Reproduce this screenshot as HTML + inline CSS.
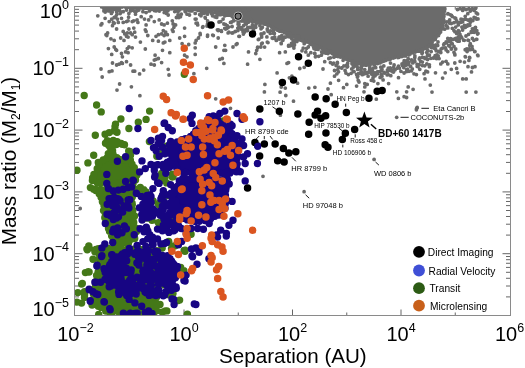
<!DOCTYPE html>
<html><head><meta charset="utf-8"><style>
html,body{margin:0;padding:0;background:#fff;width:525px;height:368px;overflow:hidden}
svg{display:block;will-change:transform}
</style></head><body>
<svg width="525" height="368" viewBox="0 0 525 368">
<defs><clipPath id="cp"><rect x="74.5" y="6.5" width="436.0" height="309.0"/></clipPath></defs>
<path d="M74.5 6.50h8M510.5 6.50h-8M74.5 49.70h4.5M510.5 49.70h-4.5M74.5 38.81h4.5M510.5 38.81h-4.5M74.5 31.09h4.5M510.5 31.09h-4.5M74.5 25.10h4.5M510.5 25.10h-4.5M74.5 20.21h4.5M510.5 20.21h-4.5M74.5 16.07h4.5M510.5 16.07h-4.5M74.5 12.49h4.5M510.5 12.49h-4.5M74.5 9.33h4.5M510.5 9.33h-4.5M74.5 68.30h8M510.5 68.30h-8M74.5 111.50h4.5M510.5 111.50h-4.5M74.5 100.61h4.5M510.5 100.61h-4.5M74.5 92.89h4.5M510.5 92.89h-4.5M74.5 86.90h4.5M510.5 86.90h-4.5M74.5 82.01h4.5M510.5 82.01h-4.5M74.5 77.87h4.5M510.5 77.87h-4.5M74.5 74.29h4.5M510.5 74.29h-4.5M74.5 71.13h4.5M510.5 71.13h-4.5M74.5 130.10h8M510.5 130.10h-8M74.5 173.30h4.5M510.5 173.30h-4.5M74.5 162.41h4.5M510.5 162.41h-4.5M74.5 154.69h4.5M510.5 154.69h-4.5M74.5 148.70h4.5M510.5 148.70h-4.5M74.5 143.81h4.5M510.5 143.81h-4.5M74.5 139.67h4.5M510.5 139.67h-4.5M74.5 136.09h4.5M510.5 136.09h-4.5M74.5 132.93h4.5M510.5 132.93h-4.5M74.5 191.90h8M510.5 191.90h-8M74.5 235.10h4.5M510.5 235.10h-4.5M74.5 224.21h4.5M510.5 224.21h-4.5M74.5 216.49h4.5M510.5 216.49h-4.5M74.5 210.50h4.5M510.5 210.50h-4.5M74.5 205.61h4.5M510.5 205.61h-4.5M74.5 201.47h4.5M510.5 201.47h-4.5M74.5 197.89h4.5M510.5 197.89h-4.5M74.5 194.73h4.5M510.5 194.73h-4.5M74.5 253.70h8M510.5 253.70h-8M74.5 296.90h4.5M510.5 296.90h-4.5M74.5 286.01h4.5M510.5 286.01h-4.5M74.5 278.29h4.5M510.5 278.29h-4.5M74.5 272.30h4.5M510.5 272.30h-4.5M74.5 267.41h4.5M510.5 267.41h-4.5M74.5 263.27h4.5M510.5 263.27h-4.5M74.5 259.69h4.5M510.5 259.69h-4.5M74.5 256.53h4.5M510.5 256.53h-4.5M74.5 315.50h8M510.5 315.50h-8M129.75 315.5v-3M129.75 6.5v3M184.00 315.5v-6M184.00 6.5v6M238.25 315.5v-3M238.25 6.5v3M292.50 315.5v-6M292.50 6.5v6M346.75 315.5v-3M346.75 6.5v3M401.00 315.5v-6M401.00 6.5v6M455.25 315.5v-3M455.25 6.5v3" stroke="#555" stroke-width="0.9" fill="none"/>
<g clip-path="url(#cp)">
<path fill="#6b6b6b" fill-rule="evenodd" d="M101.6 6.9L130.0 7.4L130.1 7.4L160.0 8.4L200.0 9.0L200.0 9.0L215.0 9.4L215.2 9.4L215.4 9.4L215.5 9.5L215.6 9.5L215.8 9.6L215.9 9.7L216.0 9.8L216.2 9.9L216.3 10.0L216.3 10.1L216.4 10.2L216.5 10.4L216.5 10.5L216.6 10.7L217.3 14.5L230.1 15.4L230.3 15.4L230.4 15.4L230.6 15.5L230.8 15.6L230.9 15.7L231.0 15.8L236.6 20.4L253.1 21.4L253.2 21.4L253.4 21.4L262.4 23.4L262.6 23.5L270.6 26.5L270.7 26.6L280.6 31.5L290.5 34.5L290.6 34.5L290.8 34.6L299.7 39.5L309.6 43.5L318.5 46.5L318.7 46.6L328.7 51.6L328.8 51.6L337.6 56.5L347.5 59.5L347.7 59.5L356.5 63.5L366.1 65.4L374.7 64.4L392.5 58.5L392.7 58.4L406.5 55.4L419.4 50.5L419.5 50.5L426.1 48.1L431.8 42.9L438.6 35.1L441.5 29.4L443.4 22.7L445.2 5.6L101.6 5.6L101.6 6.9Z"/>
<path fill="#6b6b6b" d="M95.9 15.8a1.9 1.9 0 1 0 3.8 0a1.9 1.9 0 1 0 -3.8 0M103.2 18.3a1.9 1.9 0 1 0 3.8 0a1.9 1.9 0 1 0 -3.8 0M99.1 24.9a1.9 1.9 0 1 0 3.8 0a1.9 1.9 0 1 0 -3.8 0M100.0 23.7a1.9 1.9 0 1 0 3.8 0a1.9 1.9 0 1 0 -3.8 0M107.3 21.6a1.9 1.9 0 1 0 3.8 0a1.9 1.9 0 1 0 -3.8 0M109.8 19.1a1.9 1.9 0 1 0 3.8 0a1.9 1.9 0 1 0 -3.8 0M112.3 17.5a1.9 1.9 0 1 0 3.8 0a1.9 1.9 0 1 0 -3.8 0M113.9 16.7a1.9 1.9 0 1 0 3.8 0a1.9 1.9 0 1 0 -3.8 0M115.5 19.1a1.9 1.9 0 1 0 3.8 0a1.9 1.9 0 1 0 -3.8 0M111.4 22.4a1.9 1.9 0 1 0 3.8 0a1.9 1.9 0 1 0 -3.8 0M110.6 25.7a1.9 1.9 0 1 0 3.8 0a1.9 1.9 0 1 0 -3.8 0M114.7 29.0a1.9 1.9 0 1 0 3.8 0a1.9 1.9 0 1 0 -3.8 0M112.3 23.2a1.9 1.9 0 1 0 3.8 0a1.9 1.9 0 1 0 -3.8 0M116.4 22.4a1.9 1.9 0 1 0 3.8 0a1.9 1.9 0 1 0 -3.8 0M119.6 18.3a1.9 1.9 0 1 0 3.8 0a1.9 1.9 0 1 0 -3.8 0M121.3 22.4a1.9 1.9 0 1 0 3.8 0a1.9 1.9 0 1 0 -3.8 0M124.6 21.6a1.9 1.9 0 1 0 3.8 0a1.9 1.9 0 1 0 -3.8 0M126.2 20.8a1.9 1.9 0 1 0 3.8 0a1.9 1.9 0 1 0 -3.8 0M130.3 21.6a1.9 1.9 0 1 0 3.8 0a1.9 1.9 0 1 0 -3.8 0M131.9 20.8a1.9 1.9 0 1 0 3.8 0a1.9 1.9 0 1 0 -3.8 0M135.2 19.9a1.9 1.9 0 1 0 3.8 0a1.9 1.9 0 1 0 -3.8 0M136.0 22.4a1.9 1.9 0 1 0 3.8 0a1.9 1.9 0 1 0 -3.8 0M139.3 16.7a1.9 1.9 0 1 0 3.8 0a1.9 1.9 0 1 0 -3.8 0M142.6 19.1a1.9 1.9 0 1 0 3.8 0a1.9 1.9 0 1 0 -3.8 0M146.7 19.9a1.9 1.9 0 1 0 3.8 0a1.9 1.9 0 1 0 -3.8 0M149.1 16.7a1.9 1.9 0 1 0 3.8 0a1.9 1.9 0 1 0 -3.8 0M152.4 21.6a1.9 1.9 0 1 0 3.8 0a1.9 1.9 0 1 0 -3.8 0M157.3 19.9a1.9 1.9 0 1 0 3.8 0a1.9 1.9 0 1 0 -3.8 0M144.2 24.9a1.9 1.9 0 1 0 3.8 0a1.9 1.9 0 1 0 -3.8 0M143.4 29.8a1.9 1.9 0 1 0 3.8 0a1.9 1.9 0 1 0 -3.8 0M144.2 31.4a1.9 1.9 0 1 0 3.8 0a1.9 1.9 0 1 0 -3.8 0M145.9 35.5a1.9 1.9 0 1 0 3.8 0a1.9 1.9 0 1 0 -3.8 0M121.3 31.4a1.9 1.9 0 1 0 3.8 0a1.9 1.9 0 1 0 -3.8 0M122.9 33.9a1.9 1.9 0 1 0 3.8 0a1.9 1.9 0 1 0 -3.8 0M124.6 36.3a1.9 1.9 0 1 0 3.8 0a1.9 1.9 0 1 0 -3.8 0M127.0 29.0a1.9 1.9 0 1 0 3.8 0a1.9 1.9 0 1 0 -3.8 0M128.7 33.0a1.9 1.9 0 1 0 3.8 0a1.9 1.9 0 1 0 -3.8 0M131.9 28.1a1.9 1.9 0 1 0 3.8 0a1.9 1.9 0 1 0 -3.8 0M132.8 32.2a1.9 1.9 0 1 0 3.8 0a1.9 1.9 0 1 0 -3.8 0M133.6 37.1a1.9 1.9 0 1 0 3.8 0a1.9 1.9 0 1 0 -3.8 0M130.3 34.7a1.9 1.9 0 1 0 3.8 0a1.9 1.9 0 1 0 -3.8 0M125.4 33.0a1.9 1.9 0 1 0 3.8 0a1.9 1.9 0 1 0 -3.8 0M104.1 34.7a1.9 1.9 0 1 0 3.8 0a1.9 1.9 0 1 0 -3.8 0M105.7 33.0a1.9 1.9 0 1 0 3.8 0a1.9 1.9 0 1 0 -3.8 0M104.9 35.5a1.9 1.9 0 1 0 3.8 0a1.9 1.9 0 1 0 -3.8 0M109.0 38.8a1.9 1.9 0 1 0 3.8 0a1.9 1.9 0 1 0 -3.8 0M112.3 40.4a1.9 1.9 0 1 0 3.8 0a1.9 1.9 0 1 0 -3.8 0M118.8 38.0a1.9 1.9 0 1 0 3.8 0a1.9 1.9 0 1 0 -3.8 0M122.1 40.4a1.9 1.9 0 1 0 3.8 0a1.9 1.9 0 1 0 -3.8 0M126.2 37.1a1.9 1.9 0 1 0 3.8 0a1.9 1.9 0 1 0 -3.8 0M138.5 42.1a1.9 1.9 0 1 0 3.8 0a1.9 1.9 0 1 0 -3.8 0M150.8 40.4a1.9 1.9 0 1 0 3.8 0a1.9 1.9 0 1 0 -3.8 0M154.1 36.3a1.9 1.9 0 1 0 3.8 0a1.9 1.9 0 1 0 -3.8 0M156.5 34.7a1.9 1.9 0 1 0 3.8 0a1.9 1.9 0 1 0 -3.8 0M156.5 41.2a1.9 1.9 0 1 0 3.8 0a1.9 1.9 0 1 0 -3.8 0M106.5 48.6a1.9 1.9 0 1 0 3.8 0a1.9 1.9 0 1 0 -3.8 0M112.3 47.0a1.9 1.9 0 1 0 3.8 0a1.9 1.9 0 1 0 -3.8 0M113.9 49.4a1.9 1.9 0 1 0 3.8 0a1.9 1.9 0 1 0 -3.8 0M114.7 50.3a1.9 1.9 0 1 0 3.8 0a1.9 1.9 0 1 0 -3.8 0M109.8 54.4a1.9 1.9 0 1 0 3.8 0a1.9 1.9 0 1 0 -3.8 0M119.6 53.5a1.9 1.9 0 1 0 3.8 0a1.9 1.9 0 1 0 -3.8 0M120.5 56.8a1.9 1.9 0 1 0 3.8 0a1.9 1.9 0 1 0 -3.8 0M123.7 51.9a1.9 1.9 0 1 0 3.8 0a1.9 1.9 0 1 0 -3.8 0M125.4 48.6a1.9 1.9 0 1 0 3.8 0a1.9 1.9 0 1 0 -3.8 0M127.0 47.0a1.9 1.9 0 1 0 3.8 0a1.9 1.9 0 1 0 -3.8 0M130.3 47.8a1.9 1.9 0 1 0 3.8 0a1.9 1.9 0 1 0 -3.8 0M126.2 52.7a1.9 1.9 0 1 0 3.8 0a1.9 1.9 0 1 0 -3.8 0M143.4 49.0a1.9 1.9 0 1 0 3.8 0a1.9 1.9 0 1 0 -3.8 0M153.2 55.2a1.9 1.9 0 1 0 3.8 0a1.9 1.9 0 1 0 -3.8 0M154.1 59.3a1.9 1.9 0 1 0 3.8 0a1.9 1.9 0 1 0 -3.8 0M152.4 60.1a1.9 1.9 0 1 0 3.8 0a1.9 1.9 0 1 0 -3.8 0M156.5 58.5a1.9 1.9 0 1 0 3.8 0a1.9 1.9 0 1 0 -3.8 0M110.6 63.0a1.9 1.9 0 1 0 3.8 0a1.9 1.9 0 1 0 -3.8 0M114.7 65.0a1.9 1.9 0 1 0 3.8 0a1.9 1.9 0 1 0 -3.8 0M117.2 64.2a1.9 1.9 0 1 0 3.8 0a1.9 1.9 0 1 0 -3.8 0M119.6 62.6a1.9 1.9 0 1 0 3.8 0a1.9 1.9 0 1 0 -3.8 0M120.5 63.4a1.9 1.9 0 1 0 3.8 0a1.9 1.9 0 1 0 -3.8 0M124.6 61.7a1.9 1.9 0 1 0 3.8 0a1.9 1.9 0 1 0 -3.8 0M128.7 65.0a1.9 1.9 0 1 0 3.8 0a1.9 1.9 0 1 0 -3.8 0M149.1 64.2a1.9 1.9 0 1 0 3.8 0a1.9 1.9 0 1 0 -3.8 0M152.4 65.0a1.9 1.9 0 1 0 3.8 0a1.9 1.9 0 1 0 -3.8 0M102.4 6.0a1.9 1.9 0 1 0 3.8 0a1.9 1.9 0 1 0 -3.8 0M103.2 10.9a1.9 1.9 0 1 0 3.8 0a1.9 1.9 0 1 0 -3.8 0M106.5 10.9a1.9 1.9 0 1 0 3.8 0a1.9 1.9 0 1 0 -3.8 0M109.0 10.1a1.9 1.9 0 1 0 3.8 0a1.9 1.9 0 1 0 -3.8 0M113.1 9.3a1.9 1.9 0 1 0 3.8 0a1.9 1.9 0 1 0 -3.8 0M114.7 11.7a1.9 1.9 0 1 0 3.8 0a1.9 1.9 0 1 0 -3.8 0M118.0 10.9a1.9 1.9 0 1 0 3.8 0a1.9 1.9 0 1 0 -3.8 0M121.3 11.7a1.9 1.9 0 1 0 3.8 0a1.9 1.9 0 1 0 -3.8 0M124.6 10.1a1.9 1.9 0 1 0 3.8 0a1.9 1.9 0 1 0 -3.8 0M127.0 13.4a1.9 1.9 0 1 0 3.8 0a1.9 1.9 0 1 0 -3.8 0M128.7 10.9a1.9 1.9 0 1 0 3.8 0a1.9 1.9 0 1 0 -3.8 0M133.6 14.2a1.9 1.9 0 1 0 3.8 0a1.9 1.9 0 1 0 -3.8 0M136.9 10.1a1.9 1.9 0 1 0 3.8 0a1.9 1.9 0 1 0 -3.8 0M141.0 11.7a1.9 1.9 0 1 0 3.8 0a1.9 1.9 0 1 0 -3.8 0M144.2 12.6a1.9 1.9 0 1 0 3.8 0a1.9 1.9 0 1 0 -3.8 0M147.5 10.9a1.9 1.9 0 1 0 3.8 0a1.9 1.9 0 1 0 -3.8 0M150.0 9.3a1.9 1.9 0 1 0 3.8 0a1.9 1.9 0 1 0 -3.8 0M154.1 10.9a1.9 1.9 0 1 0 3.8 0a1.9 1.9 0 1 0 -3.8 0M155.7 8.5a1.9 1.9 0 1 0 3.8 0a1.9 1.9 0 1 0 -3.8 0M159.7 9.3a1.9 1.9 0 1 0 3.8 0a1.9 1.9 0 1 0 -3.8 0M164.7 13.4a1.9 1.9 0 1 0 3.8 0a1.9 1.9 0 1 0 -3.8 0M166.3 15.0a1.9 1.9 0 1 0 3.8 0a1.9 1.9 0 1 0 -3.8 0M163.0 10.9a1.9 1.9 0 1 0 3.8 0a1.9 1.9 0 1 0 -3.8 0M173.7 10.1a1.9 1.9 0 1 0 3.8 0a1.9 1.9 0 1 0 -3.8 0M176.1 15.0a1.9 1.9 0 1 0 3.8 0a1.9 1.9 0 1 0 -3.8 0M178.6 16.7a1.9 1.9 0 1 0 3.8 0a1.9 1.9 0 1 0 -3.8 0M177.0 17.5a1.9 1.9 0 1 0 3.8 0a1.9 1.9 0 1 0 -3.8 0M174.5 17.5a1.9 1.9 0 1 0 3.8 0a1.9 1.9 0 1 0 -3.8 0M179.4 14.2a1.9 1.9 0 1 0 3.8 0a1.9 1.9 0 1 0 -3.8 0M183.5 11.7a1.9 1.9 0 1 0 3.8 0a1.9 1.9 0 1 0 -3.8 0M185.1 14.2a1.9 1.9 0 1 0 3.8 0a1.9 1.9 0 1 0 -3.8 0M187.6 15.0a1.9 1.9 0 1 0 3.8 0a1.9 1.9 0 1 0 -3.8 0M190.1 10.9a1.9 1.9 0 1 0 3.8 0a1.9 1.9 0 1 0 -3.8 0M191.7 9.3a1.9 1.9 0 1 0 3.8 0a1.9 1.9 0 1 0 -3.8 0M193.3 13.4a1.9 1.9 0 1 0 3.8 0a1.9 1.9 0 1 0 -3.8 0M197.4 10.1a1.9 1.9 0 1 0 3.8 0a1.9 1.9 0 1 0 -3.8 0M199.1 15.8a1.9 1.9 0 1 0 3.8 0a1.9 1.9 0 1 0 -3.8 0M201.5 13.4a1.9 1.9 0 1 0 3.8 0a1.9 1.9 0 1 0 -3.8 0M202.4 10.9a1.9 1.9 0 1 0 3.8 0a1.9 1.9 0 1 0 -3.8 0M203.2 17.5a1.9 1.9 0 1 0 3.8 0a1.9 1.9 0 1 0 -3.8 0M205.6 14.2a1.9 1.9 0 1 0 3.8 0a1.9 1.9 0 1 0 -3.8 0M207.3 11.7a1.9 1.9 0 1 0 3.8 0a1.9 1.9 0 1 0 -3.8 0M209.7 13.4a1.9 1.9 0 1 0 3.8 0a1.9 1.9 0 1 0 -3.8 0M210.6 15.8a1.9 1.9 0 1 0 3.8 0a1.9 1.9 0 1 0 -3.8 0M213.0 12.6a1.9 1.9 0 1 0 3.8 0a1.9 1.9 0 1 0 -3.8 0M214.7 16.7a1.9 1.9 0 1 0 3.8 0a1.9 1.9 0 1 0 -3.8 0M216.3 13.4a1.9 1.9 0 1 0 3.8 0a1.9 1.9 0 1 0 -3.8 0M219.6 10.9a1.9 1.9 0 1 0 3.8 0a1.9 1.9 0 1 0 -3.8 0M221.2 13.4a1.9 1.9 0 1 0 3.8 0a1.9 1.9 0 1 0 -3.8 0M222.9 15.8a1.9 1.9 0 1 0 3.8 0a1.9 1.9 0 1 0 -3.8 0M225.3 12.6a1.9 1.9 0 1 0 3.8 0a1.9 1.9 0 1 0 -3.8 0M227.8 15.0a1.9 1.9 0 1 0 3.8 0a1.9 1.9 0 1 0 -3.8 0M230.2 11.7a1.9 1.9 0 1 0 3.8 0a1.9 1.9 0 1 0 -3.8 0M232.7 13.4a1.9 1.9 0 1 0 3.8 0a1.9 1.9 0 1 0 -3.8 0M233.5 17.5a1.9 1.9 0 1 0 3.8 0a1.9 1.9 0 1 0 -3.8 0M237.6 12.6a1.9 1.9 0 1 0 3.8 0a1.9 1.9 0 1 0 -3.8 0M239.2 15.8a1.9 1.9 0 1 0 3.8 0a1.9 1.9 0 1 0 -3.8 0M241.7 13.4a1.9 1.9 0 1 0 3.8 0a1.9 1.9 0 1 0 -3.8 0M243.3 10.9a1.9 1.9 0 1 0 3.8 0a1.9 1.9 0 1 0 -3.8 0M240.9 8.5a1.9 1.9 0 1 0 3.8 0a1.9 1.9 0 1 0 -3.8 0M236.8 9.3a1.9 1.9 0 1 0 3.8 0a1.9 1.9 0 1 0 -3.8 0M228.6 8.5a1.9 1.9 0 1 0 3.8 0a1.9 1.9 0 1 0 -3.8 0M220.4 8.5a1.9 1.9 0 1 0 3.8 0a1.9 1.9 0 1 0 -3.8 0M213.0 8.5a1.9 1.9 0 1 0 3.8 0a1.9 1.9 0 1 0 -3.8 0M205.6 8.5a1.9 1.9 0 1 0 3.8 0a1.9 1.9 0 1 0 -3.8 0M199.1 7.6a1.9 1.9 0 1 0 3.8 0a1.9 1.9 0 1 0 -3.8 0M194.2 7.6a1.9 1.9 0 1 0 3.8 0a1.9 1.9 0 1 0 -3.8 0M159.7 24.0a1.9 1.9 0 1 0 3.8 0a1.9 1.9 0 1 0 -3.8 0M162.2 24.9a1.9 1.9 0 1 0 3.8 0a1.9 1.9 0 1 0 -3.8 0M165.5 23.2a1.9 1.9 0 1 0 3.8 0a1.9 1.9 0 1 0 -3.8 0M161.4 30.6a1.9 1.9 0 1 0 3.8 0a1.9 1.9 0 1 0 -3.8 0M163.8 32.2a1.9 1.9 0 1 0 3.8 0a1.9 1.9 0 1 0 -3.8 0M159.7 33.9a1.9 1.9 0 1 0 3.8 0a1.9 1.9 0 1 0 -3.8 0M162.2 35.5a1.9 1.9 0 1 0 3.8 0a1.9 1.9 0 1 0 -3.8 0M165.5 34.7a1.9 1.9 0 1 0 3.8 0a1.9 1.9 0 1 0 -3.8 0M161.4 42.9a1.9 1.9 0 1 0 3.8 0a1.9 1.9 0 1 0 -3.8 0M163.0 42.1a1.9 1.9 0 1 0 3.8 0a1.9 1.9 0 1 0 -3.8 0M167.9 40.4a1.9 1.9 0 1 0 3.8 0a1.9 1.9 0 1 0 -3.8 0M170.4 20.8a1.9 1.9 0 1 0 3.8 0a1.9 1.9 0 1 0 -3.8 0M171.2 24.0a1.9 1.9 0 1 0 3.8 0a1.9 1.9 0 1 0 -3.8 0M172.0 27.3a1.9 1.9 0 1 0 3.8 0a1.9 1.9 0 1 0 -3.8 0M170.4 29.8a1.9 1.9 0 1 0 3.8 0a1.9 1.9 0 1 0 -3.8 0M171.2 31.4a1.9 1.9 0 1 0 3.8 0a1.9 1.9 0 1 0 -3.8 0M173.7 24.9a1.9 1.9 0 1 0 3.8 0a1.9 1.9 0 1 0 -3.8 0M182.7 28.1a1.9 1.9 0 1 0 3.8 0a1.9 1.9 0 1 0 -3.8 0M177.8 38.0a1.9 1.9 0 1 0 3.8 0a1.9 1.9 0 1 0 -3.8 0M182.7 36.3a1.9 1.9 0 1 0 3.8 0a1.9 1.9 0 1 0 -3.8 0M180.2 43.7a1.9 1.9 0 1 0 3.8 0a1.9 1.9 0 1 0 -3.8 0M186.8 44.5a1.9 1.9 0 1 0 3.8 0a1.9 1.9 0 1 0 -3.8 0M193.3 19.1a1.9 1.9 0 1 0 3.8 0a1.9 1.9 0 1 0 -3.8 0M194.2 23.2a1.9 1.9 0 1 0 3.8 0a1.9 1.9 0 1 0 -3.8 0M195.8 24.9a1.9 1.9 0 1 0 3.8 0a1.9 1.9 0 1 0 -3.8 0M193.3 42.9a1.9 1.9 0 1 0 3.8 0a1.9 1.9 0 1 0 -3.8 0M193.3 47.8a1.9 1.9 0 1 0 3.8 0a1.9 1.9 0 1 0 -3.8 0M193.3 54.4a1.9 1.9 0 1 0 3.8 0a1.9 1.9 0 1 0 -3.8 0M198.3 34.7a1.9 1.9 0 1 0 3.8 0a1.9 1.9 0 1 0 -3.8 0M196.6 38.0a1.9 1.9 0 1 0 3.8 0a1.9 1.9 0 1 0 -3.8 0M194.2 40.4a1.9 1.9 0 1 0 3.8 0a1.9 1.9 0 1 0 -3.8 0M200.7 27.3a1.9 1.9 0 1 0 3.8 0a1.9 1.9 0 1 0 -3.8 0M205.6 24.0a1.9 1.9 0 1 0 3.8 0a1.9 1.9 0 1 0 -3.8 0M207.3 26.5a1.9 1.9 0 1 0 3.8 0a1.9 1.9 0 1 0 -3.8 0M205.6 36.3a1.9 1.9 0 1 0 3.8 0a1.9 1.9 0 1 0 -3.8 0M211.4 35.5a1.9 1.9 0 1 0 3.8 0a1.9 1.9 0 1 0 -3.8 0M216.3 38.0a1.9 1.9 0 1 0 3.8 0a1.9 1.9 0 1 0 -3.8 0M213.8 47.0a1.9 1.9 0 1 0 3.8 0a1.9 1.9 0 1 0 -3.8 0M215.5 29.8a1.9 1.9 0 1 0 3.8 0a1.9 1.9 0 1 0 -3.8 0M216.3 30.6a1.9 1.9 0 1 0 3.8 0a1.9 1.9 0 1 0 -3.8 0M219.6 31.4a1.9 1.9 0 1 0 3.8 0a1.9 1.9 0 1 0 -3.8 0M223.7 29.0a1.9 1.9 0 1 0 3.8 0a1.9 1.9 0 1 0 -3.8 0M225.3 25.7a1.9 1.9 0 1 0 3.8 0a1.9 1.9 0 1 0 -3.8 0M224.5 28.1a1.9 1.9 0 1 0 3.8 0a1.9 1.9 0 1 0 -3.8 0M227.0 32.2a1.9 1.9 0 1 0 3.8 0a1.9 1.9 0 1 0 -3.8 0M230.2 33.0a1.9 1.9 0 1 0 3.8 0a1.9 1.9 0 1 0 -3.8 0M233.5 31.4a1.9 1.9 0 1 0 3.8 0a1.9 1.9 0 1 0 -3.8 0M236.0 30.6a1.9 1.9 0 1 0 3.8 0a1.9 1.9 0 1 0 -3.8 0M237.6 36.3a1.9 1.9 0 1 0 3.8 0a1.9 1.9 0 1 0 -3.8 0M240.1 29.0a1.9 1.9 0 1 0 3.8 0a1.9 1.9 0 1 0 -3.8 0M242.5 32.2a1.9 1.9 0 1 0 3.8 0a1.9 1.9 0 1 0 -3.8 0M241.7 25.7a1.9 1.9 0 1 0 3.8 0a1.9 1.9 0 1 0 -3.8 0M243.3 22.4a1.9 1.9 0 1 0 3.8 0a1.9 1.9 0 1 0 -3.8 0M236.8 27.3a1.9 1.9 0 1 0 3.8 0a1.9 1.9 0 1 0 -3.8 0M230.2 26.5a1.9 1.9 0 1 0 3.8 0a1.9 1.9 0 1 0 -3.8 0M228.6 22.4a1.9 1.9 0 1 0 3.8 0a1.9 1.9 0 1 0 -3.8 0M231.9 20.8a1.9 1.9 0 1 0 3.8 0a1.9 1.9 0 1 0 -3.8 0M222.0 24.0a1.9 1.9 0 1 0 3.8 0a1.9 1.9 0 1 0 -3.8 0M218.8 21.6a1.9 1.9 0 1 0 3.8 0a1.9 1.9 0 1 0 -3.8 0M221.2 19.1a1.9 1.9 0 1 0 3.8 0a1.9 1.9 0 1 0 -3.8 0M222.9 45.3a1.9 1.9 0 1 0 3.8 0a1.9 1.9 0 1 0 -3.8 0M222.0 50.3a1.9 1.9 0 1 0 3.8 0a1.9 1.9 0 1 0 -3.8 0M223.7 50.3a1.9 1.9 0 1 0 3.8 0a1.9 1.9 0 1 0 -3.8 0M231.1 47.0a1.9 1.9 0 1 0 3.8 0a1.9 1.9 0 1 0 -3.8 0M234.3 44.5a1.9 1.9 0 1 0 3.8 0a1.9 1.9 0 1 0 -3.8 0M217.9 59.3a1.9 1.9 0 1 0 3.8 0a1.9 1.9 0 1 0 -3.8 0M220.4 58.5a1.9 1.9 0 1 0 3.8 0a1.9 1.9 0 1 0 -3.8 0M222.0 63.4a1.9 1.9 0 1 0 3.8 0a1.9 1.9 0 1 0 -3.8 0M160.6 50.3a1.9 1.9 0 1 0 3.8 0a1.9 1.9 0 1 0 -3.8 0M167.9 52.7a1.9 1.9 0 1 0 3.8 0a1.9 1.9 0 1 0 -3.8 0M182.7 55.2a1.9 1.9 0 1 0 3.8 0a1.9 1.9 0 1 0 -3.8 0M185.1 56.8a1.9 1.9 0 1 0 3.8 0a1.9 1.9 0 1 0 -3.8 0M159.7 62.6a1.9 1.9 0 1 0 3.8 0a1.9 1.9 0 1 0 -3.8 0M245.7 30.6a1.9 1.9 0 1 0 3.8 0a1.9 1.9 0 1 0 -3.8 0M247.4 27.3a1.9 1.9 0 1 0 3.8 0a1.9 1.9 0 1 0 -3.8 0M253.9 27.3a1.9 1.9 0 1 0 3.8 0a1.9 1.9 0 1 0 -3.8 0M258.0 25.7a1.9 1.9 0 1 0 3.8 0a1.9 1.9 0 1 0 -3.8 0M260.5 27.3a1.9 1.9 0 1 0 3.8 0a1.9 1.9 0 1 0 -3.8 0M265.4 29.0a1.9 1.9 0 1 0 3.8 0a1.9 1.9 0 1 0 -3.8 0M266.2 31.4a1.9 1.9 0 1 0 3.8 0a1.9 1.9 0 1 0 -3.8 0M262.1 33.0a1.9 1.9 0 1 0 3.8 0a1.9 1.9 0 1 0 -3.8 0M259.7 35.5a1.9 1.9 0 1 0 3.8 0a1.9 1.9 0 1 0 -3.8 0M256.4 39.6a1.9 1.9 0 1 0 3.8 0a1.9 1.9 0 1 0 -3.8 0M259.7 43.7a1.9 1.9 0 1 0 3.8 0a1.9 1.9 0 1 0 -3.8 0M258.9 47.0a1.9 1.9 0 1 0 3.8 0a1.9 1.9 0 1 0 -3.8 0M255.6 47.8a1.9 1.9 0 1 0 3.8 0a1.9 1.9 0 1 0 -3.8 0M254.8 50.3a1.9 1.9 0 1 0 3.8 0a1.9 1.9 0 1 0 -3.8 0M253.9 53.5a1.9 1.9 0 1 0 3.8 0a1.9 1.9 0 1 0 -3.8 0M246.6 51.9a1.9 1.9 0 1 0 3.8 0a1.9 1.9 0 1 0 -3.8 0M258.0 59.3a1.9 1.9 0 1 0 3.8 0a1.9 1.9 0 1 0 -3.8 0M265.4 42.1a1.9 1.9 0 1 0 3.8 0a1.9 1.9 0 1 0 -3.8 0M270.3 38.0a1.9 1.9 0 1 0 3.8 0a1.9 1.9 0 1 0 -3.8 0M272.8 37.1a1.9 1.9 0 1 0 3.8 0a1.9 1.9 0 1 0 -3.8 0M274.4 40.4a1.9 1.9 0 1 0 3.8 0a1.9 1.9 0 1 0 -3.8 0M276.9 38.8a1.9 1.9 0 1 0 3.8 0a1.9 1.9 0 1 0 -3.8 0M279.3 43.7a1.9 1.9 0 1 0 3.8 0a1.9 1.9 0 1 0 -3.8 0M281.8 38.0a1.9 1.9 0 1 0 3.8 0a1.9 1.9 0 1 0 -3.8 0M285.1 36.3a1.9 1.9 0 1 0 3.8 0a1.9 1.9 0 1 0 -3.8 0M287.5 33.0a1.9 1.9 0 1 0 3.8 0a1.9 1.9 0 1 0 -3.8 0M288.4 37.1a1.9 1.9 0 1 0 3.8 0a1.9 1.9 0 1 0 -3.8 0M291.6 40.4a1.9 1.9 0 1 0 3.8 0a1.9 1.9 0 1 0 -3.8 0M292.5 42.1a1.9 1.9 0 1 0 3.8 0a1.9 1.9 0 1 0 -3.8 0M290.0 45.3a1.9 1.9 0 1 0 3.8 0a1.9 1.9 0 1 0 -3.8 0M286.7 46.2a1.9 1.9 0 1 0 3.8 0a1.9 1.9 0 1 0 -3.8 0M283.4 51.9a1.9 1.9 0 1 0 3.8 0a1.9 1.9 0 1 0 -3.8 0M277.7 52.7a1.9 1.9 0 1 0 3.8 0a1.9 1.9 0 1 0 -3.8 0M294.1 38.8a1.9 1.9 0 1 0 3.8 0a1.9 1.9 0 1 0 -3.8 0M296.6 36.3a1.9 1.9 0 1 0 3.8 0a1.9 1.9 0 1 0 -3.8 0M300.7 39.6a1.9 1.9 0 1 0 3.8 0a1.9 1.9 0 1 0 -3.8 0M302.3 43.7a1.9 1.9 0 1 0 3.8 0a1.9 1.9 0 1 0 -3.8 0M305.6 41.2a1.9 1.9 0 1 0 3.8 0a1.9 1.9 0 1 0 -3.8 0M308.9 42.9a1.9 1.9 0 1 0 3.8 0a1.9 1.9 0 1 0 -3.8 0M311.3 45.3a1.9 1.9 0 1 0 3.8 0a1.9 1.9 0 1 0 -3.8 0M312.1 48.6a1.9 1.9 0 1 0 3.8 0a1.9 1.9 0 1 0 -3.8 0M316.2 49.4a1.9 1.9 0 1 0 3.8 0a1.9 1.9 0 1 0 -3.8 0M319.5 47.8a1.9 1.9 0 1 0 3.8 0a1.9 1.9 0 1 0 -3.8 0M321.1 52.7a1.9 1.9 0 1 0 3.8 0a1.9 1.9 0 1 0 -3.8 0M326.1 53.5a1.9 1.9 0 1 0 3.8 0a1.9 1.9 0 1 0 -3.8 0M329.3 51.1a1.9 1.9 0 1 0 3.8 0a1.9 1.9 0 1 0 -3.8 0M306.4 47.0a1.9 1.9 0 1 0 3.8 0a1.9 1.9 0 1 0 -3.8 0M303.9 51.9a1.9 1.9 0 1 0 3.8 0a1.9 1.9 0 1 0 -3.8 0M306.4 55.2a1.9 1.9 0 1 0 3.8 0a1.9 1.9 0 1 0 -3.8 0M308.9 52.7a1.9 1.9 0 1 0 3.8 0a1.9 1.9 0 1 0 -3.8 0M313.0 53.5a1.9 1.9 0 1 0 3.8 0a1.9 1.9 0 1 0 -3.8 0M319.5 55.2a1.9 1.9 0 1 0 3.8 0a1.9 1.9 0 1 0 -3.8 0M326.9 58.5a1.9 1.9 0 1 0 3.8 0a1.9 1.9 0 1 0 -3.8 0M328.5 62.6a1.9 1.9 0 1 0 3.8 0a1.9 1.9 0 1 0 -3.8 0M285.1 63.4a1.9 1.9 0 1 0 3.8 0a1.9 1.9 0 1 0 -3.8 0M286.7 62.6a1.9 1.9 0 1 0 3.8 0a1.9 1.9 0 1 0 -3.8 0M245.7 64.2a1.9 1.9 0 1 0 3.8 0a1.9 1.9 0 1 0 -3.8 0M322.8 61.7a1.9 1.9 0 1 0 3.8 0a1.9 1.9 0 1 0 -3.8 0M445.9 13.9a1.9 1.9 0 1 0 3.8 0a1.9 1.9 0 1 0 -3.8 0M448.6 14.8a1.9 1.9 0 1 0 3.8 0a1.9 1.9 0 1 0 -3.8 0M450.3 16.5a1.9 1.9 0 1 0 3.8 0a1.9 1.9 0 1 0 -3.8 0M453.8 18.3a1.9 1.9 0 1 0 3.8 0a1.9 1.9 0 1 0 -3.8 0M455.6 9.5a1.9 1.9 0 1 0 3.8 0a1.9 1.9 0 1 0 -3.8 0M458.2 8.6a1.9 1.9 0 1 0 3.8 0a1.9 1.9 0 1 0 -3.8 0M460.8 10.4a1.9 1.9 0 1 0 3.8 0a1.9 1.9 0 1 0 -3.8 0M461.7 7.8a1.9 1.9 0 1 0 3.8 0a1.9 1.9 0 1 0 -3.8 0M464.3 9.5a1.9 1.9 0 1 0 3.8 0a1.9 1.9 0 1 0 -3.8 0M467.0 8.6a1.9 1.9 0 1 0 3.8 0a1.9 1.9 0 1 0 -3.8 0M470.5 8.6a1.9 1.9 0 1 0 3.8 0a1.9 1.9 0 1 0 -3.8 0M472.2 10.4a1.9 1.9 0 1 0 3.8 0a1.9 1.9 0 1 0 -3.8 0M474.0 7.8a1.9 1.9 0 1 0 3.8 0a1.9 1.9 0 1 0 -3.8 0M475.7 13.9a1.9 1.9 0 1 0 3.8 0a1.9 1.9 0 1 0 -3.8 0M474.9 19.2a1.9 1.9 0 1 0 3.8 0a1.9 1.9 0 1 0 -3.8 0M472.2 17.4a1.9 1.9 0 1 0 3.8 0a1.9 1.9 0 1 0 -3.8 0M468.7 19.2a1.9 1.9 0 1 0 3.8 0a1.9 1.9 0 1 0 -3.8 0M466.1 20.0a1.9 1.9 0 1 0 3.8 0a1.9 1.9 0 1 0 -3.8 0M463.5 19.2a1.9 1.9 0 1 0 3.8 0a1.9 1.9 0 1 0 -3.8 0M460.8 21.8a1.9 1.9 0 1 0 3.8 0a1.9 1.9 0 1 0 -3.8 0M459.1 19.2a1.9 1.9 0 1 0 3.8 0a1.9 1.9 0 1 0 -3.8 0M457.3 22.7a1.9 1.9 0 1 0 3.8 0a1.9 1.9 0 1 0 -3.8 0M454.7 21.8a1.9 1.9 0 1 0 3.8 0a1.9 1.9 0 1 0 -3.8 0M452.1 22.7a1.9 1.9 0 1 0 3.8 0a1.9 1.9 0 1 0 -3.8 0M449.4 23.5a1.9 1.9 0 1 0 3.8 0a1.9 1.9 0 1 0 -3.8 0M447.7 20.0a1.9 1.9 0 1 0 3.8 0a1.9 1.9 0 1 0 -3.8 0M445.0 21.8a1.9 1.9 0 1 0 3.8 0a1.9 1.9 0 1 0 -3.8 0M444.2 25.3a1.9 1.9 0 1 0 3.8 0a1.9 1.9 0 1 0 -3.8 0M442.4 28.8a1.9 1.9 0 1 0 3.8 0a1.9 1.9 0 1 0 -3.8 0M445.9 27.9a1.9 1.9 0 1 0 3.8 0a1.9 1.9 0 1 0 -3.8 0M453.8 27.1a1.9 1.9 0 1 0 3.8 0a1.9 1.9 0 1 0 -3.8 0M452.1 30.6a1.9 1.9 0 1 0 3.8 0a1.9 1.9 0 1 0 -3.8 0M454.7 32.3a1.9 1.9 0 1 0 3.8 0a1.9 1.9 0 1 0 -3.8 0M456.5 30.6a1.9 1.9 0 1 0 3.8 0a1.9 1.9 0 1 0 -3.8 0M460.0 27.1a1.9 1.9 0 1 0 3.8 0a1.9 1.9 0 1 0 -3.8 0M462.6 25.3a1.9 1.9 0 1 0 3.8 0a1.9 1.9 0 1 0 -3.8 0M465.2 26.2a1.9 1.9 0 1 0 3.8 0a1.9 1.9 0 1 0 -3.8 0M467.9 25.3a1.9 1.9 0 1 0 3.8 0a1.9 1.9 0 1 0 -3.8 0M470.5 28.8a1.9 1.9 0 1 0 3.8 0a1.9 1.9 0 1 0 -3.8 0M473.1 27.9a1.9 1.9 0 1 0 3.8 0a1.9 1.9 0 1 0 -3.8 0M474.9 30.6a1.9 1.9 0 1 0 3.8 0a1.9 1.9 0 1 0 -3.8 0M475.7 34.1a1.9 1.9 0 1 0 3.8 0a1.9 1.9 0 1 0 -3.8 0M472.2 32.3a1.9 1.9 0 1 0 3.8 0a1.9 1.9 0 1 0 -3.8 0M469.6 32.3a1.9 1.9 0 1 0 3.8 0a1.9 1.9 0 1 0 -3.8 0M459.1 36.7a1.9 1.9 0 1 0 3.8 0a1.9 1.9 0 1 0 -3.8 0M457.3 39.3a1.9 1.9 0 1 0 3.8 0a1.9 1.9 0 1 0 -3.8 0M455.6 41.1a1.9 1.9 0 1 0 3.8 0a1.9 1.9 0 1 0 -3.8 0M453.8 38.5a1.9 1.9 0 1 0 3.8 0a1.9 1.9 0 1 0 -3.8 0M451.2 39.3a1.9 1.9 0 1 0 3.8 0a1.9 1.9 0 1 0 -3.8 0M448.6 41.1a1.9 1.9 0 1 0 3.8 0a1.9 1.9 0 1 0 -3.8 0M445.9 38.5a1.9 1.9 0 1 0 3.8 0a1.9 1.9 0 1 0 -3.8 0M444.2 42.0a1.9 1.9 0 1 0 3.8 0a1.9 1.9 0 1 0 -3.8 0M442.4 43.7a1.9 1.9 0 1 0 3.8 0a1.9 1.9 0 1 0 -3.8 0M446.8 45.5a1.9 1.9 0 1 0 3.8 0a1.9 1.9 0 1 0 -3.8 0M450.3 43.7a1.9 1.9 0 1 0 3.8 0a1.9 1.9 0 1 0 -3.8 0M452.1 46.4a1.9 1.9 0 1 0 3.8 0a1.9 1.9 0 1 0 -3.8 0M453.8 49.0a1.9 1.9 0 1 0 3.8 0a1.9 1.9 0 1 0 -3.8 0M449.4 49.0a1.9 1.9 0 1 0 3.8 0a1.9 1.9 0 1 0 -3.8 0M445.9 51.6a1.9 1.9 0 1 0 3.8 0a1.9 1.9 0 1 0 -3.8 0M444.2 49.9a1.9 1.9 0 1 0 3.8 0a1.9 1.9 0 1 0 -3.8 0M440.7 48.1a1.9 1.9 0 1 0 3.8 0a1.9 1.9 0 1 0 -3.8 0M438.9 52.5a1.9 1.9 0 1 0 3.8 0a1.9 1.9 0 1 0 -3.8 0M436.3 56.0a1.9 1.9 0 1 0 3.8 0a1.9 1.9 0 1 0 -3.8 0M434.5 58.6a1.9 1.9 0 1 0 3.8 0a1.9 1.9 0 1 0 -3.8 0M437.2 58.6a1.9 1.9 0 1 0 3.8 0a1.9 1.9 0 1 0 -3.8 0M440.7 62.1a1.9 1.9 0 1 0 3.8 0a1.9 1.9 0 1 0 -3.8 0M444.2 61.3a1.9 1.9 0 1 0 3.8 0a1.9 1.9 0 1 0 -3.8 0M445.9 63.9a1.9 1.9 0 1 0 3.8 0a1.9 1.9 0 1 0 -3.8 0M438.9 63.9a1.9 1.9 0 1 0 3.8 0a1.9 1.9 0 1 0 -3.8 0M452.9 54.2a1.9 1.9 0 1 0 3.8 0a1.9 1.9 0 1 0 -3.8 0M452.9 63.0a1.9 1.9 0 1 0 3.8 0a1.9 1.9 0 1 0 -3.8 0M461.7 40.2a1.9 1.9 0 1 0 3.8 0a1.9 1.9 0 1 0 -3.8 0M466.1 40.2a1.9 1.9 0 1 0 3.8 0a1.9 1.9 0 1 0 -3.8 0M470.5 38.5a1.9 1.9 0 1 0 3.8 0a1.9 1.9 0 1 0 -3.8 0M474.9 39.3a1.9 1.9 0 1 0 3.8 0a1.9 1.9 0 1 0 -3.8 0M467.9 45.5a1.9 1.9 0 1 0 3.8 0a1.9 1.9 0 1 0 -3.8 0M470.5 49.0a1.9 1.9 0 1 0 3.8 0a1.9 1.9 0 1 0 -3.8 0M467.0 49.0a1.9 1.9 0 1 0 3.8 0a1.9 1.9 0 1 0 -3.8 0M463.5 49.9a1.9 1.9 0 1 0 3.8 0a1.9 1.9 0 1 0 -3.8 0M465.2 51.6a1.9 1.9 0 1 0 3.8 0a1.9 1.9 0 1 0 -3.8 0M473.1 51.6a1.9 1.9 0 1 0 3.8 0a1.9 1.9 0 1 0 -3.8 0M475.7 55.1a1.9 1.9 0 1 0 3.8 0a1.9 1.9 0 1 0 -3.8 0M463.5 56.9a1.9 1.9 0 1 0 3.8 0a1.9 1.9 0 1 0 -3.8 0M467.9 57.8a1.9 1.9 0 1 0 3.8 0a1.9 1.9 0 1 0 -3.8 0M467.0 60.4a1.9 1.9 0 1 0 3.8 0a1.9 1.9 0 1 0 -3.8 0M462.6 62.1a1.9 1.9 0 1 0 3.8 0a1.9 1.9 0 1 0 -3.8 0M458.2 61.3a1.9 1.9 0 1 0 3.8 0a1.9 1.9 0 1 0 -3.8 0M429.3 51.6a1.9 1.9 0 1 0 3.8 0a1.9 1.9 0 1 0 -3.8 0M427.5 55.1a1.9 1.9 0 1 0 3.8 0a1.9 1.9 0 1 0 -3.8 0M423.1 58.6a1.9 1.9 0 1 0 3.8 0a1.9 1.9 0 1 0 -3.8 0M420.5 62.1a1.9 1.9 0 1 0 3.8 0a1.9 1.9 0 1 0 -3.8 0M417.9 57.8a1.9 1.9 0 1 0 3.8 0a1.9 1.9 0 1 0 -3.8 0M418.7 61.3a1.9 1.9 0 1 0 3.8 0a1.9 1.9 0 1 0 -3.8 0M425.7 59.5a1.9 1.9 0 1 0 3.8 0a1.9 1.9 0 1 0 -3.8 0M424.9 63.9a1.9 1.9 0 1 0 3.8 0a1.9 1.9 0 1 0 -3.8 0M420.5 65.6a1.9 1.9 0 1 0 3.8 0a1.9 1.9 0 1 0 -3.8 0M427.5 64.8a1.9 1.9 0 1 0 3.8 0a1.9 1.9 0 1 0 -3.8 0M433.6 49.0a1.9 1.9 0 1 0 3.8 0a1.9 1.9 0 1 0 -3.8 0M435.4 45.5a1.9 1.9 0 1 0 3.8 0a1.9 1.9 0 1 0 -3.8 0M430.1 44.6a1.9 1.9 0 1 0 3.8 0a1.9 1.9 0 1 0 -3.8 0M431.9 48.1a1.9 1.9 0 1 0 3.8 0a1.9 1.9 0 1 0 -3.8 0M428.4 42.0a1.9 1.9 0 1 0 3.8 0a1.9 1.9 0 1 0 -3.8 0M331.7 63.1a1.9 1.9 0 1 0 3.8 0a1.9 1.9 0 1 0 -3.8 0M334.2 65.6a1.9 1.9 0 1 0 3.8 0a1.9 1.9 0 1 0 -3.8 0M336.7 67.2a1.9 1.9 0 1 0 3.8 0a1.9 1.9 0 1 0 -3.8 0M332.6 70.5a1.9 1.9 0 1 0 3.8 0a1.9 1.9 0 1 0 -3.8 0M335.8 69.7a1.9 1.9 0 1 0 3.8 0a1.9 1.9 0 1 0 -3.8 0M335.0 73.8a1.9 1.9 0 1 0 3.8 0a1.9 1.9 0 1 0 -3.8 0M332.6 76.2a1.9 1.9 0 1 0 3.8 0a1.9 1.9 0 1 0 -3.8 0M336.7 80.3a1.9 1.9 0 1 0 3.8 0a1.9 1.9 0 1 0 -3.8 0M339.9 68.0a1.9 1.9 0 1 0 3.8 0a1.9 1.9 0 1 0 -3.8 0M343.2 70.5a1.9 1.9 0 1 0 3.8 0a1.9 1.9 0 1 0 -3.8 0M344.0 73.0a1.9 1.9 0 1 0 3.8 0a1.9 1.9 0 1 0 -3.8 0M346.5 74.6a1.9 1.9 0 1 0 3.8 0a1.9 1.9 0 1 0 -3.8 0M345.7 66.4a1.9 1.9 0 1 0 3.8 0a1.9 1.9 0 1 0 -3.8 0M349.8 68.9a1.9 1.9 0 1 0 3.8 0a1.9 1.9 0 1 0 -3.8 0M351.4 71.3a1.9 1.9 0 1 0 3.8 0a1.9 1.9 0 1 0 -3.8 0M354.7 74.6a1.9 1.9 0 1 0 3.8 0a1.9 1.9 0 1 0 -3.8 0M355.5 77.0a1.9 1.9 0 1 0 3.8 0a1.9 1.9 0 1 0 -3.8 0M356.3 80.3a1.9 1.9 0 1 0 3.8 0a1.9 1.9 0 1 0 -3.8 0M357.1 82.0a1.9 1.9 0 1 0 3.8 0a1.9 1.9 0 1 0 -3.8 0M354.7 86.1a1.9 1.9 0 1 0 3.8 0a1.9 1.9 0 1 0 -3.8 0M351.4 67.2a1.9 1.9 0 1 0 3.8 0a1.9 1.9 0 1 0 -3.8 0M359.6 68.0a1.9 1.9 0 1 0 3.8 0a1.9 1.9 0 1 0 -3.8 0M362.9 69.7a1.9 1.9 0 1 0 3.8 0a1.9 1.9 0 1 0 -3.8 0M364.5 73.0a1.9 1.9 0 1 0 3.8 0a1.9 1.9 0 1 0 -3.8 0M366.2 76.2a1.9 1.9 0 1 0 3.8 0a1.9 1.9 0 1 0 -3.8 0M367.8 68.0a1.9 1.9 0 1 0 3.8 0a1.9 1.9 0 1 0 -3.8 0M370.3 69.7a1.9 1.9 0 1 0 3.8 0a1.9 1.9 0 1 0 -3.8 0M371.1 73.8a1.9 1.9 0 1 0 3.8 0a1.9 1.9 0 1 0 -3.8 0M371.1 77.9a1.9 1.9 0 1 0 3.8 0a1.9 1.9 0 1 0 -3.8 0M369.4 80.3a1.9 1.9 0 1 0 3.8 0a1.9 1.9 0 1 0 -3.8 0M371.9 81.1a1.9 1.9 0 1 0 3.8 0a1.9 1.9 0 1 0 -3.8 0M373.5 73.0a1.9 1.9 0 1 0 3.8 0a1.9 1.9 0 1 0 -3.8 0M376.0 72.1a1.9 1.9 0 1 0 3.8 0a1.9 1.9 0 1 0 -3.8 0M378.5 71.3a1.9 1.9 0 1 0 3.8 0a1.9 1.9 0 1 0 -3.8 0M379.3 74.6a1.9 1.9 0 1 0 3.8 0a1.9 1.9 0 1 0 -3.8 0M380.1 76.2a1.9 1.9 0 1 0 3.8 0a1.9 1.9 0 1 0 -3.8 0M382.6 73.0a1.9 1.9 0 1 0 3.8 0a1.9 1.9 0 1 0 -3.8 0M385.8 71.3a1.9 1.9 0 1 0 3.8 0a1.9 1.9 0 1 0 -3.8 0M388.3 68.0a1.9 1.9 0 1 0 3.8 0a1.9 1.9 0 1 0 -3.8 0M389.9 70.5a1.9 1.9 0 1 0 3.8 0a1.9 1.9 0 1 0 -3.8 0M391.6 72.1a1.9 1.9 0 1 0 3.8 0a1.9 1.9 0 1 0 -3.8 0M393.2 69.7a1.9 1.9 0 1 0 3.8 0a1.9 1.9 0 1 0 -3.8 0M395.7 68.0a1.9 1.9 0 1 0 3.8 0a1.9 1.9 0 1 0 -3.8 0M399.0 71.3a1.9 1.9 0 1 0 3.8 0a1.9 1.9 0 1 0 -3.8 0M402.2 73.0a1.9 1.9 0 1 0 3.8 0a1.9 1.9 0 1 0 -3.8 0M404.7 69.7a1.9 1.9 0 1 0 3.8 0a1.9 1.9 0 1 0 -3.8 0M407.1 71.3a1.9 1.9 0 1 0 3.8 0a1.9 1.9 0 1 0 -3.8 0M410.4 68.9a1.9 1.9 0 1 0 3.8 0a1.9 1.9 0 1 0 -3.8 0M412.1 73.8a1.9 1.9 0 1 0 3.8 0a1.9 1.9 0 1 0 -3.8 0M414.5 74.6a1.9 1.9 0 1 0 3.8 0a1.9 1.9 0 1 0 -3.8 0M415.3 66.4a1.9 1.9 0 1 0 3.8 0a1.9 1.9 0 1 0 -3.8 0M408.8 66.4a1.9 1.9 0 1 0 3.8 0a1.9 1.9 0 1 0 -3.8 0M400.6 65.6a1.9 1.9 0 1 0 3.8 0a1.9 1.9 0 1 0 -3.8 0M403.1 63.9a1.9 1.9 0 1 0 3.8 0a1.9 1.9 0 1 0 -3.8 0M407.1 62.3a1.9 1.9 0 1 0 3.8 0a1.9 1.9 0 1 0 -3.8 0M412.9 61.5a1.9 1.9 0 1 0 3.8 0a1.9 1.9 0 1 0 -3.8 0M344.9 84.4a1.9 1.9 0 1 0 3.8 0a1.9 1.9 0 1 0 -3.8 0M341.6 87.7a1.9 1.9 0 1 0 3.8 0a1.9 1.9 0 1 0 -3.8 0M362.9 83.6a1.9 1.9 0 1 0 3.8 0a1.9 1.9 0 1 0 -3.8 0M365.3 84.4a1.9 1.9 0 1 0 3.8 0a1.9 1.9 0 1 0 -3.8 0M362.9 86.9a1.9 1.9 0 1 0 3.8 0a1.9 1.9 0 1 0 -3.8 0M362.1 91.8a1.9 1.9 0 1 0 3.8 0a1.9 1.9 0 1 0 -3.8 0M376.0 83.6a1.9 1.9 0 1 0 3.8 0a1.9 1.9 0 1 0 -3.8 0M386.7 83.6a1.9 1.9 0 1 0 3.8 0a1.9 1.9 0 1 0 -3.8 0M406.3 86.9a1.9 1.9 0 1 0 3.8 0a1.9 1.9 0 1 0 -3.8 0M404.7 91.8a1.9 1.9 0 1 0 3.8 0a1.9 1.9 0 1 0 -3.8 0M402.2 96.7a1.9 1.9 0 1 0 3.8 0a1.9 1.9 0 1 0 -3.8 0M404.7 97.5a1.9 1.9 0 1 0 3.8 0a1.9 1.9 0 1 0 -3.8 0M411.2 89.3a1.9 1.9 0 1 0 3.8 0a1.9 1.9 0 1 0 -3.8 0M394.9 91.8a1.9 1.9 0 1 0 3.8 0a1.9 1.9 0 1 0 -3.8 0M396.5 98.4a1.9 1.9 0 1 0 3.8 0a1.9 1.9 0 1 0 -3.8 0M374.4 99.2a1.9 1.9 0 1 0 3.8 0a1.9 1.9 0 1 0 -3.8 0M415.3 107.4a1.9 1.9 0 1 0 3.8 0a1.9 1.9 0 1 0 -3.8 0M414.5 109.8a1.9 1.9 0 1 0 3.8 0a1.9 1.9 0 1 0 -3.8 0M427.5 66.7a1.9 1.9 0 1 0 3.8 0a1.9 1.9 0 1 0 -3.8 0M424.0 71.1a1.9 1.9 0 1 0 3.8 0a1.9 1.9 0 1 0 -3.8 0M422.2 73.7a1.9 1.9 0 1 0 3.8 0a1.9 1.9 0 1 0 -3.8 0M425.7 71.9a1.9 1.9 0 1 0 3.8 0a1.9 1.9 0 1 0 -3.8 0M433.6 72.8a1.9 1.9 0 1 0 3.8 0a1.9 1.9 0 1 0 -3.8 0M443.3 72.8a1.9 1.9 0 1 0 3.8 0a1.9 1.9 0 1 0 -3.8 0M440.7 78.1a1.9 1.9 0 1 0 3.8 0a1.9 1.9 0 1 0 -3.8 0M423.1 78.9a1.9 1.9 0 1 0 3.8 0a1.9 1.9 0 1 0 -3.8 0M428.4 85.1a1.9 1.9 0 1 0 3.8 0a1.9 1.9 0 1 0 -3.8 0M430.1 92.1a1.9 1.9 0 1 0 3.8 0a1.9 1.9 0 1 0 -3.8 0M449.4 69.3a1.9 1.9 0 1 0 3.8 0a1.9 1.9 0 1 0 -3.8 0M454.7 68.4a1.9 1.9 0 1 0 3.8 0a1.9 1.9 0 1 0 -3.8 0M455.6 72.8a1.9 1.9 0 1 0 3.8 0a1.9 1.9 0 1 0 -3.8 0M460.8 78.9a1.9 1.9 0 1 0 3.8 0a1.9 1.9 0 1 0 -3.8 0M464.3 78.9a1.9 1.9 0 1 0 3.8 0a1.9 1.9 0 1 0 -3.8 0M464.3 92.1a1.9 1.9 0 1 0 3.8 0a1.9 1.9 0 1 0 -3.8 0M474.0 92.1a1.9 1.9 0 1 0 3.8 0a1.9 1.9 0 1 0 -3.8 0M466.1 66.7a1.9 1.9 0 1 0 3.8 0a1.9 1.9 0 1 0 -3.8 0M470.5 67.5a1.9 1.9 0 1 0 3.8 0a1.9 1.9 0 1 0 -3.8 0M473.1 66.7a1.9 1.9 0 1 0 3.8 0a1.9 1.9 0 1 0 -3.8 0M469.6 71.9a1.9 1.9 0 1 0 3.8 0a1.9 1.9 0 1 0 -3.8 0M416.1 66.7a1.9 1.9 0 1 0 3.8 0a1.9 1.9 0 1 0 -3.8 0M417.9 69.3a1.9 1.9 0 1 0 3.8 0a1.9 1.9 0 1 0 -3.8 0M99.1 69.0a1.9 1.9 0 1 0 3.8 0a1.9 1.9 0 1 0 -3.8 0M107.3 71.7a1.9 1.9 0 1 0 3.8 0a1.9 1.9 0 1 0 -3.8 0M110.1 70.9a1.9 1.9 0 1 0 3.8 0a1.9 1.9 0 1 0 -3.8 0M100.3 77.0a1.9 1.9 0 1 0 3.8 0a1.9 1.9 0 1 0 -3.8 0M131.1 71.2a1.9 1.9 0 1 0 3.8 0a1.9 1.9 0 1 0 -3.8 0M132.8 71.2a1.9 1.9 0 1 0 3.8 0a1.9 1.9 0 1 0 -3.8 0M137.7 73.9a1.9 1.9 0 1 0 3.8 0a1.9 1.9 0 1 0 -3.8 0M141.8 70.1a1.9 1.9 0 1 0 3.8 0a1.9 1.9 0 1 0 -3.8 0M117.7 84.0a1.9 1.9 0 1 0 3.8 0a1.9 1.9 0 1 0 -3.8 0M115.1 90.1a1.9 1.9 0 1 0 3.8 0a1.9 1.9 0 1 0 -3.8 0M129.5 86.8a1.9 1.9 0 1 0 3.8 0a1.9 1.9 0 1 0 -3.8 0M138.0 95.7a1.9 1.9 0 1 0 3.8 0a1.9 1.9 0 1 0 -3.8 0M166.3 69.3a1.9 1.9 0 1 0 3.8 0a1.9 1.9 0 1 0 -3.8 0M167.1 75.0a1.9 1.9 0 1 0 3.8 0a1.9 1.9 0 1 0 -3.8 0M192.0 73.7a1.9 1.9 0 1 0 3.8 0a1.9 1.9 0 1 0 -3.8 0M204.8 68.3a1.9 1.9 0 1 0 3.8 0a1.9 1.9 0 1 0 -3.8 0M213.8 98.8a1.9 1.9 0 1 0 3.8 0a1.9 1.9 0 1 0 -3.8 0M228.6 108.3a1.9 1.9 0 1 0 3.8 0a1.9 1.9 0 1 0 -3.8 0M275.2 72.9a1.9 1.9 0 1 0 3.8 0a1.9 1.9 0 1 0 -3.8 0M263.0 84.4a1.9 1.9 0 1 0 3.8 0a1.9 1.9 0 1 0 -3.8 0M262.5 91.9a1.9 1.9 0 1 0 3.8 0a1.9 1.9 0 1 0 -3.8 0M278.2 92.2a1.9 1.9 0 1 0 3.8 0a1.9 1.9 0 1 0 -3.8 0M279.3 87.0a1.9 1.9 0 1 0 3.8 0a1.9 1.9 0 1 0 -3.8 0M283.4 88.1a1.9 1.9 0 1 0 3.8 0a1.9 1.9 0 1 0 -3.8 0M283.9 95.5a1.9 1.9 0 1 0 3.8 0a1.9 1.9 0 1 0 -3.8 0M291.6 101.2a1.9 1.9 0 1 0 3.8 0a1.9 1.9 0 1 0 -3.8 0M287.5 77.8a1.9 1.9 0 1 0 3.8 0a1.9 1.9 0 1 0 -3.8 0M290.0 76.2a1.9 1.9 0 1 0 3.8 0a1.9 1.9 0 1 0 -3.8 0M293.3 80.8a1.9 1.9 0 1 0 3.8 0a1.9 1.9 0 1 0 -3.8 0M295.7 83.2a1.9 1.9 0 1 0 3.8 0a1.9 1.9 0 1 0 -3.8 0M297.9 68.5a1.9 1.9 0 1 0 3.8 0a1.9 1.9 0 1 0 -3.8 0M302.3 67.3a1.9 1.9 0 1 0 3.8 0a1.9 1.9 0 1 0 -3.8 0M306.9 88.1a1.9 1.9 0 1 0 3.8 0a1.9 1.9 0 1 0 -3.8 0M313.0 87.3a1.9 1.9 0 1 0 3.8 0a1.9 1.9 0 1 0 -3.8 0M321.1 69.0a1.9 1.9 0 1 0 3.8 0a1.9 1.9 0 1 0 -3.8 0M326.1 89.0a1.9 1.9 0 1 0 3.8 0a1.9 1.9 0 1 0 -3.8 0M328.5 83.2a1.9 1.9 0 1 0 3.8 0a1.9 1.9 0 1 0 -3.8 0M329.3 94.7a1.9 1.9 0 1 0 3.8 0a1.9 1.9 0 1 0 -3.8 0M278.5 115.2a1.9 1.9 0 1 0 3.8 0a1.9 1.9 0 1 0 -3.8 0M78.3 208.5a1.9 1.9 0 1 0 3.8 0a1.9 1.9 0 1 0 -3.8 0M197.7 14.6a1.9 1.9 0 1 0 3.8 0a1.9 1.9 0 1 0 -3.8 0M195.4 23.1a1.9 1.9 0 1 0 3.8 0a1.9 1.9 0 1 0 -3.8 0M194.2 19.1a1.9 1.9 0 1 0 3.8 0a1.9 1.9 0 1 0 -3.8 0M201.1 26.6a1.9 1.9 0 1 0 3.8 0a1.9 1.9 0 1 0 -3.8 0M203.4 18.0a1.9 1.9 0 1 0 3.8 0a1.9 1.9 0 1 0 -3.8 0M205.7 20.9a1.9 1.9 0 1 0 3.8 0a1.9 1.9 0 1 0 -3.8 0M205.1 26.0a1.9 1.9 0 1 0 3.8 0a1.9 1.9 0 1 0 -3.8 0M210.2 14.6a1.9 1.9 0 1 0 3.8 0a1.9 1.9 0 1 0 -3.8 0M213.1 16.9a1.9 1.9 0 1 0 3.8 0a1.9 1.9 0 1 0 -3.8 0M211.4 12.9a1.9 1.9 0 1 0 3.8 0a1.9 1.9 0 1 0 -3.8 0M214.8 17.4a1.9 1.9 0 1 0 3.8 0a1.9 1.9 0 1 0 -3.8 0M217.1 22.0a1.9 1.9 0 1 0 3.8 0a1.9 1.9 0 1 0 -3.8 0M216.5 30.0a1.9 1.9 0 1 0 3.8 0a1.9 1.9 0 1 0 -3.8 0M219.4 30.6a1.9 1.9 0 1 0 3.8 0a1.9 1.9 0 1 0 -3.8 0M223.4 24.3a1.9 1.9 0 1 0 3.8 0a1.9 1.9 0 1 0 -3.8 0M225.1 28.3a1.9 1.9 0 1 0 3.8 0a1.9 1.9 0 1 0 -3.8 0M226.8 27.1a1.9 1.9 0 1 0 3.8 0a1.9 1.9 0 1 0 -3.8 0M222.8 28.3a1.9 1.9 0 1 0 3.8 0a1.9 1.9 0 1 0 -3.8 0M226.2 32.9a1.9 1.9 0 1 0 3.8 0a1.9 1.9 0 1 0 -3.8 0M230.8 32.9a1.9 1.9 0 1 0 3.8 0a1.9 1.9 0 1 0 -3.8 0M233.1 31.7a1.9 1.9 0 1 0 3.8 0a1.9 1.9 0 1 0 -3.8 0M229.7 22.0a1.9 1.9 0 1 0 3.8 0a1.9 1.9 0 1 0 -3.8 0M232.0 19.7a1.9 1.9 0 1 0 3.8 0a1.9 1.9 0 1 0 -3.8 0M236.5 17.4a1.9 1.9 0 1 0 3.8 0a1.9 1.9 0 1 0 -3.8 0M237.1 24.3a1.9 1.9 0 1 0 3.8 0a1.9 1.9 0 1 0 -3.8 0M238.8 27.7a1.9 1.9 0 1 0 3.8 0a1.9 1.9 0 1 0 -3.8 0M241.1 31.7a1.9 1.9 0 1 0 3.8 0a1.9 1.9 0 1 0 -3.8 0M243.4 30.0a1.9 1.9 0 1 0 3.8 0a1.9 1.9 0 1 0 -3.8 0M245.7 27.7a1.9 1.9 0 1 0 3.8 0a1.9 1.9 0 1 0 -3.8 0M246.8 22.0a1.9 1.9 0 1 0 3.8 0a1.9 1.9 0 1 0 -3.8 0M249.1 19.7a1.9 1.9 0 1 0 3.8 0a1.9 1.9 0 1 0 -3.8 0M198.2 33.4a1.9 1.9 0 1 0 3.8 0a1.9 1.9 0 1 0 -3.8 0M205.7 35.1a1.9 1.9 0 1 0 3.8 0a1.9 1.9 0 1 0 -3.8 0M210.8 35.1a1.9 1.9 0 1 0 3.8 0a1.9 1.9 0 1 0 -3.8 0M200.0 10.6a1.9 1.9 0 1 0 3.8 0a1.9 1.9 0 1 0 -3.8 0M204.5 10.6a1.9 1.9 0 1 0 3.8 0a1.9 1.9 0 1 0 -3.8 0M209.1 11.1a1.9 1.9 0 1 0 3.8 0a1.9 1.9 0 1 0 -3.8 0M236.4 23.1a1.9 1.9 0 1 0 3.8 0a1.9 1.9 0 1 0 -3.8 0M237.5 27.7a1.9 1.9 0 1 0 3.8 0a1.9 1.9 0 1 0 -3.8 0M239.8 28.9a1.9 1.9 0 1 0 3.8 0a1.9 1.9 0 1 0 -3.8 0M245.0 30.6a1.9 1.9 0 1 0 3.8 0a1.9 1.9 0 1 0 -3.8 0M237.0 36.3a1.9 1.9 0 1 0 3.8 0a1.9 1.9 0 1 0 -3.8 0M241.5 34.0a1.9 1.9 0 1 0 3.8 0a1.9 1.9 0 1 0 -3.8 0M252.4 26.6a1.9 1.9 0 1 0 3.8 0a1.9 1.9 0 1 0 -3.8 0M257.0 39.1a1.9 1.9 0 1 0 3.8 0a1.9 1.9 0 1 0 -3.8 0M259.2 34.0a1.9 1.9 0 1 0 3.8 0a1.9 1.9 0 1 0 -3.8 0M260.4 43.1a1.9 1.9 0 1 0 3.8 0a1.9 1.9 0 1 0 -3.8 0M265.5 30.0a1.9 1.9 0 1 0 3.8 0a1.9 1.9 0 1 0 -3.8 0M265.0 36.9a1.9 1.9 0 1 0 3.8 0a1.9 1.9 0 1 0 -3.8 0M266.1 42.6a1.9 1.9 0 1 0 3.8 0a1.9 1.9 0 1 0 -3.8 0M268.4 33.4a1.9 1.9 0 1 0 3.8 0a1.9 1.9 0 1 0 -3.8 0M271.8 33.4a1.9 1.9 0 1 0 3.8 0a1.9 1.9 0 1 0 -3.8 0M273.0 38.6a1.9 1.9 0 1 0 3.8 0a1.9 1.9 0 1 0 -3.8 0M274.7 40.3a1.9 1.9 0 1 0 3.8 0a1.9 1.9 0 1 0 -3.8 0M277.5 36.9a1.9 1.9 0 1 0 3.8 0a1.9 1.9 0 1 0 -3.8 0M279.8 35.7a1.9 1.9 0 1 0 3.8 0a1.9 1.9 0 1 0 -3.8 0M281.0 40.3a1.9 1.9 0 1 0 3.8 0a1.9 1.9 0 1 0 -3.8 0M279.2 43.1a1.9 1.9 0 1 0 3.8 0a1.9 1.9 0 1 0 -3.8 0M284.4 33.4a1.9 1.9 0 1 0 3.8 0a1.9 1.9 0 1 0 -3.8 0M287.8 36.3a1.9 1.9 0 1 0 3.8 0a1.9 1.9 0 1 0 -3.8 0M291.2 40.3a1.9 1.9 0 1 0 3.8 0a1.9 1.9 0 1 0 -3.8 0M290.1 43.7a1.9 1.9 0 1 0 3.8 0a1.9 1.9 0 1 0 -3.8 0M286.7 45.4a1.9 1.9 0 1 0 3.8 0a1.9 1.9 0 1 0 -3.8 0M293.5 35.7a1.9 1.9 0 1 0 3.8 0a1.9 1.9 0 1 0 -3.8 0M235.2 43.7a1.9 1.9 0 1 0 3.8 0a1.9 1.9 0 1 0 -3.8 0M255.8 47.1a1.9 1.9 0 1 0 3.8 0a1.9 1.9 0 1 0 -3.8 0M262.7 47.1a1.9 1.9 0 1 0 3.8 0a1.9 1.9 0 1 0 -3.8 0M446.1 13.7a1.9 1.9 0 1 0 3.8 0a1.9 1.9 0 1 0 -3.8 0M449.6 15.4a1.9 1.9 0 1 0 3.8 0a1.9 1.9 0 1 0 -3.8 0M453.0 18.0a1.9 1.9 0 1 0 3.8 0a1.9 1.9 0 1 0 -3.8 0M454.7 20.6a1.9 1.9 0 1 0 3.8 0a1.9 1.9 0 1 0 -3.8 0M447.8 23.2a1.9 1.9 0 1 0 3.8 0a1.9 1.9 0 1 0 -3.8 0M445.3 26.6a1.9 1.9 0 1 0 3.8 0a1.9 1.9 0 1 0 -3.8 0M442.7 29.2a1.9 1.9 0 1 0 3.8 0a1.9 1.9 0 1 0 -3.8 0M450.4 28.3a1.9 1.9 0 1 0 3.8 0a1.9 1.9 0 1 0 -3.8 0M453.0 31.7a1.9 1.9 0 1 0 3.8 0a1.9 1.9 0 1 0 -3.8 0M454.7 33.4a1.9 1.9 0 1 0 3.8 0a1.9 1.9 0 1 0 -3.8 0M457.3 31.7a1.9 1.9 0 1 0 3.8 0a1.9 1.9 0 1 0 -3.8 0M456.4 24.9a1.9 1.9 0 1 0 3.8 0a1.9 1.9 0 1 0 -3.8 0M459.0 22.3a1.9 1.9 0 1 0 3.8 0a1.9 1.9 0 1 0 -3.8 0M460.7 19.7a1.9 1.9 0 1 0 3.8 0a1.9 1.9 0 1 0 -3.8 0M463.3 16.3a1.9 1.9 0 1 0 3.8 0a1.9 1.9 0 1 0 -3.8 0M465.9 13.7a1.9 1.9 0 1 0 3.8 0a1.9 1.9 0 1 0 -3.8 0M468.4 11.1a1.9 1.9 0 1 0 3.8 0a1.9 1.9 0 1 0 -3.8 0M470.1 9.4a1.9 1.9 0 1 0 3.8 0a1.9 1.9 0 1 0 -3.8 0M473.6 8.6a1.9 1.9 0 1 0 3.8 0a1.9 1.9 0 1 0 -3.8 0M474.4 12.9a1.9 1.9 0 1 0 3.8 0a1.9 1.9 0 1 0 -3.8 0M476.1 18.9a1.9 1.9 0 1 0 3.8 0a1.9 1.9 0 1 0 -3.8 0M473.6 18.0a1.9 1.9 0 1 0 3.8 0a1.9 1.9 0 1 0 -3.8 0M471.0 20.6a1.9 1.9 0 1 0 3.8 0a1.9 1.9 0 1 0 -3.8 0M468.4 22.3a1.9 1.9 0 1 0 3.8 0a1.9 1.9 0 1 0 -3.8 0M465.9 24.9a1.9 1.9 0 1 0 3.8 0a1.9 1.9 0 1 0 -3.8 0M463.3 27.4a1.9 1.9 0 1 0 3.8 0a1.9 1.9 0 1 0 -3.8 0M460.7 30.0a1.9 1.9 0 1 0 3.8 0a1.9 1.9 0 1 0 -3.8 0M458.1 34.3a1.9 1.9 0 1 0 3.8 0a1.9 1.9 0 1 0 -3.8 0M456.4 36.9a1.9 1.9 0 1 0 3.8 0a1.9 1.9 0 1 0 -3.8 0M454.7 40.3a1.9 1.9 0 1 0 3.8 0a1.9 1.9 0 1 0 -3.8 0M451.3 39.4a1.9 1.9 0 1 0 3.8 0a1.9 1.9 0 1 0 -3.8 0M448.7 38.6a1.9 1.9 0 1 0 3.8 0a1.9 1.9 0 1 0 -3.8 0M447.0 41.2a1.9 1.9 0 1 0 3.8 0a1.9 1.9 0 1 0 -3.8 0M444.4 42.9a1.9 1.9 0 1 0 3.8 0a1.9 1.9 0 1 0 -3.8 0M441.8 44.6a1.9 1.9 0 1 0 3.8 0a1.9 1.9 0 1 0 -3.8 0M443.6 48.0a1.9 1.9 0 1 0 3.8 0a1.9 1.9 0 1 0 -3.8 0M447.8 46.3a1.9 1.9 0 1 0 3.8 0a1.9 1.9 0 1 0 -3.8 0M449.6 48.9a1.9 1.9 0 1 0 3.8 0a1.9 1.9 0 1 0 -3.8 0M452.1 52.3a1.9 1.9 0 1 0 3.8 0a1.9 1.9 0 1 0 -3.8 0M453.0 54.9a1.9 1.9 0 1 0 3.8 0a1.9 1.9 0 1 0 -3.8 0M449.6 43.7a1.9 1.9 0 1 0 3.8 0a1.9 1.9 0 1 0 -3.8 0M457.3 41.2a1.9 1.9 0 1 0 3.8 0a1.9 1.9 0 1 0 -3.8 0M459.8 37.7a1.9 1.9 0 1 0 3.8 0a1.9 1.9 0 1 0 -3.8 0M462.4 40.3a1.9 1.9 0 1 0 3.8 0a1.9 1.9 0 1 0 -3.8 0M464.1 36.0a1.9 1.9 0 1 0 3.8 0a1.9 1.9 0 1 0 -3.8 0M466.7 34.3a1.9 1.9 0 1 0 3.8 0a1.9 1.9 0 1 0 -3.8 0M469.3 31.7a1.9 1.9 0 1 0 3.8 0a1.9 1.9 0 1 0 -3.8 0M471.9 30.0a1.9 1.9 0 1 0 3.8 0a1.9 1.9 0 1 0 -3.8 0M473.6 27.4a1.9 1.9 0 1 0 3.8 0a1.9 1.9 0 1 0 -3.8 0M474.4 31.7a1.9 1.9 0 1 0 3.8 0a1.9 1.9 0 1 0 -3.8 0M476.1 33.4a1.9 1.9 0 1 0 3.8 0a1.9 1.9 0 1 0 -3.8 0M466.7 40.3a1.9 1.9 0 1 0 3.8 0a1.9 1.9 0 1 0 -3.8 0M468.4 43.7a1.9 1.9 0 1 0 3.8 0a1.9 1.9 0 1 0 -3.8 0M470.1 46.3a1.9 1.9 0 1 0 3.8 0a1.9 1.9 0 1 0 -3.8 0M471.9 40.3a1.9 1.9 0 1 0 3.8 0a1.9 1.9 0 1 0 -3.8 0M474.4 39.4a1.9 1.9 0 1 0 3.8 0a1.9 1.9 0 1 0 -3.8 0M463.3 49.7a1.9 1.9 0 1 0 3.8 0a1.9 1.9 0 1 0 -3.8 0M465.0 48.9a1.9 1.9 0 1 0 3.8 0a1.9 1.9 0 1 0 -3.8 0M468.4 49.7a1.9 1.9 0 1 0 3.8 0a1.9 1.9 0 1 0 -3.8 0M472.7 51.5a1.9 1.9 0 1 0 3.8 0a1.9 1.9 0 1 0 -3.8 0M476.1 55.7a1.9 1.9 0 1 0 3.8 0a1.9 1.9 0 1 0 -3.8 0M463.3 56.6a1.9 1.9 0 1 0 3.8 0a1.9 1.9 0 1 0 -3.8 0M467.6 57.5a1.9 1.9 0 1 0 3.8 0a1.9 1.9 0 1 0 -3.8 0M439.3 48.9a1.9 1.9 0 1 0 3.8 0a1.9 1.9 0 1 0 -3.8 0M436.7 51.5a1.9 1.9 0 1 0 3.8 0a1.9 1.9 0 1 0 -3.8 0M435.0 54.9a1.9 1.9 0 1 0 3.8 0a1.9 1.9 0 1 0 -3.8 0M432.4 57.5a1.9 1.9 0 1 0 3.8 0a1.9 1.9 0 1 0 -3.8 0M425.5 55.7a1.9 1.9 0 1 0 3.8 0a1.9 1.9 0 1 0 -3.8 0M280.4 38.2a1.9 1.9 0 1 0 3.8 0a1.9 1.9 0 1 0 -3.8 0M351.3 65.5a1.9 1.9 0 1 0 3.8 0a1.9 1.9 0 1 0 -3.8 0M236.2 24.2a1.9 1.9 0 1 0 3.8 0a1.9 1.9 0 1 0 -3.8 0M423.2 58.6a1.9 1.9 0 1 0 3.8 0a1.9 1.9 0 1 0 -3.8 0M391.8 71.5a1.9 1.9 0 1 0 3.8 0a1.9 1.9 0 1 0 -3.8 0M354.6 66.0a1.9 1.9 0 1 0 3.8 0a1.9 1.9 0 1 0 -3.8 0M332.0 57.2a1.9 1.9 0 1 0 3.8 0a1.9 1.9 0 1 0 -3.8 0M378.2 77.4a1.9 1.9 0 1 0 3.8 0a1.9 1.9 0 1 0 -3.8 0M292.0 48.0a1.9 1.9 0 1 0 3.8 0a1.9 1.9 0 1 0 -3.8 0M370.8 71.6a1.9 1.9 0 1 0 3.8 0a1.9 1.9 0 1 0 -3.8 0M369.7 74.0a1.9 1.9 0 1 0 3.8 0a1.9 1.9 0 1 0 -3.8 0M319.7 51.7a1.9 1.9 0 1 0 3.8 0a1.9 1.9 0 1 0 -3.8 0M400.2 64.5a1.9 1.9 0 1 0 3.8 0a1.9 1.9 0 1 0 -3.8 0M417.4 59.0a1.9 1.9 0 1 0 3.8 0a1.9 1.9 0 1 0 -3.8 0M352.1 66.1a1.9 1.9 0 1 0 3.8 0a1.9 1.9 0 1 0 -3.8 0M301.3 48.2a1.9 1.9 0 1 0 3.8 0a1.9 1.9 0 1 0 -3.8 0M345.3 67.1a1.9 1.9 0 1 0 3.8 0a1.9 1.9 0 1 0 -3.8 0M397.5 68.1a1.9 1.9 0 1 0 3.8 0a1.9 1.9 0 1 0 -3.8 0M361.6 72.8a1.9 1.9 0 1 0 3.8 0a1.9 1.9 0 1 0 -3.8 0M405.8 69.1a1.9 1.9 0 1 0 3.8 0a1.9 1.9 0 1 0 -3.8 0M369.2 71.8a1.9 1.9 0 1 0 3.8 0a1.9 1.9 0 1 0 -3.8 0M288.3 45.8a1.9 1.9 0 1 0 3.8 0a1.9 1.9 0 1 0 -3.8 0M396.6 66.2a1.9 1.9 0 1 0 3.8 0a1.9 1.9 0 1 0 -3.8 0M311.7 46.9a1.9 1.9 0 1 0 3.8 0a1.9 1.9 0 1 0 -3.8 0M289.9 38.7a1.9 1.9 0 1 0 3.8 0a1.9 1.9 0 1 0 -3.8 0M349.2 73.3a1.9 1.9 0 1 0 3.8 0a1.9 1.9 0 1 0 -3.8 0M370.9 74.7a1.9 1.9 0 1 0 3.8 0a1.9 1.9 0 1 0 -3.8 0M330.7 64.0a1.9 1.9 0 1 0 3.8 0a1.9 1.9 0 1 0 -3.8 0M292.6 45.0a1.9 1.9 0 1 0 3.8 0a1.9 1.9 0 1 0 -3.8 0M272.5 33.5a1.9 1.9 0 1 0 3.8 0a1.9 1.9 0 1 0 -3.8 0M350.1 63.7a1.9 1.9 0 1 0 3.8 0a1.9 1.9 0 1 0 -3.8 0M295.2 40.7a1.9 1.9 0 1 0 3.8 0a1.9 1.9 0 1 0 -3.8 0M404.1 65.0a1.9 1.9 0 1 0 3.8 0a1.9 1.9 0 1 0 -3.8 0M355.8 69.4a1.9 1.9 0 1 0 3.8 0a1.9 1.9 0 1 0 -3.8 0M339.7 68.0a1.9 1.9 0 1 0 3.8 0a1.9 1.9 0 1 0 -3.8 0M316.8 56.3a1.9 1.9 0 1 0 3.8 0a1.9 1.9 0 1 0 -3.8 0M280.2 38.0a1.9 1.9 0 1 0 3.8 0a1.9 1.9 0 1 0 -3.8 0M336.6 71.8a1.9 1.9 0 1 0 3.8 0a1.9 1.9 0 1 0 -3.8 0M313.5 48.0a1.9 1.9 0 1 0 3.8 0a1.9 1.9 0 1 0 -3.8 0M352.5 65.2a1.9 1.9 0 1 0 3.8 0a1.9 1.9 0 1 0 -3.8 0M352.2 71.7a1.9 1.9 0 1 0 3.8 0a1.9 1.9 0 1 0 -3.8 0M368.1 71.0a1.9 1.9 0 1 0 3.8 0a1.9 1.9 0 1 0 -3.8 0M239.5 29.2a1.9 1.9 0 1 0 3.8 0a1.9 1.9 0 1 0 -3.8 0M282.7 37.2a1.9 1.9 0 1 0 3.8 0a1.9 1.9 0 1 0 -3.8 0M345.7 63.5a1.9 1.9 0 1 0 3.8 0a1.9 1.9 0 1 0 -3.8 0M304.7 48.3a1.9 1.9 0 1 0 3.8 0a1.9 1.9 0 1 0 -3.8 0M291.0 44.3a1.9 1.9 0 1 0 3.8 0a1.9 1.9 0 1 0 -3.8 0M342.0 65.9a1.9 1.9 0 1 0 3.8 0a1.9 1.9 0 1 0 -3.8 0M293.1 40.6a1.9 1.9 0 1 0 3.8 0a1.9 1.9 0 1 0 -3.8 0M270.8 38.3a1.9 1.9 0 1 0 3.8 0a1.9 1.9 0 1 0 -3.8 0M365.5 72.7a1.9 1.9 0 1 0 3.8 0a1.9 1.9 0 1 0 -3.8 0M391.8 67.2a1.9 1.9 0 1 0 3.8 0a1.9 1.9 0 1 0 -3.8 0M396.6 66.1a1.9 1.9 0 1 0 3.8 0a1.9 1.9 0 1 0 -3.8 0M401.8 65.8a1.9 1.9 0 1 0 3.8 0a1.9 1.9 0 1 0 -3.8 0M277.1 37.3a1.9 1.9 0 1 0 3.8 0a1.9 1.9 0 1 0 -3.8 0M387.4 70.0a1.9 1.9 0 1 0 3.8 0a1.9 1.9 0 1 0 -3.8 0M270.5 30.7a1.9 1.9 0 1 0 3.8 0a1.9 1.9 0 1 0 -3.8 0M386.3 74.7a1.9 1.9 0 1 0 3.8 0a1.9 1.9 0 1 0 -3.8 0M259.6 27.3a1.9 1.9 0 1 0 3.8 0a1.9 1.9 0 1 0 -3.8 0M300.1 50.8a1.9 1.9 0 1 0 3.8 0a1.9 1.9 0 1 0 -3.8 0M313.5 56.8a1.9 1.9 0 1 0 3.8 0a1.9 1.9 0 1 0 -3.8 0M235.9 28.1a1.9 1.9 0 1 0 3.8 0a1.9 1.9 0 1 0 -3.8 0M401.8 67.5a1.9 1.9 0 1 0 3.8 0a1.9 1.9 0 1 0 -3.8 0M409.6 59.9a1.9 1.9 0 1 0 3.8 0a1.9 1.9 0 1 0 -3.8 0M375.5 73.8a1.9 1.9 0 1 0 3.8 0a1.9 1.9 0 1 0 -3.8 0M289.6 43.3a1.9 1.9 0 1 0 3.8 0a1.9 1.9 0 1 0 -3.8 0M277.7 39.1a1.9 1.9 0 1 0 3.8 0a1.9 1.9 0 1 0 -3.8 0M386.4 68.2a1.9 1.9 0 1 0 3.8 0a1.9 1.9 0 1 0 -3.8 0M406.3 64.6a1.9 1.9 0 1 0 3.8 0a1.9 1.9 0 1 0 -3.8 0M404.8 71.5a1.9 1.9 0 1 0 3.8 0a1.9 1.9 0 1 0 -3.8 0M236.4 22.2a1.9 1.9 0 1 0 3.8 0a1.9 1.9 0 1 0 -3.8 0M359.2 70.1a1.9 1.9 0 1 0 3.8 0a1.9 1.9 0 1 0 -3.8 0M312.7 53.4a1.9 1.9 0 1 0 3.8 0a1.9 1.9 0 1 0 -3.8 0M283.7 37.0a1.9 1.9 0 1 0 3.8 0a1.9 1.9 0 1 0 -3.8 0M324.1 53.2a1.9 1.9 0 1 0 3.8 0a1.9 1.9 0 1 0 -3.8 0M335.5 62.4a1.9 1.9 0 1 0 3.8 0a1.9 1.9 0 1 0 -3.8 0M268.6 30.9a1.9 1.9 0 1 0 3.8 0a1.9 1.9 0 1 0 -3.8 0M388.9 75.7a1.9 1.9 0 1 0 3.8 0a1.9 1.9 0 1 0 -3.8 0M352.3 65.4a1.9 1.9 0 1 0 3.8 0a1.9 1.9 0 1 0 -3.8 0M286.2 36.6a1.9 1.9 0 1 0 3.8 0a1.9 1.9 0 1 0 -3.8 0M313.8 56.1a1.9 1.9 0 1 0 3.8 0a1.9 1.9 0 1 0 -3.8 0M244.4 24.1a1.9 1.9 0 1 0 3.8 0a1.9 1.9 0 1 0 -3.8 0M259.8 37.1a1.9 1.9 0 1 0 3.8 0a1.9 1.9 0 1 0 -3.8 0M251.5 28.7a1.9 1.9 0 1 0 3.8 0a1.9 1.9 0 1 0 -3.8 0M295.0 41.5a1.9 1.9 0 1 0 3.8 0a1.9 1.9 0 1 0 -3.8 0M344.7 65.2a1.9 1.9 0 1 0 3.8 0a1.9 1.9 0 1 0 -3.8 0M271.7 31.0a1.9 1.9 0 1 0 3.8 0a1.9 1.9 0 1 0 -3.8 0M369.2 71.9a1.9 1.9 0 1 0 3.8 0a1.9 1.9 0 1 0 -3.8 0M250.5 25.0a1.9 1.9 0 1 0 3.8 0a1.9 1.9 0 1 0 -3.8 0M382.2 72.5a1.9 1.9 0 1 0 3.8 0a1.9 1.9 0 1 0 -3.8 0M385.5 70.1a1.9 1.9 0 1 0 3.8 0a1.9 1.9 0 1 0 -3.8 0M328.5 57.8a1.9 1.9 0 1 0 3.8 0a1.9 1.9 0 1 0 -3.8 0M313.8 49.3a1.9 1.9 0 1 0 3.8 0a1.9 1.9 0 1 0 -3.8 0M335.5 63.2a1.9 1.9 0 1 0 3.8 0a1.9 1.9 0 1 0 -3.8 0M249.3 27.5a1.9 1.9 0 1 0 3.8 0a1.9 1.9 0 1 0 -3.8 0M411.7 61.4a1.9 1.9 0 1 0 3.8 0a1.9 1.9 0 1 0 -3.8 0M404.3 61.9a1.9 1.9 0 1 0 3.8 0a1.9 1.9 0 1 0 -3.8 0M259.4 28.5a1.9 1.9 0 1 0 3.8 0a1.9 1.9 0 1 0 -3.8 0M359.4 73.7a1.9 1.9 0 1 0 3.8 0a1.9 1.9 0 1 0 -3.8 0M373.2 75.8a1.9 1.9 0 1 0 3.8 0a1.9 1.9 0 1 0 -3.8 0M254.1 24.3a1.9 1.9 0 1 0 3.8 0a1.9 1.9 0 1 0 -3.8 0M380.1 69.2a1.9 1.9 0 1 0 3.8 0a1.9 1.9 0 1 0 -3.8 0M252.0 31.7a1.9 1.9 0 1 0 3.8 0a1.9 1.9 0 1 0 -3.8 0M239.5 28.3a1.9 1.9 0 1 0 3.8 0a1.9 1.9 0 1 0 -3.8 0M259.1 28.8a1.9 1.9 0 1 0 3.8 0a1.9 1.9 0 1 0 -3.8 0M415.2 64.5a1.9 1.9 0 1 0 3.8 0a1.9 1.9 0 1 0 -3.8 0M385.3 74.9a1.9 1.9 0 1 0 3.8 0a1.9 1.9 0 1 0 -3.8 0M368.5 71.5a1.9 1.9 0 1 0 3.8 0a1.9 1.9 0 1 0 -3.8 0M375.8 71.6a1.9 1.9 0 1 0 3.8 0a1.9 1.9 0 1 0 -3.8 0M341.2 60.3a1.9 1.9 0 1 0 3.8 0a1.9 1.9 0 1 0 -3.8 0M261.1 176.3a1.9 1.9 0 1 0 3.8 0a1.9 1.9 0 1 0 -3.8 0M169.9 8.8a1.9 1.9 0 1 0 3.8 0a1.9 1.9 0 1 0 -3.8 0M102.1 8.9a1.9 1.9 0 1 0 3.8 0a1.9 1.9 0 1 0 -3.8 0M233.4 11.4a1.9 1.9 0 1 0 3.8 0a1.9 1.9 0 1 0 -3.8 0M106.9 9.7a1.9 1.9 0 1 0 3.8 0a1.9 1.9 0 1 0 -3.8 0M203.8 12.9a1.9 1.9 0 1 0 3.8 0a1.9 1.9 0 1 0 -3.8 0M135.3 9.2a1.9 1.9 0 1 0 3.8 0a1.9 1.9 0 1 0 -3.8 0M176.1 11.7a1.9 1.9 0 1 0 3.8 0a1.9 1.9 0 1 0 -3.8 0M158.0 9.7a1.9 1.9 0 1 0 3.8 0a1.9 1.9 0 1 0 -3.8 0M116.5 8.8a1.9 1.9 0 1 0 3.8 0a1.9 1.9 0 1 0 -3.8 0M162.3 12.6a1.9 1.9 0 1 0 3.8 0a1.9 1.9 0 1 0 -3.8 0M140.9 8.2a1.9 1.9 0 1 0 3.8 0a1.9 1.9 0 1 0 -3.8 0M131.2 10.3a1.9 1.9 0 1 0 3.8 0a1.9 1.9 0 1 0 -3.8 0M230.4 10.7a1.9 1.9 0 1 0 3.8 0a1.9 1.9 0 1 0 -3.8 0M104.4 8.7a1.9 1.9 0 1 0 3.8 0a1.9 1.9 0 1 0 -3.8 0M233.6 11.1a1.9 1.9 0 1 0 3.8 0a1.9 1.9 0 1 0 -3.8 0M187.0 10.6a1.9 1.9 0 1 0 3.8 0a1.9 1.9 0 1 0 -3.8 0M131.0 9.0a1.9 1.9 0 1 0 3.8 0a1.9 1.9 0 1 0 -3.8 0M102.8 7.6a1.9 1.9 0 1 0 3.8 0a1.9 1.9 0 1 0 -3.8 0M173.9 10.7a1.9 1.9 0 1 0 3.8 0a1.9 1.9 0 1 0 -3.8 0M194.2 9.2a1.9 1.9 0 1 0 3.8 0a1.9 1.9 0 1 0 -3.8 0M187.2 9.7a1.9 1.9 0 1 0 3.8 0a1.9 1.9 0 1 0 -3.8 0M109.2 11.7a1.9 1.9 0 1 0 3.8 0a1.9 1.9 0 1 0 -3.8 0M191.2 9.1a1.9 1.9 0 1 0 3.8 0a1.9 1.9 0 1 0 -3.8 0M247.0 9.7a1.9 1.9 0 1 0 3.8 0a1.9 1.9 0 1 0 -3.8 0M205.0 10.0a1.9 1.9 0 1 0 3.8 0a1.9 1.9 0 1 0 -3.8 0M107.2 8.3a1.9 1.9 0 1 0 3.8 0a1.9 1.9 0 1 0 -3.8 0M199.4 12.6a1.9 1.9 0 1 0 3.8 0a1.9 1.9 0 1 0 -3.8 0M152.9 10.7a1.9 1.9 0 1 0 3.8 0a1.9 1.9 0 1 0 -3.8 0M187.9 10.9a1.9 1.9 0 1 0 3.8 0a1.9 1.9 0 1 0 -3.8 0M184.6 8.6a1.9 1.9 0 1 0 3.8 0a1.9 1.9 0 1 0 -3.8 0M218.0 9.3a1.9 1.9 0 1 0 3.8 0a1.9 1.9 0 1 0 -3.8 0M166.0 10.8a1.9 1.9 0 1 0 3.8 0a1.9 1.9 0 1 0 -3.8 0M114.7 8.6a1.9 1.9 0 1 0 3.8 0a1.9 1.9 0 1 0 -3.8 0M105.4 8.7a1.9 1.9 0 1 0 3.8 0a1.9 1.9 0 1 0 -3.8 0M219.3 13.0a1.9 1.9 0 1 0 3.8 0a1.9 1.9 0 1 0 -3.8 0M209.4 7.6a1.9 1.9 0 1 0 3.8 0a1.9 1.9 0 1 0 -3.8 0M134.8 11.0a1.9 1.9 0 1 0 3.8 0a1.9 1.9 0 1 0 -3.8 0M227.2 8.3a1.9 1.9 0 1 0 3.8 0a1.9 1.9 0 1 0 -3.8 0M198.7 10.7a1.9 1.9 0 1 0 3.8 0a1.9 1.9 0 1 0 -3.8 0M109.5 13.4a1.9 1.9 0 1 0 3.8 0a1.9 1.9 0 1 0 -3.8 0M126.7 17.2a1.9 1.9 0 1 0 3.8 0a1.9 1.9 0 1 0 -3.8 0M102.0 10.9a1.9 1.9 0 1 0 3.8 0a1.9 1.9 0 1 0 -3.8 0M132.7 11.2a1.9 1.9 0 1 0 3.8 0a1.9 1.9 0 1 0 -3.8 0M152.5 10.6a1.9 1.9 0 1 0 3.8 0a1.9 1.9 0 1 0 -3.8 0M183.8 8.5a1.9 1.9 0 1 0 3.8 0a1.9 1.9 0 1 0 -3.8 0M202.5 8.6a1.9 1.9 0 1 0 3.8 0a1.9 1.9 0 1 0 -3.8 0M167.2 9.2a1.9 1.9 0 1 0 3.8 0a1.9 1.9 0 1 0 -3.8 0M230.9 13.2a1.9 1.9 0 1 0 3.8 0a1.9 1.9 0 1 0 -3.8 0M206.3 8.5a1.9 1.9 0 1 0 3.8 0a1.9 1.9 0 1 0 -3.8 0M114.8 14.6a1.9 1.9 0 1 0 3.8 0a1.9 1.9 0 1 0 -3.8 0M178.0 9.8a1.9 1.9 0 1 0 3.8 0a1.9 1.9 0 1 0 -3.8 0M215.2 11.9a1.9 1.9 0 1 0 3.8 0a1.9 1.9 0 1 0 -3.8 0M103.1 9.2a1.9 1.9 0 1 0 3.8 0a1.9 1.9 0 1 0 -3.8 0M157.5 11.0a1.9 1.9 0 1 0 3.8 0a1.9 1.9 0 1 0 -3.8 0M172.8 11.6a1.9 1.9 0 1 0 3.8 0a1.9 1.9 0 1 0 -3.8 0M106.3 8.9a1.9 1.9 0 1 0 3.8 0a1.9 1.9 0 1 0 -3.8 0M231.9 11.6a1.9 1.9 0 1 0 3.8 0a1.9 1.9 0 1 0 -3.8 0M233.9 8.7a1.9 1.9 0 1 0 3.8 0a1.9 1.9 0 1 0 -3.8 0M196.0 10.4a1.9 1.9 0 1 0 3.8 0a1.9 1.9 0 1 0 -3.8 0M206.2 8.3a1.9 1.9 0 1 0 3.8 0a1.9 1.9 0 1 0 -3.8 0M204.2 11.4a1.9 1.9 0 1 0 3.8 0a1.9 1.9 0 1 0 -3.8 0M109.1 8.7a1.9 1.9 0 1 0 3.8 0a1.9 1.9 0 1 0 -3.8 0M156.6 9.3a1.9 1.9 0 1 0 3.8 0a1.9 1.9 0 1 0 -3.8 0M208.6 9.3a1.9 1.9 0 1 0 3.8 0a1.9 1.9 0 1 0 -3.8 0M230.1 12.1a1.9 1.9 0 1 0 3.8 0a1.9 1.9 0 1 0 -3.8 0M200.6 8.6a1.9 1.9 0 1 0 3.8 0a1.9 1.9 0 1 0 -3.8 0M110.6 9.3a1.9 1.9 0 1 0 3.8 0a1.9 1.9 0 1 0 -3.8 0M110.3 11.9a1.9 1.9 0 1 0 3.8 0a1.9 1.9 0 1 0 -3.8 0M170.8 8.3a1.9 1.9 0 1 0 3.8 0a1.9 1.9 0 1 0 -3.8 0M150.7 7.7a1.9 1.9 0 1 0 3.8 0a1.9 1.9 0 1 0 -3.8 0M103.3 12.0a1.9 1.9 0 1 0 3.8 0a1.9 1.9 0 1 0 -3.8 0M246.8 8.8a1.9 1.9 0 1 0 3.8 0a1.9 1.9 0 1 0 -3.8 0M117.3 9.0a1.9 1.9 0 1 0 3.8 0a1.9 1.9 0 1 0 -3.8 0M128.8 9.6a1.9 1.9 0 1 0 3.8 0a1.9 1.9 0 1 0 -3.8 0M118.3 13.5a1.9 1.9 0 1 0 3.8 0a1.9 1.9 0 1 0 -3.8 0M400.6 64.2a1.9 1.9 0 1 0 3.8 0a1.9 1.9 0 1 0 -3.8 0M422.8 65.8a1.9 1.9 0 1 0 3.8 0a1.9 1.9 0 1 0 -3.8 0M413.0 55.9a1.9 1.9 0 1 0 3.8 0a1.9 1.9 0 1 0 -3.8 0M420.1 53.0a1.9 1.9 0 1 0 3.8 0a1.9 1.9 0 1 0 -3.8 0M400.1 64.0a1.9 1.9 0 1 0 3.8 0a1.9 1.9 0 1 0 -3.8 0M391.1 71.9a1.9 1.9 0 1 0 3.8 0a1.9 1.9 0 1 0 -3.8 0M359.1 71.8a1.9 1.9 0 1 0 3.8 0a1.9 1.9 0 1 0 -3.8 0M417.2 64.7a1.9 1.9 0 1 0 3.8 0a1.9 1.9 0 1 0 -3.8 0M436.1 42.0a1.9 1.9 0 1 0 3.8 0a1.9 1.9 0 1 0 -3.8 0M410.9 62.9a1.9 1.9 0 1 0 3.8 0a1.9 1.9 0 1 0 -3.8 0M362.5 73.8a1.9 1.9 0 1 0 3.8 0a1.9 1.9 0 1 0 -3.8 0M367.6 70.2a1.9 1.9 0 1 0 3.8 0a1.9 1.9 0 1 0 -3.8 0M425.9 50.5a1.9 1.9 0 1 0 3.8 0a1.9 1.9 0 1 0 -3.8 0M359.3 67.5a1.9 1.9 0 1 0 3.8 0a1.9 1.9 0 1 0 -3.8 0M386.6 68.3a1.9 1.9 0 1 0 3.8 0a1.9 1.9 0 1 0 -3.8 0M429.4 47.6a1.9 1.9 0 1 0 3.8 0a1.9 1.9 0 1 0 -3.8 0M403.9 65.3a1.9 1.9 0 1 0 3.8 0a1.9 1.9 0 1 0 -3.8 0M378.9 67.2a1.9 1.9 0 1 0 3.8 0a1.9 1.9 0 1 0 -3.8 0M371.8 73.2a1.9 1.9 0 1 0 3.8 0a1.9 1.9 0 1 0 -3.8 0M366.2 72.4a1.9 1.9 0 1 0 3.8 0a1.9 1.9 0 1 0 -3.8 0M433.8 45.1a1.9 1.9 0 1 0 3.8 0a1.9 1.9 0 1 0 -3.8 0M405.6 62.5a1.9 1.9 0 1 0 3.8 0a1.9 1.9 0 1 0 -3.8 0M354.9 66.3a1.9 1.9 0 1 0 3.8 0a1.9 1.9 0 1 0 -3.8 0M379.1 70.7a1.9 1.9 0 1 0 3.8 0a1.9 1.9 0 1 0 -3.8 0M420.1 53.5a1.9 1.9 0 1 0 3.8 0a1.9 1.9 0 1 0 -3.8 0M431.7 45.5a1.9 1.9 0 1 0 3.8 0a1.9 1.9 0 1 0 -3.8 0M405.3 60.4a1.9 1.9 0 1 0 3.8 0a1.9 1.9 0 1 0 -3.8 0M435.8 45.4a1.9 1.9 0 1 0 3.8 0a1.9 1.9 0 1 0 -3.8 0M388.6 63.1a1.9 1.9 0 1 0 3.8 0a1.9 1.9 0 1 0 -3.8 0M363.6 72.3a1.9 1.9 0 1 0 3.8 0a1.9 1.9 0 1 0 -3.8 0M429.0 58.3a1.9 1.9 0 1 0 3.8 0a1.9 1.9 0 1 0 -3.8 0M425.1 52.2a1.9 1.9 0 1 0 3.8 0a1.9 1.9 0 1 0 -3.8 0M434.3 50.8a1.9 1.9 0 1 0 3.8 0a1.9 1.9 0 1 0 -3.8 0M412.7 60.7a1.9 1.9 0 1 0 3.8 0a1.9 1.9 0 1 0 -3.8 0M360.4 74.7a1.9 1.9 0 1 0 3.8 0a1.9 1.9 0 1 0 -3.8 0M401.5 63.0a1.9 1.9 0 1 0 3.8 0a1.9 1.9 0 1 0 -3.8 0M369.0 70.2a1.9 1.9 0 1 0 3.8 0a1.9 1.9 0 1 0 -3.8 0M389.3 70.8a1.9 1.9 0 1 0 3.8 0a1.9 1.9 0 1 0 -3.8 0M404.9 64.7a1.9 1.9 0 1 0 3.8 0a1.9 1.9 0 1 0 -3.8 0M420.6 52.6a1.9 1.9 0 1 0 3.8 0a1.9 1.9 0 1 0 -3.8 0M381.9 65.9a1.9 1.9 0 1 0 3.8 0a1.9 1.9 0 1 0 -3.8 0M420.6 57.4a1.9 1.9 0 1 0 3.8 0a1.9 1.9 0 1 0 -3.8 0M392.2 65.0a1.9 1.9 0 1 0 3.8 0a1.9 1.9 0 1 0 -3.8 0M433.9 45.2a1.9 1.9 0 1 0 3.8 0a1.9 1.9 0 1 0 -3.8 0M409.6 70.8a1.9 1.9 0 1 0 3.8 0a1.9 1.9 0 1 0 -3.8 0M381.2 79.9a1.9 1.9 0 1 0 3.8 0a1.9 1.9 0 1 0 -3.8 0M406.6 64.4a1.9 1.9 0 1 0 3.8 0a1.9 1.9 0 1 0 -3.8 0M406.3 58.6a1.9 1.9 0 1 0 3.8 0a1.9 1.9 0 1 0 -3.8 0M422.3 57.7a1.9 1.9 0 1 0 3.8 0a1.9 1.9 0 1 0 -3.8 0M402.3 60.6a1.9 1.9 0 1 0 3.8 0a1.9 1.9 0 1 0 -3.8 0M355.9 67.7a1.9 1.9 0 1 0 3.8 0a1.9 1.9 0 1 0 -3.8 0M396.6 77.7a1.9 1.9 0 1 0 3.8 0a1.9 1.9 0 1 0 -3.8 0M373.8 67.7a1.9 1.9 0 1 0 3.8 0a1.9 1.9 0 1 0 -3.8 0M356.5 73.7a1.9 1.9 0 1 0 3.8 0a1.9 1.9 0 1 0 -3.8 0M431.6 58.0a1.9 1.9 0 1 0 3.8 0a1.9 1.9 0 1 0 -3.8 0M433.2 55.6a1.9 1.9 0 1 0 3.8 0a1.9 1.9 0 1 0 -3.8 0M355.9 76.3a1.9 1.9 0 1 0 3.8 0a1.9 1.9 0 1 0 -3.8 0M412.9 57.6a1.9 1.9 0 1 0 3.8 0a1.9 1.9 0 1 0 -3.8 0M424.9 52.5a1.9 1.9 0 1 0 3.8 0a1.9 1.9 0 1 0 -3.8 0M371.4 68.1a1.9 1.9 0 1 0 3.8 0a1.9 1.9 0 1 0 -3.8 0M99.8 6.9a1.9 1.9 0 1 0 3.8 0a1.9 1.9 0 1 0 -3.8 0M103.3 6.7a1.9 1.9 0 1 0 3.8 0a1.9 1.9 0 1 0 -3.8 0M104.6 7.4a1.9 1.9 0 1 0 3.8 0a1.9 1.9 0 1 0 -3.8 0M106.4 6.7a1.9 1.9 0 1 0 3.8 0a1.9 1.9 0 1 0 -3.8 0M109.7 7.4a1.9 1.9 0 1 0 3.8 0a1.9 1.9 0 1 0 -3.8 0M112.5 7.4a1.9 1.9 0 1 0 3.8 0a1.9 1.9 0 1 0 -3.8 0M113.6 7.5a1.9 1.9 0 1 0 3.8 0a1.9 1.9 0 1 0 -3.8 0M116.4 7.3a1.9 1.9 0 1 0 3.8 0a1.9 1.9 0 1 0 -3.8 0M118.4 7.1a1.9 1.9 0 1 0 3.8 0a1.9 1.9 0 1 0 -3.8 0M120.1 7.1a1.9 1.9 0 1 0 3.8 0a1.9 1.9 0 1 0 -3.8 0M123.4 7.0a1.9 1.9 0 1 0 3.8 0a1.9 1.9 0 1 0 -3.8 0M125.9 7.2a1.9 1.9 0 1 0 3.8 0a1.9 1.9 0 1 0 -3.8 0M128.5 7.3a1.9 1.9 0 1 0 3.8 0a1.9 1.9 0 1 0 -3.8 0M129.4 7.3a1.9 1.9 0 1 0 3.8 0a1.9 1.9 0 1 0 -3.8 0M132.7 7.4a1.9 1.9 0 1 0 3.8 0a1.9 1.9 0 1 0 -3.8 0M134.8 7.6a1.9 1.9 0 1 0 3.8 0a1.9 1.9 0 1 0 -3.8 0M137.6 7.3a1.9 1.9 0 1 0 3.8 0a1.9 1.9 0 1 0 -3.8 0M138.2 8.1a1.9 1.9 0 1 0 3.8 0a1.9 1.9 0 1 0 -3.8 0M141.3 8.1a1.9 1.9 0 1 0 3.8 0a1.9 1.9 0 1 0 -3.8 0M143.4 8.2a1.9 1.9 0 1 0 3.8 0a1.9 1.9 0 1 0 -3.8 0M146.0 8.2a1.9 1.9 0 1 0 3.8 0a1.9 1.9 0 1 0 -3.8 0M147.9 7.7a1.9 1.9 0 1 0 3.8 0a1.9 1.9 0 1 0 -3.8 0M151.3 8.2a1.9 1.9 0 1 0 3.8 0a1.9 1.9 0 1 0 -3.8 0M153.1 8.0a1.9 1.9 0 1 0 3.8 0a1.9 1.9 0 1 0 -3.8 0M155.5 8.6a1.9 1.9 0 1 0 3.8 0a1.9 1.9 0 1 0 -3.8 0M157.1 8.3a1.9 1.9 0 1 0 3.8 0a1.9 1.9 0 1 0 -3.8 0M160.1 8.2a1.9 1.9 0 1 0 3.8 0a1.9 1.9 0 1 0 -3.8 0M162.6 8.7a1.9 1.9 0 1 0 3.8 0a1.9 1.9 0 1 0 -3.8 0M164.8 8.4a1.9 1.9 0 1 0 3.8 0a1.9 1.9 0 1 0 -3.8 0M166.2 8.7a1.9 1.9 0 1 0 3.8 0a1.9 1.9 0 1 0 -3.8 0M168.1 8.7a1.9 1.9 0 1 0 3.8 0a1.9 1.9 0 1 0 -3.8 0M170.5 8.2a1.9 1.9 0 1 0 3.8 0a1.9 1.9 0 1 0 -3.8 0M173.4 9.0a1.9 1.9 0 1 0 3.8 0a1.9 1.9 0 1 0 -3.8 0M176.6 8.5a1.9 1.9 0 1 0 3.8 0a1.9 1.9 0 1 0 -3.8 0M177.1 8.7a1.9 1.9 0 1 0 3.8 0a1.9 1.9 0 1 0 -3.8 0M180.5 8.5a1.9 1.9 0 1 0 3.8 0a1.9 1.9 0 1 0 -3.8 0M182.5 8.9a1.9 1.9 0 1 0 3.8 0a1.9 1.9 0 1 0 -3.8 0M185.5 8.9a1.9 1.9 0 1 0 3.8 0a1.9 1.9 0 1 0 -3.8 0M186.9 8.7a1.9 1.9 0 1 0 3.8 0a1.9 1.9 0 1 0 -3.8 0M189.4 9.0a1.9 1.9 0 1 0 3.8 0a1.9 1.9 0 1 0 -3.8 0M191.1 8.7a1.9 1.9 0 1 0 3.8 0a1.9 1.9 0 1 0 -3.8 0M193.8 9.0a1.9 1.9 0 1 0 3.8 0a1.9 1.9 0 1 0 -3.8 0M195.9 9.3a1.9 1.9 0 1 0 3.8 0a1.9 1.9 0 1 0 -3.8 0M198.4 9.2a1.9 1.9 0 1 0 3.8 0a1.9 1.9 0 1 0 -3.8 0M201.4 8.8a1.9 1.9 0 1 0 3.8 0a1.9 1.9 0 1 0 -3.8 0M203.3 9.4a1.9 1.9 0 1 0 3.8 0a1.9 1.9 0 1 0 -3.8 0M205.6 9.0a1.9 1.9 0 1 0 3.8 0a1.9 1.9 0 1 0 -3.8 0M206.9 9.6a1.9 1.9 0 1 0 3.8 0a1.9 1.9 0 1 0 -3.8 0M210.4 9.2a1.9 1.9 0 1 0 3.8 0a1.9 1.9 0 1 0 -3.8 0M212.7 9.2a1.9 1.9 0 1 0 3.8 0a1.9 1.9 0 1 0 -3.8 0M214.9 10.0a1.9 1.9 0 1 0 3.8 0a1.9 1.9 0 1 0 -3.8 0M215.1 12.1a1.9 1.9 0 1 0 3.8 0a1.9 1.9 0 1 0 -3.8 0M215.1 14.0a1.9 1.9 0 1 0 3.8 0a1.9 1.9 0 1 0 -3.8 0M217.4 14.7a1.9 1.9 0 1 0 3.8 0a1.9 1.9 0 1 0 -3.8 0M219.1 14.6a1.9 1.9 0 1 0 3.8 0a1.9 1.9 0 1 0 -3.8 0M222.2 14.8a1.9 1.9 0 1 0 3.8 0a1.9 1.9 0 1 0 -3.8 0M224.3 15.1a1.9 1.9 0 1 0 3.8 0a1.9 1.9 0 1 0 -3.8 0M225.8 15.2a1.9 1.9 0 1 0 3.8 0a1.9 1.9 0 1 0 -3.8 0M229.1 15.4a1.9 1.9 0 1 0 3.8 0a1.9 1.9 0 1 0 -3.8 0M230.5 16.7a1.9 1.9 0 1 0 3.8 0a1.9 1.9 0 1 0 -3.8 0M232.1 18.7a1.9 1.9 0 1 0 3.8 0a1.9 1.9 0 1 0 -3.8 0M234.1 19.7a1.9 1.9 0 1 0 3.8 0a1.9 1.9 0 1 0 -3.8 0M236.5 20.9a1.9 1.9 0 1 0 3.8 0a1.9 1.9 0 1 0 -3.8 0M238.2 20.8a1.9 1.9 0 1 0 3.8 0a1.9 1.9 0 1 0 -3.8 0M240.1 21.1a1.9 1.9 0 1 0 3.8 0a1.9 1.9 0 1 0 -3.8 0M243.3 20.8a1.9 1.9 0 1 0 3.8 0a1.9 1.9 0 1 0 -3.8 0M246.0 20.8a1.9 1.9 0 1 0 3.8 0a1.9 1.9 0 1 0 -3.8 0M247.1 21.3a1.9 1.9 0 1 0 3.8 0a1.9 1.9 0 1 0 -3.8 0M250.3 21.4a1.9 1.9 0 1 0 3.8 0a1.9 1.9 0 1 0 -3.8 0M252.1 21.3a1.9 1.9 0 1 0 3.8 0a1.9 1.9 0 1 0 -3.8 0M254.3 22.4a1.9 1.9 0 1 0 3.8 0a1.9 1.9 0 1 0 -3.8 0M256.2 22.7a1.9 1.9 0 1 0 3.8 0a1.9 1.9 0 1 0 -3.8 0M259.4 23.0a1.9 1.9 0 1 0 3.8 0a1.9 1.9 0 1 0 -3.8 0M262.1 23.9a1.9 1.9 0 1 0 3.8 0a1.9 1.9 0 1 0 -3.8 0M263.1 24.2a1.9 1.9 0 1 0 3.8 0a1.9 1.9 0 1 0 -3.8 0M266.1 25.7a1.9 1.9 0 1 0 3.8 0a1.9 1.9 0 1 0 -3.8 0M267.4 25.7a1.9 1.9 0 1 0 3.8 0a1.9 1.9 0 1 0 -3.8 0M269.8 27.2a1.9 1.9 0 1 0 3.8 0a1.9 1.9 0 1 0 -3.8 0M271.1 27.7a1.9 1.9 0 1 0 3.8 0a1.9 1.9 0 1 0 -3.8 0M273.7 28.8a1.9 1.9 0 1 0 3.8 0a1.9 1.9 0 1 0 -3.8 0M275.7 30.2a1.9 1.9 0 1 0 3.8 0a1.9 1.9 0 1 0 -3.8 0M277.4 31.0a1.9 1.9 0 1 0 3.8 0a1.9 1.9 0 1 0 -3.8 0M279.6 31.4a1.9 1.9 0 1 0 3.8 0a1.9 1.9 0 1 0 -3.8 0M282.4 32.7a1.9 1.9 0 1 0 3.8 0a1.9 1.9 0 1 0 -3.8 0M284.1 33.2a1.9 1.9 0 1 0 3.8 0a1.9 1.9 0 1 0 -3.8 0M286.6 33.8a1.9 1.9 0 1 0 3.8 0a1.9 1.9 0 1 0 -3.8 0M288.3 34.6a1.9 1.9 0 1 0 3.8 0a1.9 1.9 0 1 0 -3.8 0M290.5 35.8a1.9 1.9 0 1 0 3.8 0a1.9 1.9 0 1 0 -3.8 0M293.0 36.7a1.9 1.9 0 1 0 3.8 0a1.9 1.9 0 1 0 -3.8 0M294.4 37.5a1.9 1.9 0 1 0 3.8 0a1.9 1.9 0 1 0 -3.8 0M296.3 38.9a1.9 1.9 0 1 0 3.8 0a1.9 1.9 0 1 0 -3.8 0M298.4 40.0a1.9 1.9 0 1 0 3.8 0a1.9 1.9 0 1 0 -3.8 0M300.5 40.8a1.9 1.9 0 1 0 3.8 0a1.9 1.9 0 1 0 -3.8 0M302.7 41.6a1.9 1.9 0 1 0 3.8 0a1.9 1.9 0 1 0 -3.8 0M305.3 42.1a1.9 1.9 0 1 0 3.8 0a1.9 1.9 0 1 0 -3.8 0M308.1 43.7a1.9 1.9 0 1 0 3.8 0a1.9 1.9 0 1 0 -3.8 0M309.6 44.6a1.9 1.9 0 1 0 3.8 0a1.9 1.9 0 1 0 -3.8 0M311.9 45.1a1.9 1.9 0 1 0 3.8 0a1.9 1.9 0 1 0 -3.8 0M313.5 45.7a1.9 1.9 0 1 0 3.8 0a1.9 1.9 0 1 0 -3.8 0M315.2 46.2a1.9 1.9 0 1 0 3.8 0a1.9 1.9 0 1 0 -3.8 0M317.9 46.8a1.9 1.9 0 1 0 3.8 0a1.9 1.9 0 1 0 -3.8 0M320.2 48.4a1.9 1.9 0 1 0 3.8 0a1.9 1.9 0 1 0 -3.8 0M322.4 49.3a1.9 1.9 0 1 0 3.8 0a1.9 1.9 0 1 0 -3.8 0M324.0 49.9a1.9 1.9 0 1 0 3.8 0a1.9 1.9 0 1 0 -3.8 0M325.5 51.4a1.9 1.9 0 1 0 3.8 0a1.9 1.9 0 1 0 -3.8 0M328.7 52.2a1.9 1.9 0 1 0 3.8 0a1.9 1.9 0 1 0 -3.8 0M330.2 53.6a1.9 1.9 0 1 0 3.8 0a1.9 1.9 0 1 0 -3.8 0M332.2 54.9a1.9 1.9 0 1 0 3.8 0a1.9 1.9 0 1 0 -3.8 0M334.3 56.0a1.9 1.9 0 1 0 3.8 0a1.9 1.9 0 1 0 -3.8 0M336.1 56.6a1.9 1.9 0 1 0 3.8 0a1.9 1.9 0 1 0 -3.8 0M338.5 57.1a1.9 1.9 0 1 0 3.8 0a1.9 1.9 0 1 0 -3.8 0M341.3 58.0a1.9 1.9 0 1 0 3.8 0a1.9 1.9 0 1 0 -3.8 0M343.1 58.5a1.9 1.9 0 1 0 3.8 0a1.9 1.9 0 1 0 -3.8 0M344.9 59.6a1.9 1.9 0 1 0 3.8 0a1.9 1.9 0 1 0 -3.8 0M346.9 60.3a1.9 1.9 0 1 0 3.8 0a1.9 1.9 0 1 0 -3.8 0M349.4 60.9a1.9 1.9 0 1 0 3.8 0a1.9 1.9 0 1 0 -3.8 0M350.3 61.4a1.9 1.9 0 1 0 3.8 0a1.9 1.9 0 1 0 -3.8 0M353.4 63.0a1.9 1.9 0 1 0 3.8 0a1.9 1.9 0 1 0 -3.8 0M355.7 63.5a1.9 1.9 0 1 0 3.8 0a1.9 1.9 0 1 0 -3.8 0M357.6 63.7a1.9 1.9 0 1 0 3.8 0a1.9 1.9 0 1 0 -3.8 0M359.5 64.4a1.9 1.9 0 1 0 3.8 0a1.9 1.9 0 1 0 -3.8 0M361.9 65.0a1.9 1.9 0 1 0 3.8 0a1.9 1.9 0 1 0 -3.8 0M364.1 65.3a1.9 1.9 0 1 0 3.8 0a1.9 1.9 0 1 0 -3.8 0M366.5 64.9a1.9 1.9 0 1 0 3.8 0a1.9 1.9 0 1 0 -3.8 0M368.2 65.0a1.9 1.9 0 1 0 3.8 0a1.9 1.9 0 1 0 -3.8 0M372.0 64.5a1.9 1.9 0 1 0 3.8 0a1.9 1.9 0 1 0 -3.8 0M372.8 64.4a1.9 1.9 0 1 0 3.8 0a1.9 1.9 0 1 0 -3.8 0M375.6 63.5a1.9 1.9 0 1 0 3.8 0a1.9 1.9 0 1 0 -3.8 0M378.1 62.9a1.9 1.9 0 1 0 3.8 0a1.9 1.9 0 1 0 -3.8 0M380.0 61.8a1.9 1.9 0 1 0 3.8 0a1.9 1.9 0 1 0 -3.8 0M382.1 61.1a1.9 1.9 0 1 0 3.8 0a1.9 1.9 0 1 0 -3.8 0M383.9 60.4a1.9 1.9 0 1 0 3.8 0a1.9 1.9 0 1 0 -3.8 0M386.9 59.5a1.9 1.9 0 1 0 3.8 0a1.9 1.9 0 1 0 -3.8 0M388.3 59.3a1.9 1.9 0 1 0 3.8 0a1.9 1.9 0 1 0 -3.8 0M391.2 58.1a1.9 1.9 0 1 0 3.8 0a1.9 1.9 0 1 0 -3.8 0M392.6 57.6a1.9 1.9 0 1 0 3.8 0a1.9 1.9 0 1 0 -3.8 0M396.0 57.5a1.9 1.9 0 1 0 3.8 0a1.9 1.9 0 1 0 -3.8 0M397.1 57.3a1.9 1.9 0 1 0 3.8 0a1.9 1.9 0 1 0 -3.8 0M399.9 56.5a1.9 1.9 0 1 0 3.8 0a1.9 1.9 0 1 0 -3.8 0M401.3 55.9a1.9 1.9 0 1 0 3.8 0a1.9 1.9 0 1 0 -3.8 0M403.5 55.9a1.9 1.9 0 1 0 3.8 0a1.9 1.9 0 1 0 -3.8 0M406.9 54.9a1.9 1.9 0 1 0 3.8 0a1.9 1.9 0 1 0 -3.8 0M408.2 54.0a1.9 1.9 0 1 0 3.8 0a1.9 1.9 0 1 0 -3.8 0M411.0 52.8a1.9 1.9 0 1 0 3.8 0a1.9 1.9 0 1 0 -3.8 0M413.3 52.0a1.9 1.9 0 1 0 3.8 0a1.9 1.9 0 1 0 -3.8 0M415.0 51.1a1.9 1.9 0 1 0 3.8 0a1.9 1.9 0 1 0 -3.8 0M416.9 51.2a1.9 1.9 0 1 0 3.8 0a1.9 1.9 0 1 0 -3.8 0M419.3 50.1a1.9 1.9 0 1 0 3.8 0a1.9 1.9 0 1 0 -3.8 0M420.9 49.5a1.9 1.9 0 1 0 3.8 0a1.9 1.9 0 1 0 -3.8 0M423.8 48.4a1.9 1.9 0 1 0 3.8 0a1.9 1.9 0 1 0 -3.8 0M425.8 46.9a1.9 1.9 0 1 0 3.8 0a1.9 1.9 0 1 0 -3.8 0M427.5 45.3a1.9 1.9 0 1 0 3.8 0a1.9 1.9 0 1 0 -3.8 0M429.0 43.7a1.9 1.9 0 1 0 3.8 0a1.9 1.9 0 1 0 -3.8 0M430.2 42.4a1.9 1.9 0 1 0 3.8 0a1.9 1.9 0 1 0 -3.8 0M431.9 39.9a1.9 1.9 0 1 0 3.8 0a1.9 1.9 0 1 0 -3.8 0M433.3 39.3a1.9 1.9 0 1 0 3.8 0a1.9 1.9 0 1 0 -3.8 0M434.1 37.3a1.9 1.9 0 1 0 3.8 0a1.9 1.9 0 1 0 -3.8 0M436.6 35.5a1.9 1.9 0 1 0 3.8 0a1.9 1.9 0 1 0 -3.8 0M437.3 33.4a1.9 1.9 0 1 0 3.8 0a1.9 1.9 0 1 0 -3.8 0M438.7 32.0a1.9 1.9 0 1 0 3.8 0a1.9 1.9 0 1 0 -3.8 0M439.4 29.3a1.9 1.9 0 1 0 3.8 0a1.9 1.9 0 1 0 -3.8 0M440.7 26.5a1.9 1.9 0 1 0 3.8 0a1.9 1.9 0 1 0 -3.8 0M440.4 25.2a1.9 1.9 0 1 0 3.8 0a1.9 1.9 0 1 0 -3.8 0M441.8 22.6a1.9 1.9 0 1 0 3.8 0a1.9 1.9 0 1 0 -3.8 0M441.9 20.1a1.9 1.9 0 1 0 3.8 0a1.9 1.9 0 1 0 -3.8 0M441.6 19.2a1.9 1.9 0 1 0 3.8 0a1.9 1.9 0 1 0 -3.8 0M442.0 16.5a1.9 1.9 0 1 0 3.8 0a1.9 1.9 0 1 0 -3.8 0M442.2 14.4a1.9 1.9 0 1 0 3.8 0a1.9 1.9 0 1 0 -3.8 0M442.6 11.2a1.9 1.9 0 1 0 3.8 0a1.9 1.9 0 1 0 -3.8 0M443.0 9.0a1.9 1.9 0 1 0 3.8 0a1.9 1.9 0 1 0 -3.8 0M442.8 6.8a1.9 1.9 0 1 0 3.8 0a1.9 1.9 0 1 0 -3.8 0M442.8 5.5a1.9 1.9 0 1 0 3.8 0a1.9 1.9 0 1 0 -3.8 0M440.0 5.4a1.9 1.9 0 1 0 3.8 0a1.9 1.9 0 1 0 -3.8 0M437.1 5.9a1.9 1.9 0 1 0 3.8 0a1.9 1.9 0 1 0 -3.8 0M435.7 5.4a1.9 1.9 0 1 0 3.8 0a1.9 1.9 0 1 0 -3.8 0M433.4 5.2a1.9 1.9 0 1 0 3.8 0a1.9 1.9 0 1 0 -3.8 0M431.1 5.8a1.9 1.9 0 1 0 3.8 0a1.9 1.9 0 1 0 -3.8 0M429.2 5.5a1.9 1.9 0 1 0 3.8 0a1.9 1.9 0 1 0 -3.8 0M425.9 6.0a1.9 1.9 0 1 0 3.8 0a1.9 1.9 0 1 0 -3.8 0M424.3 5.8a1.9 1.9 0 1 0 3.8 0a1.9 1.9 0 1 0 -3.8 0M421.6 5.7a1.9 1.9 0 1 0 3.8 0a1.9 1.9 0 1 0 -3.8 0M420.4 5.8a1.9 1.9 0 1 0 3.8 0a1.9 1.9 0 1 0 -3.8 0M417.1 5.5a1.9 1.9 0 1 0 3.8 0a1.9 1.9 0 1 0 -3.8 0M415.1 5.9a1.9 1.9 0 1 0 3.8 0a1.9 1.9 0 1 0 -3.8 0M413.7 5.3a1.9 1.9 0 1 0 3.8 0a1.9 1.9 0 1 0 -3.8 0M410.7 5.9a1.9 1.9 0 1 0 3.8 0a1.9 1.9 0 1 0 -3.8 0M408.1 5.9a1.9 1.9 0 1 0 3.8 0a1.9 1.9 0 1 0 -3.8 0M406.3 5.6a1.9 1.9 0 1 0 3.8 0a1.9 1.9 0 1 0 -3.8 0M403.5 5.7a1.9 1.9 0 1 0 3.8 0a1.9 1.9 0 1 0 -3.8 0M401.5 5.4a1.9 1.9 0 1 0 3.8 0a1.9 1.9 0 1 0 -3.8 0M398.8 5.8a1.9 1.9 0 1 0 3.8 0a1.9 1.9 0 1 0 -3.8 0M397.2 5.8a1.9 1.9 0 1 0 3.8 0a1.9 1.9 0 1 0 -3.8 0M394.1 5.6a1.9 1.9 0 1 0 3.8 0a1.9 1.9 0 1 0 -3.8 0M391.5 5.4a1.9 1.9 0 1 0 3.8 0a1.9 1.9 0 1 0 -3.8 0M390.4 5.9a1.9 1.9 0 1 0 3.8 0a1.9 1.9 0 1 0 -3.8 0M387.9 5.4a1.9 1.9 0 1 0 3.8 0a1.9 1.9 0 1 0 -3.8 0M385.7 5.4a1.9 1.9 0 1 0 3.8 0a1.9 1.9 0 1 0 -3.8 0M383.1 6.0a1.9 1.9 0 1 0 3.8 0a1.9 1.9 0 1 0 -3.8 0M380.2 6.0a1.9 1.9 0 1 0 3.8 0a1.9 1.9 0 1 0 -3.8 0M379.0 6.0a1.9 1.9 0 1 0 3.8 0a1.9 1.9 0 1 0 -3.8 0M376.0 5.6a1.9 1.9 0 1 0 3.8 0a1.9 1.9 0 1 0 -3.8 0M374.5 5.3a1.9 1.9 0 1 0 3.8 0a1.9 1.9 0 1 0 -3.8 0M372.0 5.3a1.9 1.9 0 1 0 3.8 0a1.9 1.9 0 1 0 -3.8 0M369.8 5.8a1.9 1.9 0 1 0 3.8 0a1.9 1.9 0 1 0 -3.8 0M367.2 5.6a1.9 1.9 0 1 0 3.8 0a1.9 1.9 0 1 0 -3.8 0M365.4 5.5a1.9 1.9 0 1 0 3.8 0a1.9 1.9 0 1 0 -3.8 0M362.6 5.6a1.9 1.9 0 1 0 3.8 0a1.9 1.9 0 1 0 -3.8 0M360.4 5.6a1.9 1.9 0 1 0 3.8 0a1.9 1.9 0 1 0 -3.8 0M358.6 5.9a1.9 1.9 0 1 0 3.8 0a1.9 1.9 0 1 0 -3.8 0M355.5 5.9a1.9 1.9 0 1 0 3.8 0a1.9 1.9 0 1 0 -3.8 0M353.3 5.6a1.9 1.9 0 1 0 3.8 0a1.9 1.9 0 1 0 -3.8 0M351.5 5.3a1.9 1.9 0 1 0 3.8 0a1.9 1.9 0 1 0 -3.8 0M349.2 5.8a1.9 1.9 0 1 0 3.8 0a1.9 1.9 0 1 0 -3.8 0M346.2 5.6a1.9 1.9 0 1 0 3.8 0a1.9 1.9 0 1 0 -3.8 0M344.5 5.5a1.9 1.9 0 1 0 3.8 0a1.9 1.9 0 1 0 -3.8 0M342.1 5.4a1.9 1.9 0 1 0 3.8 0a1.9 1.9 0 1 0 -3.8 0M339.7 5.5a1.9 1.9 0 1 0 3.8 0a1.9 1.9 0 1 0 -3.8 0M337.8 5.3a1.9 1.9 0 1 0 3.8 0a1.9 1.9 0 1 0 -3.8 0M334.9 5.8a1.9 1.9 0 1 0 3.8 0a1.9 1.9 0 1 0 -3.8 0M332.3 5.3a1.9 1.9 0 1 0 3.8 0a1.9 1.9 0 1 0 -3.8 0M330.5 5.8a1.9 1.9 0 1 0 3.8 0a1.9 1.9 0 1 0 -3.8 0M328.4 5.9a1.9 1.9 0 1 0 3.8 0a1.9 1.9 0 1 0 -3.8 0M325.9 6.0a1.9 1.9 0 1 0 3.8 0a1.9 1.9 0 1 0 -3.8 0M324.3 5.5a1.9 1.9 0 1 0 3.8 0a1.9 1.9 0 1 0 -3.8 0M320.8 6.0a1.9 1.9 0 1 0 3.8 0a1.9 1.9 0 1 0 -3.8 0M319.1 5.4a1.9 1.9 0 1 0 3.8 0a1.9 1.9 0 1 0 -3.8 0M316.7 5.6a1.9 1.9 0 1 0 3.8 0a1.9 1.9 0 1 0 -3.8 0M314.9 5.5a1.9 1.9 0 1 0 3.8 0a1.9 1.9 0 1 0 -3.8 0M312.5 5.8a1.9 1.9 0 1 0 3.8 0a1.9 1.9 0 1 0 -3.8 0M309.5 5.4a1.9 1.9 0 1 0 3.8 0a1.9 1.9 0 1 0 -3.8 0M307.3 5.4a1.9 1.9 0 1 0 3.8 0a1.9 1.9 0 1 0 -3.8 0M306.2 5.9a1.9 1.9 0 1 0 3.8 0a1.9 1.9 0 1 0 -3.8 0M303.0 5.7a1.9 1.9 0 1 0 3.8 0a1.9 1.9 0 1 0 -3.8 0M301.7 5.5a1.9 1.9 0 1 0 3.8 0a1.9 1.9 0 1 0 -3.8 0M298.7 5.9a1.9 1.9 0 1 0 3.8 0a1.9 1.9 0 1 0 -3.8 0M296.3 5.7a1.9 1.9 0 1 0 3.8 0a1.9 1.9 0 1 0 -3.8 0M294.8 5.5a1.9 1.9 0 1 0 3.8 0a1.9 1.9 0 1 0 -3.8 0M291.1 5.5a1.9 1.9 0 1 0 3.8 0a1.9 1.9 0 1 0 -3.8 0M289.8 5.4a1.9 1.9 0 1 0 3.8 0a1.9 1.9 0 1 0 -3.8 0M288.1 5.4a1.9 1.9 0 1 0 3.8 0a1.9 1.9 0 1 0 -3.8 0M285.1 5.6a1.9 1.9 0 1 0 3.8 0a1.9 1.9 0 1 0 -3.8 0M282.9 5.7a1.9 1.9 0 1 0 3.8 0a1.9 1.9 0 1 0 -3.8 0M280.9 5.9a1.9 1.9 0 1 0 3.8 0a1.9 1.9 0 1 0 -3.8 0M279.0 5.9a1.9 1.9 0 1 0 3.8 0a1.9 1.9 0 1 0 -3.8 0M275.2 5.9a1.9 1.9 0 1 0 3.8 0a1.9 1.9 0 1 0 -3.8 0M273.0 5.2a1.9 1.9 0 1 0 3.8 0a1.9 1.9 0 1 0 -3.8 0M270.8 5.4a1.9 1.9 0 1 0 3.8 0a1.9 1.9 0 1 0 -3.8 0M269.2 5.4a1.9 1.9 0 1 0 3.8 0a1.9 1.9 0 1 0 -3.8 0M266.2 5.4a1.9 1.9 0 1 0 3.8 0a1.9 1.9 0 1 0 -3.8 0M264.1 5.4a1.9 1.9 0 1 0 3.8 0a1.9 1.9 0 1 0 -3.8 0M261.7 5.8a1.9 1.9 0 1 0 3.8 0a1.9 1.9 0 1 0 -3.8 0M259.9 5.8a1.9 1.9 0 1 0 3.8 0a1.9 1.9 0 1 0 -3.8 0M256.9 5.8a1.9 1.9 0 1 0 3.8 0a1.9 1.9 0 1 0 -3.8 0M255.4 5.6a1.9 1.9 0 1 0 3.8 0a1.9 1.9 0 1 0 -3.8 0M252.5 5.4a1.9 1.9 0 1 0 3.8 0a1.9 1.9 0 1 0 -3.8 0M250.8 5.6a1.9 1.9 0 1 0 3.8 0a1.9 1.9 0 1 0 -3.8 0M249.0 5.3a1.9 1.9 0 1 0 3.8 0a1.9 1.9 0 1 0 -3.8 0M246.1 5.6a1.9 1.9 0 1 0 3.8 0a1.9 1.9 0 1 0 -3.8 0M243.0 5.9a1.9 1.9 0 1 0 3.8 0a1.9 1.9 0 1 0 -3.8 0M241.7 5.7a1.9 1.9 0 1 0 3.8 0a1.9 1.9 0 1 0 -3.8 0M238.7 5.6a1.9 1.9 0 1 0 3.8 0a1.9 1.9 0 1 0 -3.8 0M236.1 5.7a1.9 1.9 0 1 0 3.8 0a1.9 1.9 0 1 0 -3.8 0M234.2 5.7a1.9 1.9 0 1 0 3.8 0a1.9 1.9 0 1 0 -3.8 0M232.5 5.5a1.9 1.9 0 1 0 3.8 0a1.9 1.9 0 1 0 -3.8 0M229.5 5.6a1.9 1.9 0 1 0 3.8 0a1.9 1.9 0 1 0 -3.8 0M227.0 5.8a1.9 1.9 0 1 0 3.8 0a1.9 1.9 0 1 0 -3.8 0M225.3 5.9a1.9 1.9 0 1 0 3.8 0a1.9 1.9 0 1 0 -3.8 0M223.5 5.6a1.9 1.9 0 1 0 3.8 0a1.9 1.9 0 1 0 -3.8 0M220.4 5.6a1.9 1.9 0 1 0 3.8 0a1.9 1.9 0 1 0 -3.8 0M218.9 5.9a1.9 1.9 0 1 0 3.8 0a1.9 1.9 0 1 0 -3.8 0M217.0 5.5a1.9 1.9 0 1 0 3.8 0a1.9 1.9 0 1 0 -3.8 0M214.0 5.6a1.9 1.9 0 1 0 3.8 0a1.9 1.9 0 1 0 -3.8 0M211.4 5.8a1.9 1.9 0 1 0 3.8 0a1.9 1.9 0 1 0 -3.8 0M209.7 5.5a1.9 1.9 0 1 0 3.8 0a1.9 1.9 0 1 0 -3.8 0M207.3 5.8a1.9 1.9 0 1 0 3.8 0a1.9 1.9 0 1 0 -3.8 0M205.8 5.9a1.9 1.9 0 1 0 3.8 0a1.9 1.9 0 1 0 -3.8 0M202.4 5.5a1.9 1.9 0 1 0 3.8 0a1.9 1.9 0 1 0 -3.8 0M200.9 5.9a1.9 1.9 0 1 0 3.8 0a1.9 1.9 0 1 0 -3.8 0M198.2 5.8a1.9 1.9 0 1 0 3.8 0a1.9 1.9 0 1 0 -3.8 0M195.4 5.7a1.9 1.9 0 1 0 3.8 0a1.9 1.9 0 1 0 -3.8 0M193.6 5.7a1.9 1.9 0 1 0 3.8 0a1.9 1.9 0 1 0 -3.8 0M190.9 5.7a1.9 1.9 0 1 0 3.8 0a1.9 1.9 0 1 0 -3.8 0M189.3 5.3a1.9 1.9 0 1 0 3.8 0a1.9 1.9 0 1 0 -3.8 0M186.9 5.8a1.9 1.9 0 1 0 3.8 0a1.9 1.9 0 1 0 -3.8 0M184.0 5.5a1.9 1.9 0 1 0 3.8 0a1.9 1.9 0 1 0 -3.8 0M182.0 5.7a1.9 1.9 0 1 0 3.8 0a1.9 1.9 0 1 0 -3.8 0M180.1 5.6a1.9 1.9 0 1 0 3.8 0a1.9 1.9 0 1 0 -3.8 0M177.8 5.7a1.9 1.9 0 1 0 3.8 0a1.9 1.9 0 1 0 -3.8 0M174.4 5.7a1.9 1.9 0 1 0 3.8 0a1.9 1.9 0 1 0 -3.8 0M173.4 5.9a1.9 1.9 0 1 0 3.8 0a1.9 1.9 0 1 0 -3.8 0M171.0 5.6a1.9 1.9 0 1 0 3.8 0a1.9 1.9 0 1 0 -3.8 0M169.1 5.7a1.9 1.9 0 1 0 3.8 0a1.9 1.9 0 1 0 -3.8 0M166.0 5.6a1.9 1.9 0 1 0 3.8 0a1.9 1.9 0 1 0 -3.8 0M163.8 5.7a1.9 1.9 0 1 0 3.8 0a1.9 1.9 0 1 0 -3.8 0M161.8 5.2a1.9 1.9 0 1 0 3.8 0a1.9 1.9 0 1 0 -3.8 0M160.2 5.3a1.9 1.9 0 1 0 3.8 0a1.9 1.9 0 1 0 -3.8 0M156.1 5.9a1.9 1.9 0 1 0 3.8 0a1.9 1.9 0 1 0 -3.8 0M155.0 5.8a1.9 1.9 0 1 0 3.8 0a1.9 1.9 0 1 0 -3.8 0M153.1 5.4a1.9 1.9 0 1 0 3.8 0a1.9 1.9 0 1 0 -3.8 0M151.1 5.8a1.9 1.9 0 1 0 3.8 0a1.9 1.9 0 1 0 -3.8 0M147.6 5.3a1.9 1.9 0 1 0 3.8 0a1.9 1.9 0 1 0 -3.8 0M145.7 5.6a1.9 1.9 0 1 0 3.8 0a1.9 1.9 0 1 0 -3.8 0M142.6 6.0a1.9 1.9 0 1 0 3.8 0a1.9 1.9 0 1 0 -3.8 0M140.4 5.2a1.9 1.9 0 1 0 3.8 0a1.9 1.9 0 1 0 -3.8 0M138.9 5.3a1.9 1.9 0 1 0 3.8 0a1.9 1.9 0 1 0 -3.8 0M137.0 5.4a1.9 1.9 0 1 0 3.8 0a1.9 1.9 0 1 0 -3.8 0M133.8 5.3a1.9 1.9 0 1 0 3.8 0a1.9 1.9 0 1 0 -3.8 0M132.2 5.6a1.9 1.9 0 1 0 3.8 0a1.9 1.9 0 1 0 -3.8 0M129.2 5.8a1.9 1.9 0 1 0 3.8 0a1.9 1.9 0 1 0 -3.8 0M127.7 5.7a1.9 1.9 0 1 0 3.8 0a1.9 1.9 0 1 0 -3.8 0M125.2 5.8a1.9 1.9 0 1 0 3.8 0a1.9 1.9 0 1 0 -3.8 0M122.5 5.7a1.9 1.9 0 1 0 3.8 0a1.9 1.9 0 1 0 -3.8 0M120.5 6.0a1.9 1.9 0 1 0 3.8 0a1.9 1.9 0 1 0 -3.8 0M118.3 5.5a1.9 1.9 0 1 0 3.8 0a1.9 1.9 0 1 0 -3.8 0M116.2 5.9a1.9 1.9 0 1 0 3.8 0a1.9 1.9 0 1 0 -3.8 0M113.4 5.6a1.9 1.9 0 1 0 3.8 0a1.9 1.9 0 1 0 -3.8 0M110.8 5.8a1.9 1.9 0 1 0 3.8 0a1.9 1.9 0 1 0 -3.8 0M109.3 5.8a1.9 1.9 0 1 0 3.8 0a1.9 1.9 0 1 0 -3.8 0M106.8 5.4a1.9 1.9 0 1 0 3.8 0a1.9 1.9 0 1 0 -3.8 0M104.8 5.9a1.9 1.9 0 1 0 3.8 0a1.9 1.9 0 1 0 -3.8 0M101.4 5.9a1.9 1.9 0 1 0 3.8 0a1.9 1.9 0 1 0 -3.8 0M100.0 5.8a1.9 1.9 0 1 0 3.8 0a1.9 1.9 0 1 0 -3.8 0"/>
<path fill="#447818" fill-rule="evenodd" d="M105.4 142.3L109.8 146.7L110.0 146.9L110.2 147.2L110.4 147.4L110.5 147.7L110.6 148.0L110.7 148.3L110.7 148.6L110.8 148.9L110.7 149.2L110.7 149.5L110.6 149.8L110.6 150.1L108.1 156.6L108.0 156.9L107.8 157.2L107.7 157.4L107.5 157.6L107.2 157.9L107.0 158.0L106.8 158.2L106.5 158.4L106.2 158.5L105.9 158.6L100.2 160.0L97.8 162.4L98.4 166.5L98.5 166.9L98.4 167.2L98.4 167.5L98.3 167.8L98.2 168.1L98.1 168.4L97.9 168.7L94.8 173.5L92.8 177.4L93.3 182.9L134.2 182.9L135.7 179.2L136.4 175.4L135.0 170.5L132.6 165.0L130.2 160.2L130.1 159.9L130.0 159.6L129.9 159.3L129.9 159.0L129.9 158.7L129.9 158.3L130.6 153.3L129.4 149.1L128.7 148.5L128.8 148.6L128.9 148.9L129.0 149.1L129.1 149.4L130.1 155.5L130.1 155.8L130.1 156.1L130.1 156.4L130.0 156.7L129.9 157.0L129.8 157.3L129.7 157.5L129.5 157.8L129.4 158.0L129.1 158.3L128.9 158.5L128.7 158.6L128.4 158.8L128.1 158.9L127.9 159.0L127.6 159.1L122.6 160.1L122.3 160.1L122.0 160.1L121.7 160.1L121.4 160.1L121.0 160.0L120.7 159.9L120.5 159.7L115.4 156.8L115.1 156.6L114.9 156.4L114.7 156.2L114.5 156.0L114.3 155.7L114.2 155.5L114.0 155.2L113.9 154.9L112.0 148.2L111.9 147.9L111.9 147.6L111.8 147.3L111.9 147.0L111.9 146.7L112.0 146.4L112.1 146.1L112.2 145.8L112.4 145.5L112.6 145.3L112.8 145.1L113.0 144.9L113.3 144.7L113.5 144.5L113.8 144.4L114.1 144.3L114.4 144.2L114.7 144.2L120.8 143.7L121.1 143.7L121.4 143.7L121.7 143.7L121.9 143.8L122.2 143.9L122.5 144.0L122.7 144.2L126.7 146.7L126.2 146.3L121.9 143.6L117.4 142.1L112.9 140.9L107.7 140.7L105.4 142.3Z"/>
<path fill="#447818" fill-rule="evenodd" d="M94.2 189.1L95.4 189.9L95.7 190.2L96.0 190.4L96.2 190.7L101.1 197.2L101.3 197.5L101.4 197.8L101.6 198.1L101.6 198.4L103.3 204.9L103.4 205.3L104.2 211.7L105.8 219.7L107.3 226.0L109.7 232.3L112.1 237.1L112.2 237.3L112.3 237.5L112.3 237.8L113.4 242.9L129.5 242.9L131.9 238.6L132.1 238.3L132.2 238.1L135.7 233.9L136.4 228.9L135.0 224.9L132.7 220.2L132.5 219.9L132.5 219.7L132.4 219.4L130.8 211.2L130.7 210.9L130.7 210.6L130.7 210.3L131.5 202.1L131.6 201.6L133.2 195.1L133.3 194.8L133.4 194.5L133.6 194.2L133.8 194.0L134.0 193.7L134.2 193.5L134.4 193.3L140.0 189.1L94.2 189.1Z"/>
<path fill="#447818" fill-rule="evenodd" d="M96.2 249.1L99.6 256.0L99.8 256.3L99.9 256.6L99.9 256.9L100.0 257.3L100.0 257.6L99.9 257.9L98.0 269.3L96.1 280.8L96.1 280.9L94.2 290.4L94.1 290.6L92.6 296.0L95.7 301.4L100.1 307.5L106.5 312.5L156.9 312.5L156.9 249.1L96.2 249.1Z"/>
<path fill="#447818" d="M80.5 95.5a3.7 3.7 0 1 0 7.4 0a3.7 3.7 0 1 0 -7.4 0M92.9 105.0a3.7 3.7 0 1 0 7.4 0a3.7 3.7 0 1 0 -7.4 0M97.5 111.9a3.7 3.7 0 1 0 7.4 0a3.7 3.7 0 1 0 -7.4 0M117.2 119.0a3.7 3.7 0 1 0 7.4 0a3.7 3.7 0 1 0 -7.4 0M111.8 124.2a3.7 3.7 0 1 0 7.4 0a3.7 3.7 0 1 0 -7.4 0M134.6 122.2a3.7 3.7 0 1 0 7.4 0a3.7 3.7 0 1 0 -7.4 0M142.4 119.4a3.7 3.7 0 1 0 7.4 0a3.7 3.7 0 1 0 -7.4 0M145.9 111.1a3.7 3.7 0 1 0 7.4 0a3.7 3.7 0 1 0 -7.4 0M180.6 74.2a3.7 3.7 0 1 0 7.4 0a3.7 3.7 0 1 0 -7.4 0M219.4 121.4a3.7 3.7 0 1 0 7.4 0a3.7 3.7 0 1 0 -7.4 0M91.6 135.3a3.7 3.7 0 1 0 7.4 0a3.7 3.7 0 1 0 -7.4 0M101.4 134.2a3.7 3.7 0 1 0 7.4 0a3.7 3.7 0 1 0 -7.4 0M105.5 132.6a3.7 3.7 0 1 0 7.4 0a3.7 3.7 0 1 0 -7.4 0M110.5 130.9a3.7 3.7 0 1 0 7.4 0a3.7 3.7 0 1 0 -7.4 0M113.3 132.2a3.7 3.7 0 1 0 7.4 0a3.7 3.7 0 1 0 -7.4 0M111.3 126.8a3.7 3.7 0 1 0 7.4 0a3.7 3.7 0 1 0 -7.4 0M125.2 128.5a3.7 3.7 0 1 0 7.4 0a3.7 3.7 0 1 0 -7.4 0M90.0 155.2a3.7 3.7 0 1 0 7.4 0a3.7 3.7 0 1 0 -7.4 0M84.2 162.9a3.7 3.7 0 1 0 7.4 0a3.7 3.7 0 1 0 -7.4 0M73.3 170.3a3.7 3.7 0 1 0 7.4 0a3.7 3.7 0 1 0 -7.4 0M145.7 141.6a3.7 3.7 0 1 0 7.4 0a3.7 3.7 0 1 0 -7.4 0M153.1 156.3a3.7 3.7 0 1 0 7.4 0a3.7 3.7 0 1 0 -7.4 0M219.4 120.9a3.7 3.7 0 1 0 7.4 0a3.7 3.7 0 1 0 -7.4 0M162.9 146.3a3.7 3.7 0 1 0 7.4 0a3.7 3.7 0 1 0 -7.4 0M157.1 153.7a3.7 3.7 0 1 0 7.4 0a3.7 3.7 0 1 0 -7.4 0M157.9 173.4a3.7 3.7 0 1 0 7.4 0a3.7 3.7 0 1 0 -7.4 0M168.6 174.2a3.7 3.7 0 1 0 7.4 0a3.7 3.7 0 1 0 -7.4 0M136.6 187.4a3.7 3.7 0 1 0 7.4 0a3.7 3.7 0 1 0 -7.4 0M140.0 189.7a3.7 3.7 0 1 0 7.4 0a3.7 3.7 0 1 0 -7.4 0M142.3 192.0a3.7 3.7 0 1 0 7.4 0a3.7 3.7 0 1 0 -7.4 0M126.3 198.9a3.7 3.7 0 1 0 7.4 0a3.7 3.7 0 1 0 -7.4 0M128.6 204.6a3.7 3.7 0 1 0 7.4 0a3.7 3.7 0 1 0 -7.4 0M129.2 210.3a3.7 3.7 0 1 0 7.4 0a3.7 3.7 0 1 0 -7.4 0M130.9 216.0a3.7 3.7 0 1 0 7.4 0a3.7 3.7 0 1 0 -7.4 0M149.2 201.1a3.7 3.7 0 1 0 7.4 0a3.7 3.7 0 1 0 -7.4 0M154.9 204.6a3.7 3.7 0 1 0 7.4 0a3.7 3.7 0 1 0 -7.4 0M157.2 177.1a3.7 3.7 0 1 0 7.4 0a3.7 3.7 0 1 0 -7.4 0M160.6 180.6a3.7 3.7 0 1 0 7.4 0a3.7 3.7 0 1 0 -7.4 0M162.9 182.9a3.7 3.7 0 1 0 7.4 0a3.7 3.7 0 1 0 -7.4 0M168.6 177.1a3.7 3.7 0 1 0 7.4 0a3.7 3.7 0 1 0 -7.4 0M176.6 210.3a3.7 3.7 0 1 0 7.4 0a3.7 3.7 0 1 0 -7.4 0M86.7 187.6a3.7 3.7 0 1 0 7.4 0a3.7 3.7 0 1 0 -7.4 0M90.0 189.3a3.7 3.7 0 1 0 7.4 0a3.7 3.7 0 1 0 -7.4 0M85.1 246.0a3.7 3.7 0 1 0 7.4 0a3.7 3.7 0 1 0 -7.4 0M99.8 210.6a3.7 3.7 0 1 0 7.4 0a3.7 3.7 0 1 0 -7.4 0M131.0 238.5a3.7 3.7 0 1 0 7.4 0a3.7 3.7 0 1 0 -7.4 0M161.2 177.6a3.7 3.7 0 1 0 7.4 0a3.7 3.7 0 1 0 -7.4 0M169.4 176.8a3.7 3.7 0 1 0 7.4 0a3.7 3.7 0 1 0 -7.4 0M162.9 195.7a3.7 3.7 0 1 0 7.4 0a3.7 3.7 0 1 0 -7.4 0M157.9 206.3a3.7 3.7 0 1 0 7.4 0a3.7 3.7 0 1 0 -7.4 0M177.6 210.4a3.7 3.7 0 1 0 7.4 0a3.7 3.7 0 1 0 -7.4 0M169.4 219.4a3.7 3.7 0 1 0 7.4 0a3.7 3.7 0 1 0 -7.4 0M197.3 212.1a3.7 3.7 0 1 0 7.4 0a3.7 3.7 0 1 0 -7.4 0M187.4 234.2a3.7 3.7 0 1 0 7.4 0a3.7 3.7 0 1 0 -7.4 0M159.6 220.3a3.7 3.7 0 1 0 7.4 0a3.7 3.7 0 1 0 -7.4 0M172.7 220.3a3.7 3.7 0 1 0 7.4 0a3.7 3.7 0 1 0 -7.4 0M84.6 271.7a3.7 3.7 0 1 0 7.4 0a3.7 3.7 0 1 0 -7.4 0M81.7 272.6a3.7 3.7 0 1 0 7.4 0a3.7 3.7 0 1 0 -7.4 0M77.9 284.1a3.7 3.7 0 1 0 7.4 0a3.7 3.7 0 1 0 -7.4 0M74.1 292.6a3.7 3.7 0 1 0 7.4 0a3.7 3.7 0 1 0 -7.4 0M73.2 302.1a3.7 3.7 0 1 0 7.4 0a3.7 3.7 0 1 0 -7.4 0M80.8 297.4a3.7 3.7 0 1 0 7.4 0a3.7 3.7 0 1 0 -7.4 0M88.4 305.0a3.7 3.7 0 1 0 7.4 0a3.7 3.7 0 1 0 -7.4 0M95.0 314.5a3.7 3.7 0 1 0 7.4 0a3.7 3.7 0 1 0 -7.4 0M146.4 303.1a3.7 3.7 0 1 0 7.4 0a3.7 3.7 0 1 0 -7.4 0M150.2 306.9a3.7 3.7 0 1 0 7.4 0a3.7 3.7 0 1 0 -7.4 0M89.3 259.3a3.7 3.7 0 1 0 7.4 0a3.7 3.7 0 1 0 -7.4 0M91.2 251.7a3.7 3.7 0 1 0 7.4 0a3.7 3.7 0 1 0 -7.4 0M85.5 247.9a3.7 3.7 0 1 0 7.4 0a3.7 3.7 0 1 0 -7.4 0M83.6 249.8a3.7 3.7 0 1 0 7.4 0a3.7 3.7 0 1 0 -7.4 0M80.8 291.7a3.7 3.7 0 1 0 7.4 0a3.7 3.7 0 1 0 -7.4 0M77.9 303.1a3.7 3.7 0 1 0 7.4 0a3.7 3.7 0 1 0 -7.4 0M83.2 249.1a3.7 3.7 0 1 0 7.4 0a3.7 3.7 0 1 0 -7.4 0M85.4 272.0a3.7 3.7 0 1 0 7.4 0a3.7 3.7 0 1 0 -7.4 0M78.6 283.4a3.7 3.7 0 1 0 7.4 0a3.7 3.7 0 1 0 -7.4 0M80.9 294.9a3.7 3.7 0 1 0 7.4 0a3.7 3.7 0 1 0 -7.4 0M90.0 302.9a3.7 3.7 0 1 0 7.4 0a3.7 3.7 0 1 0 -7.4 0M94.6 306.3a3.7 3.7 0 1 0 7.4 0a3.7 3.7 0 1 0 -7.4 0M142.6 307.4a3.7 3.7 0 1 0 7.4 0a3.7 3.7 0 1 0 -7.4 0M151.7 304.0a3.7 3.7 0 1 0 7.4 0a3.7 3.7 0 1 0 -7.4 0M163.2 310.9a3.7 3.7 0 1 0 7.4 0a3.7 3.7 0 1 0 -7.4 0M167.7 293.7a3.7 3.7 0 1 0 7.4 0a3.7 3.7 0 1 0 -7.4 0M174.6 300.6a3.7 3.7 0 1 0 7.4 0a3.7 3.7 0 1 0 -7.4 0M181.4 250.3a3.7 3.7 0 1 0 7.4 0a3.7 3.7 0 1 0 -7.4 0M183.7 314.3a3.7 3.7 0 1 0 7.4 0a3.7 3.7 0 1 0 -7.4 0M112.9 244.6a3.7 3.7 0 1 0 7.4 0a3.7 3.7 0 1 0 -7.4 0M122.0 242.3a3.7 3.7 0 1 0 7.4 0a3.7 3.7 0 1 0 -7.4 0M165.0 241.4a3.7 3.7 0 1 0 7.4 0a3.7 3.7 0 1 0 -7.4 0M171.5 245.8a3.7 3.7 0 1 0 7.4 0a3.7 3.7 0 1 0 -7.4 0M181.3 251.2a3.7 3.7 0 1 0 7.4 0a3.7 3.7 0 1 0 -7.4 0M158.5 248.0a3.7 3.7 0 1 0 7.4 0a3.7 3.7 0 1 0 -7.4 0M177.0 267.5a3.7 3.7 0 1 0 7.4 0a3.7 3.7 0 1 0 -7.4 0M180.2 270.8a3.7 3.7 0 1 0 7.4 0a3.7 3.7 0 1 0 -7.4 0M160.6 284.9a3.7 3.7 0 1 0 7.4 0a3.7 3.7 0 1 0 -7.4 0M165.0 294.7a3.7 3.7 0 1 0 7.4 0a3.7 3.7 0 1 0 -7.4 0M169.3 293.6a3.7 3.7 0 1 0 7.4 0a3.7 3.7 0 1 0 -7.4 0M175.9 300.1a3.7 3.7 0 1 0 7.4 0a3.7 3.7 0 1 0 -7.4 0M156.3 304.5a3.7 3.7 0 1 0 7.4 0a3.7 3.7 0 1 0 -7.4 0M161.7 311.0a3.7 3.7 0 1 0 7.4 0a3.7 3.7 0 1 0 -7.4 0M158.5 312.1a3.7 3.7 0 1 0 7.4 0a3.7 3.7 0 1 0 -7.4 0M183.5 314.7a3.7 3.7 0 1 0 7.4 0a3.7 3.7 0 1 0 -7.4 0M148.3 220.3a3.7 3.7 0 1 0 7.4 0a3.7 3.7 0 1 0 -7.4 0M142.6 218.0a3.7 3.7 0 1 0 7.4 0a3.7 3.7 0 1 0 -7.4 0M149.4 200.9a3.7 3.7 0 1 0 7.4 0a3.7 3.7 0 1 0 -7.4 0M143.2 217.7a3.7 3.7 0 1 0 7.4 0a3.7 3.7 0 1 0 -7.4 0M147.3 218.5a3.7 3.7 0 1 0 7.4 0a3.7 3.7 0 1 0 -7.4 0M156.2 203.0a3.7 3.7 0 1 0 7.4 0a3.7 3.7 0 1 0 -7.4 0M168.5 220.2a3.7 3.7 0 1 0 7.4 0a3.7 3.7 0 1 0 -7.4 0M143.2 229.1a3.7 3.7 0 1 0 7.4 0a3.7 3.7 0 1 0 -7.4 0M154.6 222.6a3.7 3.7 0 1 0 7.4 0a3.7 3.7 0 1 0 -7.4 0M165.2 242.2a3.7 3.7 0 1 0 7.4 0a3.7 3.7 0 1 0 -7.4 0M144.0 199.8a3.7 3.7 0 1 0 7.4 0a3.7 3.7 0 1 0 -7.4 0M155.2 223.6a3.7 3.7 0 1 0 7.4 0a3.7 3.7 0 1 0 -7.4 0M142.6 217.3a3.7 3.7 0 1 0 7.4 0a3.7 3.7 0 1 0 -7.4 0M180.4 250.4a3.7 3.7 0 1 0 7.4 0a3.7 3.7 0 1 0 -7.4 0M167.8 248.8a3.7 3.7 0 1 0 7.4 0a3.7 3.7 0 1 0 -7.4 0M101.8 143.2a3.7 3.7 0 1 0 7.4 0a3.7 3.7 0 1 0 -7.4 0M105.1 145.4a3.7 3.7 0 1 0 7.4 0a3.7 3.7 0 1 0 -7.4 0M107.0 148.6a3.7 3.7 0 1 0 7.4 0a3.7 3.7 0 1 0 -7.4 0M104.6 153.8a3.7 3.7 0 1 0 7.4 0a3.7 3.7 0 1 0 -7.4 0M103.5 157.6a3.7 3.7 0 1 0 7.4 0a3.7 3.7 0 1 0 -7.4 0M99.5 159.9a3.7 3.7 0 1 0 7.4 0a3.7 3.7 0 1 0 -7.4 0M94.6 162.5a3.7 3.7 0 1 0 7.4 0a3.7 3.7 0 1 0 -7.4 0M95.0 164.2a3.7 3.7 0 1 0 7.4 0a3.7 3.7 0 1 0 -7.4 0M93.5 168.8a3.7 3.7 0 1 0 7.4 0a3.7 3.7 0 1 0 -7.4 0M90.2 174.4a3.7 3.7 0 1 0 7.4 0a3.7 3.7 0 1 0 -7.4 0M88.9 178.0a3.7 3.7 0 1 0 7.4 0a3.7 3.7 0 1 0 -7.4 0M88.7 180.4a3.7 3.7 0 1 0 7.4 0a3.7 3.7 0 1 0 -7.4 0M93.5 182.6a3.7 3.7 0 1 0 7.4 0a3.7 3.7 0 1 0 -7.4 0M97.8 182.6a3.7 3.7 0 1 0 7.4 0a3.7 3.7 0 1 0 -7.4 0M103.1 182.5a3.7 3.7 0 1 0 7.4 0a3.7 3.7 0 1 0 -7.4 0M106.7 183.4a3.7 3.7 0 1 0 7.4 0a3.7 3.7 0 1 0 -7.4 0M111.3 183.6a3.7 3.7 0 1 0 7.4 0a3.7 3.7 0 1 0 -7.4 0M114.3 183.2a3.7 3.7 0 1 0 7.4 0a3.7 3.7 0 1 0 -7.4 0M118.9 182.2a3.7 3.7 0 1 0 7.4 0a3.7 3.7 0 1 0 -7.4 0M125.2 183.0a3.7 3.7 0 1 0 7.4 0a3.7 3.7 0 1 0 -7.4 0M129.5 183.1a3.7 3.7 0 1 0 7.4 0a3.7 3.7 0 1 0 -7.4 0M131.8 180.0a3.7 3.7 0 1 0 7.4 0a3.7 3.7 0 1 0 -7.4 0M133.2 175.1a3.7 3.7 0 1 0 7.4 0a3.7 3.7 0 1 0 -7.4 0M130.8 171.6a3.7 3.7 0 1 0 7.4 0a3.7 3.7 0 1 0 -7.4 0M130.6 167.7a3.7 3.7 0 1 0 7.4 0a3.7 3.7 0 1 0 -7.4 0M128.3 164.3a3.7 3.7 0 1 0 7.4 0a3.7 3.7 0 1 0 -7.4 0M126.7 160.2a3.7 3.7 0 1 0 7.4 0a3.7 3.7 0 1 0 -7.4 0M125.9 156.5a3.7 3.7 0 1 0 7.4 0a3.7 3.7 0 1 0 -7.4 0M126.1 151.5a3.7 3.7 0 1 0 7.4 0a3.7 3.7 0 1 0 -7.4 0M125.0 151.1a3.7 3.7 0 1 0 7.4 0a3.7 3.7 0 1 0 -7.4 0M126.8 155.2a3.7 3.7 0 1 0 7.4 0a3.7 3.7 0 1 0 -7.4 0M123.9 158.9a3.7 3.7 0 1 0 7.4 0a3.7 3.7 0 1 0 -7.4 0M121.7 160.3a3.7 3.7 0 1 0 7.4 0a3.7 3.7 0 1 0 -7.4 0M116.8 159.6a3.7 3.7 0 1 0 7.4 0a3.7 3.7 0 1 0 -7.4 0M113.2 157.8a3.7 3.7 0 1 0 7.4 0a3.7 3.7 0 1 0 -7.4 0M109.4 154.5a3.7 3.7 0 1 0 7.4 0a3.7 3.7 0 1 0 -7.4 0M108.9 150.7a3.7 3.7 0 1 0 7.4 0a3.7 3.7 0 1 0 -7.4 0M109.1 145.3a3.7 3.7 0 1 0 7.4 0a3.7 3.7 0 1 0 -7.4 0M112.6 144.6a3.7 3.7 0 1 0 7.4 0a3.7 3.7 0 1 0 -7.4 0M118.5 144.2a3.7 3.7 0 1 0 7.4 0a3.7 3.7 0 1 0 -7.4 0M120.8 144.8a3.7 3.7 0 1 0 7.4 0a3.7 3.7 0 1 0 -7.4 0M120.3 144.6a3.7 3.7 0 1 0 7.4 0a3.7 3.7 0 1 0 -7.4 0M117.5 143.4a3.7 3.7 0 1 0 7.4 0a3.7 3.7 0 1 0 -7.4 0M113.5 141.8a3.7 3.7 0 1 0 7.4 0a3.7 3.7 0 1 0 -7.4 0M109.6 140.4a3.7 3.7 0 1 0 7.4 0a3.7 3.7 0 1 0 -7.4 0M103.6 140.6a3.7 3.7 0 1 0 7.4 0a3.7 3.7 0 1 0 -7.4 0M92.2 190.5a3.7 3.7 0 1 0 7.4 0a3.7 3.7 0 1 0 -7.4 0M95.5 193.8a3.7 3.7 0 1 0 7.4 0a3.7 3.7 0 1 0 -7.4 0M97.4 197.2a3.7 3.7 0 1 0 7.4 0a3.7 3.7 0 1 0 -7.4 0M98.7 201.7a3.7 3.7 0 1 0 7.4 0a3.7 3.7 0 1 0 -7.4 0M100.3 205.8a3.7 3.7 0 1 0 7.4 0a3.7 3.7 0 1 0 -7.4 0M101.0 210.7a3.7 3.7 0 1 0 7.4 0a3.7 3.7 0 1 0 -7.4 0M101.7 215.1a3.7 3.7 0 1 0 7.4 0a3.7 3.7 0 1 0 -7.4 0M101.1 217.8a3.7 3.7 0 1 0 7.4 0a3.7 3.7 0 1 0 -7.4 0M102.3 221.5a3.7 3.7 0 1 0 7.4 0a3.7 3.7 0 1 0 -7.4 0M104.8 228.6a3.7 3.7 0 1 0 7.4 0a3.7 3.7 0 1 0 -7.4 0M105.8 231.2a3.7 3.7 0 1 0 7.4 0a3.7 3.7 0 1 0 -7.4 0M107.9 235.7a3.7 3.7 0 1 0 7.4 0a3.7 3.7 0 1 0 -7.4 0M109.6 239.2a3.7 3.7 0 1 0 7.4 0a3.7 3.7 0 1 0 -7.4 0M112.1 243.3a3.7 3.7 0 1 0 7.4 0a3.7 3.7 0 1 0 -7.4 0M114.9 242.9a3.7 3.7 0 1 0 7.4 0a3.7 3.7 0 1 0 -7.4 0M119.6 242.6a3.7 3.7 0 1 0 7.4 0a3.7 3.7 0 1 0 -7.4 0M124.8 242.9a3.7 3.7 0 1 0 7.4 0a3.7 3.7 0 1 0 -7.4 0M126.8 239.6a3.7 3.7 0 1 0 7.4 0a3.7 3.7 0 1 0 -7.4 0M130.5 235.2a3.7 3.7 0 1 0 7.4 0a3.7 3.7 0 1 0 -7.4 0M132.8 231.6a3.7 3.7 0 1 0 7.4 0a3.7 3.7 0 1 0 -7.4 0M132.3 228.1a3.7 3.7 0 1 0 7.4 0a3.7 3.7 0 1 0 -7.4 0M130.0 222.4a3.7 3.7 0 1 0 7.4 0a3.7 3.7 0 1 0 -7.4 0M129.4 220.2a3.7 3.7 0 1 0 7.4 0a3.7 3.7 0 1 0 -7.4 0M127.4 216.4a3.7 3.7 0 1 0 7.4 0a3.7 3.7 0 1 0 -7.4 0M127.3 209.9a3.7 3.7 0 1 0 7.4 0a3.7 3.7 0 1 0 -7.4 0M127.6 207.3a3.7 3.7 0 1 0 7.4 0a3.7 3.7 0 1 0 -7.4 0M128.4 203.1a3.7 3.7 0 1 0 7.4 0a3.7 3.7 0 1 0 -7.4 0M128.6 197.1a3.7 3.7 0 1 0 7.4 0a3.7 3.7 0 1 0 -7.4 0M130.5 194.1a3.7 3.7 0 1 0 7.4 0a3.7 3.7 0 1 0 -7.4 0M134.0 191.5a3.7 3.7 0 1 0 7.4 0a3.7 3.7 0 1 0 -7.4 0M134.3 189.2a3.7 3.7 0 1 0 7.4 0a3.7 3.7 0 1 0 -7.4 0M129.9 188.6a3.7 3.7 0 1 0 7.4 0a3.7 3.7 0 1 0 -7.4 0M126.0 188.9a3.7 3.7 0 1 0 7.4 0a3.7 3.7 0 1 0 -7.4 0M121.6 188.8a3.7 3.7 0 1 0 7.4 0a3.7 3.7 0 1 0 -7.4 0M115.7 188.9a3.7 3.7 0 1 0 7.4 0a3.7 3.7 0 1 0 -7.4 0M112.6 188.4a3.7 3.7 0 1 0 7.4 0a3.7 3.7 0 1 0 -7.4 0M106.6 188.7a3.7 3.7 0 1 0 7.4 0a3.7 3.7 0 1 0 -7.4 0M103.4 188.6a3.7 3.7 0 1 0 7.4 0a3.7 3.7 0 1 0 -7.4 0M97.2 189.1a3.7 3.7 0 1 0 7.4 0a3.7 3.7 0 1 0 -7.4 0M92.6 189.2a3.7 3.7 0 1 0 7.4 0a3.7 3.7 0 1 0 -7.4 0M92.2 249.5a3.7 3.7 0 1 0 7.4 0a3.7 3.7 0 1 0 -7.4 0M95.6 254.5a3.7 3.7 0 1 0 7.4 0a3.7 3.7 0 1 0 -7.4 0M96.1 258.5a3.7 3.7 0 1 0 7.4 0a3.7 3.7 0 1 0 -7.4 0M96.2 261.4a3.7 3.7 0 1 0 7.4 0a3.7 3.7 0 1 0 -7.4 0M95.1 267.8a3.7 3.7 0 1 0 7.4 0a3.7 3.7 0 1 0 -7.4 0M94.4 272.3a3.7 3.7 0 1 0 7.4 0a3.7 3.7 0 1 0 -7.4 0M92.9 275.5a3.7 3.7 0 1 0 7.4 0a3.7 3.7 0 1 0 -7.4 0M91.8 281.7a3.7 3.7 0 1 0 7.4 0a3.7 3.7 0 1 0 -7.4 0M91.8 284.5a3.7 3.7 0 1 0 7.4 0a3.7 3.7 0 1 0 -7.4 0M91.4 288.2a3.7 3.7 0 1 0 7.4 0a3.7 3.7 0 1 0 -7.4 0M89.7 294.1a3.7 3.7 0 1 0 7.4 0a3.7 3.7 0 1 0 -7.4 0M90.3 297.8a3.7 3.7 0 1 0 7.4 0a3.7 3.7 0 1 0 -7.4 0M91.3 300.2a3.7 3.7 0 1 0 7.4 0a3.7 3.7 0 1 0 -7.4 0M93.8 304.4a3.7 3.7 0 1 0 7.4 0a3.7 3.7 0 1 0 -7.4 0M97.6 307.4a3.7 3.7 0 1 0 7.4 0a3.7 3.7 0 1 0 -7.4 0M102.0 311.0a3.7 3.7 0 1 0 7.4 0a3.7 3.7 0 1 0 -7.4 0M106.4 313.1a3.7 3.7 0 1 0 7.4 0a3.7 3.7 0 1 0 -7.4 0M108.7 312.3a3.7 3.7 0 1 0 7.4 0a3.7 3.7 0 1 0 -7.4 0M115.3 312.3a3.7 3.7 0 1 0 7.4 0a3.7 3.7 0 1 0 -7.4 0M117.8 311.8a3.7 3.7 0 1 0 7.4 0a3.7 3.7 0 1 0 -7.4 0M122.2 312.2a3.7 3.7 0 1 0 7.4 0a3.7 3.7 0 1 0 -7.4 0M128.0 312.1a3.7 3.7 0 1 0 7.4 0a3.7 3.7 0 1 0 -7.4 0M131.2 312.3a3.7 3.7 0 1 0 7.4 0a3.7 3.7 0 1 0 -7.4 0M137.9 313.0a3.7 3.7 0 1 0 7.4 0a3.7 3.7 0 1 0 -7.4 0M141.5 313.1a3.7 3.7 0 1 0 7.4 0a3.7 3.7 0 1 0 -7.4 0M145.5 311.8a3.7 3.7 0 1 0 7.4 0a3.7 3.7 0 1 0 -7.4 0M150.0 312.9a3.7 3.7 0 1 0 7.4 0a3.7 3.7 0 1 0 -7.4 0M152.8 310.7a3.7 3.7 0 1 0 7.4 0a3.7 3.7 0 1 0 -7.4 0M152.6 306.1a3.7 3.7 0 1 0 7.4 0a3.7 3.7 0 1 0 -7.4 0M152.9 303.6a3.7 3.7 0 1 0 7.4 0a3.7 3.7 0 1 0 -7.4 0M152.8 297.3a3.7 3.7 0 1 0 7.4 0a3.7 3.7 0 1 0 -7.4 0M153.2 294.3a3.7 3.7 0 1 0 7.4 0a3.7 3.7 0 1 0 -7.4 0M152.7 289.9a3.7 3.7 0 1 0 7.4 0a3.7 3.7 0 1 0 -7.4 0M153.2 283.5a3.7 3.7 0 1 0 7.4 0a3.7 3.7 0 1 0 -7.4 0M153.9 279.4a3.7 3.7 0 1 0 7.4 0a3.7 3.7 0 1 0 -7.4 0M152.7 276.5a3.7 3.7 0 1 0 7.4 0a3.7 3.7 0 1 0 -7.4 0M152.5 271.7a3.7 3.7 0 1 0 7.4 0a3.7 3.7 0 1 0 -7.4 0M153.3 268.5a3.7 3.7 0 1 0 7.4 0a3.7 3.7 0 1 0 -7.4 0M153.0 262.0a3.7 3.7 0 1 0 7.4 0a3.7 3.7 0 1 0 -7.4 0M153.0 258.0a3.7 3.7 0 1 0 7.4 0a3.7 3.7 0 1 0 -7.4 0M152.8 255.8a3.7 3.7 0 1 0 7.4 0a3.7 3.7 0 1 0 -7.4 0M153.2 250.6a3.7 3.7 0 1 0 7.4 0a3.7 3.7 0 1 0 -7.4 0M147.6 248.8a3.7 3.7 0 1 0 7.4 0a3.7 3.7 0 1 0 -7.4 0M145.1 249.1a3.7 3.7 0 1 0 7.4 0a3.7 3.7 0 1 0 -7.4 0M139.4 249.7a3.7 3.7 0 1 0 7.4 0a3.7 3.7 0 1 0 -7.4 0M136.2 249.5a3.7 3.7 0 1 0 7.4 0a3.7 3.7 0 1 0 -7.4 0M130.1 249.3a3.7 3.7 0 1 0 7.4 0a3.7 3.7 0 1 0 -7.4 0M127.9 249.8a3.7 3.7 0 1 0 7.4 0a3.7 3.7 0 1 0 -7.4 0M122.0 249.8a3.7 3.7 0 1 0 7.4 0a3.7 3.7 0 1 0 -7.4 0M118.0 248.6a3.7 3.7 0 1 0 7.4 0a3.7 3.7 0 1 0 -7.4 0M113.6 249.8a3.7 3.7 0 1 0 7.4 0a3.7 3.7 0 1 0 -7.4 0M108.6 249.5a3.7 3.7 0 1 0 7.4 0a3.7 3.7 0 1 0 -7.4 0M104.7 248.5a3.7 3.7 0 1 0 7.4 0a3.7 3.7 0 1 0 -7.4 0M98.9 249.8a3.7 3.7 0 1 0 7.4 0a3.7 3.7 0 1 0 -7.4 0M94.9 248.6a3.7 3.7 0 1 0 7.4 0a3.7 3.7 0 1 0 -7.4 0"/>
<path fill="#170583" fill-rule="evenodd" d="M175.1 143.9L175.1 164.6L176.7 168.6L179.7 172.9L235.8 172.9L236.4 164.9L236.4 164.9L237.2 156.7L237.2 156.4L238.8 148.6L238.1 142.0L236.5 140.4L236.2 140.1L233.0 136.0L232.8 135.7L232.6 135.4L230.3 130.8L226.8 126.6L221.1 123.1L214.0 121.7L205.4 123.1L201.3 125.8L197.6 129.6L193.6 134.4L193.3 134.6L193.1 134.9L192.8 135.0L192.6 135.2L186.0 138.5L185.7 138.6L179.5 140.9L175.1 143.9Z"/>
<path fill="#170583" fill-rule="evenodd" d="M179.0 179.1L177.8 184.8L177.8 185.1L177.7 185.4L174.4 193.6L174.3 193.8L174.2 194.0L170.1 200.9L172.7 207.4L177.1 214.8L182.6 219.0L190.1 220.5L197.7 222.0L205.0 220.5L220.3 214.4L225.1 207.5L226.5 200.6L224.9 193.0L224.9 192.7L224.9 192.4L224.9 192.1L224.9 191.8L225.0 191.5L225.1 191.3L225.2 191.0L228.9 183.6L228.5 179.1L179.0 179.1Z"/>
<path fill="#170583" fill-rule="evenodd" d="M163.1 255.1L163.1 284.1L167.6 283.0L174.6 279.6L176.3 269.1L172.5 261.5L169.0 256.2L163.1 255.1Z"/>
<path fill="#170583" d="M125.5 108.5a3.7 3.7 0 1 0 7.4 0a3.7 3.7 0 1 0 -7.4 0M160.9 123.0a3.7 3.7 0 1 0 7.4 0a3.7 3.7 0 1 0 -7.4 0M188.6 115.2a3.7 3.7 0 1 0 7.4 0a3.7 3.7 0 1 0 -7.4 0M188.3 123.4a3.7 3.7 0 1 0 7.4 0a3.7 3.7 0 1 0 -7.4 0M221.1 111.1a3.7 3.7 0 1 0 7.4 0a3.7 3.7 0 1 0 -7.4 0M216.1 113.5a3.7 3.7 0 1 0 7.4 0a3.7 3.7 0 1 0 -7.4 0M205.5 116.8a3.7 3.7 0 1 0 7.4 0a3.7 3.7 0 1 0 -7.4 0M209.6 116.0a3.7 3.7 0 1 0 7.4 0a3.7 3.7 0 1 0 -7.4 0M233.3 113.5a3.7 3.7 0 1 0 7.4 0a3.7 3.7 0 1 0 -7.4 0M238.3 119.3a3.7 3.7 0 1 0 7.4 0a3.7 3.7 0 1 0 -7.4 0M226.8 124.2a3.7 3.7 0 1 0 7.4 0a3.7 3.7 0 1 0 -7.4 0M213.7 118.5a3.7 3.7 0 1 0 7.4 0a3.7 3.7 0 1 0 -7.4 0M256.2 121.7a3.7 3.7 0 1 0 7.4 0a3.7 3.7 0 1 0 -7.4 0M134.2 128.5a3.7 3.7 0 1 0 7.4 0a3.7 3.7 0 1 0 -7.4 0M147.3 140.4a3.7 3.7 0 1 0 7.4 0a3.7 3.7 0 1 0 -7.4 0M149.8 147.8a3.7 3.7 0 1 0 7.4 0a3.7 3.7 0 1 0 -7.4 0M154.7 138.3a3.7 3.7 0 1 0 7.4 0a3.7 3.7 0 1 0 -7.4 0M132.6 151.1a3.7 3.7 0 1 0 7.4 0a3.7 3.7 0 1 0 -7.4 0M121.9 156.8a3.7 3.7 0 1 0 7.4 0a3.7 3.7 0 1 0 -7.4 0M113.7 161.2a3.7 3.7 0 1 0 7.4 0a3.7 3.7 0 1 0 -7.4 0M138.3 160.9a3.7 3.7 0 1 0 7.4 0a3.7 3.7 0 1 0 -7.4 0M141.6 168.6a3.7 3.7 0 1 0 7.4 0a3.7 3.7 0 1 0 -7.4 0M135.9 171.9a3.7 3.7 0 1 0 7.4 0a3.7 3.7 0 1 0 -7.4 0M147.3 164.5a3.7 3.7 0 1 0 7.4 0a3.7 3.7 0 1 0 -7.4 0M152.3 165.3a3.7 3.7 0 1 0 7.4 0a3.7 3.7 0 1 0 -7.4 0M150.6 170.3a3.7 3.7 0 1 0 7.4 0a3.7 3.7 0 1 0 -7.4 0M151.4 175.2a3.7 3.7 0 1 0 7.4 0a3.7 3.7 0 1 0 -7.4 0M103.1 174.4a3.7 3.7 0 1 0 7.4 0a3.7 3.7 0 1 0 -7.4 0M103.1 183.4a3.7 3.7 0 1 0 7.4 0a3.7 3.7 0 1 0 -7.4 0M121.9 181.4a3.7 3.7 0 1 0 7.4 0a3.7 3.7 0 1 0 -7.4 0M129.3 180.1a3.7 3.7 0 1 0 7.4 0a3.7 3.7 0 1 0 -7.4 0M153.9 182.6a3.7 3.7 0 1 0 7.4 0a3.7 3.7 0 1 0 -7.4 0M155.5 156.3a3.7 3.7 0 1 0 7.4 0a3.7 3.7 0 1 0 -7.4 0M160.4 123.4a3.7 3.7 0 1 0 7.4 0a3.7 3.7 0 1 0 -7.4 0M164.5 127.5a3.7 3.7 0 1 0 7.4 0a3.7 3.7 0 1 0 -7.4 0M168.6 130.8a3.7 3.7 0 1 0 7.4 0a3.7 3.7 0 1 0 -7.4 0M188.3 123.4a3.7 3.7 0 1 0 7.4 0a3.7 3.7 0 1 0 -7.4 0M186.6 118.5a3.7 3.7 0 1 0 7.4 0a3.7 3.7 0 1 0 -7.4 0M158.8 136.5a3.7 3.7 0 1 0 7.4 0a3.7 3.7 0 1 0 -7.4 0M157.9 140.6a3.7 3.7 0 1 0 7.4 0a3.7 3.7 0 1 0 -7.4 0M167.0 141.4a3.7 3.7 0 1 0 7.4 0a3.7 3.7 0 1 0 -7.4 0M171.9 144.7a3.7 3.7 0 1 0 7.4 0a3.7 3.7 0 1 0 -7.4 0M225.2 126.7a3.7 3.7 0 1 0 7.4 0a3.7 3.7 0 1 0 -7.4 0M228.4 125.8a3.7 3.7 0 1 0 7.4 0a3.7 3.7 0 1 0 -7.4 0M233.3 135.7a3.7 3.7 0 1 0 7.4 0a3.7 3.7 0 1 0 -7.4 0M238.3 139.0a3.7 3.7 0 1 0 7.4 0a3.7 3.7 0 1 0 -7.4 0M235.8 144.7a3.7 3.7 0 1 0 7.4 0a3.7 3.7 0 1 0 -7.4 0M239.9 145.5a3.7 3.7 0 1 0 7.4 0a3.7 3.7 0 1 0 -7.4 0M239.9 157.0a3.7 3.7 0 1 0 7.4 0a3.7 3.7 0 1 0 -7.4 0M241.5 163.5a3.7 3.7 0 1 0 7.4 0a3.7 3.7 0 1 0 -7.4 0M236.6 171.7a3.7 3.7 0 1 0 7.4 0a3.7 3.7 0 1 0 -7.4 0M226.8 171.7a3.7 3.7 0 1 0 7.4 0a3.7 3.7 0 1 0 -7.4 0M220.2 135.7a3.7 3.7 0 1 0 7.4 0a3.7 3.7 0 1 0 -7.4 0M254.0 146.0a3.7 3.7 0 1 0 7.4 0a3.7 3.7 0 1 0 -7.4 0M253.7 163.5a3.7 3.7 0 1 0 7.4 0a3.7 3.7 0 1 0 -7.4 0M243.8 153.7a3.7 3.7 0 1 0 7.4 0a3.7 3.7 0 1 0 -7.4 0M129.7 180.6a3.7 3.7 0 1 0 7.4 0a3.7 3.7 0 1 0 -7.4 0M128.0 186.9a3.7 3.7 0 1 0 7.4 0a3.7 3.7 0 1 0 -7.4 0M132.6 193.1a3.7 3.7 0 1 0 7.4 0a3.7 3.7 0 1 0 -7.4 0M137.7 196.6a3.7 3.7 0 1 0 7.4 0a3.7 3.7 0 1 0 -7.4 0M143.4 195.4a3.7 3.7 0 1 0 7.4 0a3.7 3.7 0 1 0 -7.4 0M146.3 194.9a3.7 3.7 0 1 0 7.4 0a3.7 3.7 0 1 0 -7.4 0M147.4 202.3a3.7 3.7 0 1 0 7.4 0a3.7 3.7 0 1 0 -7.4 0M143.4 201.1a3.7 3.7 0 1 0 7.4 0a3.7 3.7 0 1 0 -7.4 0M141.2 204.6a3.7 3.7 0 1 0 7.4 0a3.7 3.7 0 1 0 -7.4 0M136.6 208.0a3.7 3.7 0 1 0 7.4 0a3.7 3.7 0 1 0 -7.4 0M138.9 212.6a3.7 3.7 0 1 0 7.4 0a3.7 3.7 0 1 0 -7.4 0M143.4 211.4a3.7 3.7 0 1 0 7.4 0a3.7 3.7 0 1 0 -7.4 0M146.3 209.1a3.7 3.7 0 1 0 7.4 0a3.7 3.7 0 1 0 -7.4 0M150.3 210.3a3.7 3.7 0 1 0 7.4 0a3.7 3.7 0 1 0 -7.4 0M153.7 212.6a3.7 3.7 0 1 0 7.4 0a3.7 3.7 0 1 0 -7.4 0M157.2 214.9a3.7 3.7 0 1 0 7.4 0a3.7 3.7 0 1 0 -7.4 0M149.2 188.6a3.7 3.7 0 1 0 7.4 0a3.7 3.7 0 1 0 -7.4 0M150.9 177.1a3.7 3.7 0 1 0 7.4 0a3.7 3.7 0 1 0 -7.4 0M155.4 183.4a3.7 3.7 0 1 0 7.4 0a3.7 3.7 0 1 0 -7.4 0M158.9 194.9a3.7 3.7 0 1 0 7.4 0a3.7 3.7 0 1 0 -7.4 0M157.2 198.9a3.7 3.7 0 1 0 7.4 0a3.7 3.7 0 1 0 -7.4 0M160.6 202.3a3.7 3.7 0 1 0 7.4 0a3.7 3.7 0 1 0 -7.4 0M164.0 204.6a3.7 3.7 0 1 0 7.4 0a3.7 3.7 0 1 0 -7.4 0M166.9 184.6a3.7 3.7 0 1 0 7.4 0a3.7 3.7 0 1 0 -7.4 0M170.3 187.4a3.7 3.7 0 1 0 7.4 0a3.7 3.7 0 1 0 -7.4 0M171.4 190.9a3.7 3.7 0 1 0 7.4 0a3.7 3.7 0 1 0 -7.4 0M167.4 193.1a3.7 3.7 0 1 0 7.4 0a3.7 3.7 0 1 0 -7.4 0M168.6 198.9a3.7 3.7 0 1 0 7.4 0a3.7 3.7 0 1 0 -7.4 0M172.0 201.1a3.7 3.7 0 1 0 7.4 0a3.7 3.7 0 1 0 -7.4 0M173.2 205.7a3.7 3.7 0 1 0 7.4 0a3.7 3.7 0 1 0 -7.4 0M174.3 210.3a3.7 3.7 0 1 0 7.4 0a3.7 3.7 0 1 0 -7.4 0M169.7 209.1a3.7 3.7 0 1 0 7.4 0a3.7 3.7 0 1 0 -7.4 0M166.3 212.6a3.7 3.7 0 1 0 7.4 0a3.7 3.7 0 1 0 -7.4 0M164.0 216.0a3.7 3.7 0 1 0 7.4 0a3.7 3.7 0 1 0 -7.4 0M176.6 213.7a3.7 3.7 0 1 0 7.4 0a3.7 3.7 0 1 0 -7.4 0M180.0 208.0a3.7 3.7 0 1 0 7.4 0a3.7 3.7 0 1 0 -7.4 0M104.7 188.5a3.7 3.7 0 1 0 7.4 0a3.7 3.7 0 1 0 -7.4 0M109.6 190.9a3.7 3.7 0 1 0 7.4 0a3.7 3.7 0 1 0 -7.4 0M114.6 190.1a3.7 3.7 0 1 0 7.4 0a3.7 3.7 0 1 0 -7.4 0M119.5 189.3a3.7 3.7 0 1 0 7.4 0a3.7 3.7 0 1 0 -7.4 0M124.4 187.6a3.7 3.7 0 1 0 7.4 0a3.7 3.7 0 1 0 -7.4 0M127.7 186.8a3.7 3.7 0 1 0 7.4 0a3.7 3.7 0 1 0 -7.4 0M124.4 199.9a3.7 3.7 0 1 0 7.4 0a3.7 3.7 0 1 0 -7.4 0M125.2 208.1a3.7 3.7 0 1 0 7.4 0a3.7 3.7 0 1 0 -7.4 0M110.1 212.9a3.7 3.7 0 1 0 7.4 0a3.7 3.7 0 1 0 -7.4 0M105.4 198.6a3.7 3.7 0 1 0 7.4 0a3.7 3.7 0 1 0 -7.4 0M107.1 214.7a3.7 3.7 0 1 0 7.4 0a3.7 3.7 0 1 0 -7.4 0M105.5 214.3a3.7 3.7 0 1 0 7.4 0a3.7 3.7 0 1 0 -7.4 0M115.1 199.2a3.7 3.7 0 1 0 7.4 0a3.7 3.7 0 1 0 -7.4 0M112.8 207.0a3.7 3.7 0 1 0 7.4 0a3.7 3.7 0 1 0 -7.4 0M120.3 205.9a3.7 3.7 0 1 0 7.4 0a3.7 3.7 0 1 0 -7.4 0M106.5 204.1a3.7 3.7 0 1 0 7.4 0a3.7 3.7 0 1 0 -7.4 0M109.6 219.6a3.7 3.7 0 1 0 7.4 0a3.7 3.7 0 1 0 -7.4 0M106.7 201.2a3.7 3.7 0 1 0 7.4 0a3.7 3.7 0 1 0 -7.4 0M113.7 209.5a3.7 3.7 0 1 0 7.4 0a3.7 3.7 0 1 0 -7.4 0M109.4 200.9a3.7 3.7 0 1 0 7.4 0a3.7 3.7 0 1 0 -7.4 0M103.3 214.2a3.7 3.7 0 1 0 7.4 0a3.7 3.7 0 1 0 -7.4 0M119.0 212.1a3.7 3.7 0 1 0 7.4 0a3.7 3.7 0 1 0 -7.4 0M106.8 215.7a3.7 3.7 0 1 0 7.4 0a3.7 3.7 0 1 0 -7.4 0M116.4 200.7a3.7 3.7 0 1 0 7.4 0a3.7 3.7 0 1 0 -7.4 0M114.7 201.3a3.7 3.7 0 1 0 7.4 0a3.7 3.7 0 1 0 -7.4 0M103.5 204.2a3.7 3.7 0 1 0 7.4 0a3.7 3.7 0 1 0 -7.4 0M109.0 205.7a3.7 3.7 0 1 0 7.4 0a3.7 3.7 0 1 0 -7.4 0M114.8 216.7a3.7 3.7 0 1 0 7.4 0a3.7 3.7 0 1 0 -7.4 0M108.5 200.2a3.7 3.7 0 1 0 7.4 0a3.7 3.7 0 1 0 -7.4 0M114.4 209.4a3.7 3.7 0 1 0 7.4 0a3.7 3.7 0 1 0 -7.4 0M159.6 190.8a3.7 3.7 0 1 0 7.4 0a3.7 3.7 0 1 0 -7.4 0M157.9 197.3a3.7 3.7 0 1 0 7.4 0a3.7 3.7 0 1 0 -7.4 0M159.6 205.5a3.7 3.7 0 1 0 7.4 0a3.7 3.7 0 1 0 -7.4 0M164.5 215.3a3.7 3.7 0 1 0 7.4 0a3.7 3.7 0 1 0 -7.4 0M169.4 210.4a3.7 3.7 0 1 0 7.4 0a3.7 3.7 0 1 0 -7.4 0M159.6 225.2a3.7 3.7 0 1 0 7.4 0a3.7 3.7 0 1 0 -7.4 0M162.9 230.1a3.7 3.7 0 1 0 7.4 0a3.7 3.7 0 1 0 -7.4 0M171.1 230.1a3.7 3.7 0 1 0 7.4 0a3.7 3.7 0 1 0 -7.4 0M177.6 228.5a3.7 3.7 0 1 0 7.4 0a3.7 3.7 0 1 0 -7.4 0M172.7 223.5a3.7 3.7 0 1 0 7.4 0a3.7 3.7 0 1 0 -7.4 0M194.0 228.5a3.7 3.7 0 1 0 7.4 0a3.7 3.7 0 1 0 -7.4 0M199.7 229.3a3.7 3.7 0 1 0 7.4 0a3.7 3.7 0 1 0 -7.4 0M205.5 223.5a3.7 3.7 0 1 0 7.4 0a3.7 3.7 0 1 0 -7.4 0M217.0 230.1a3.7 3.7 0 1 0 7.4 0a3.7 3.7 0 1 0 -7.4 0M225.2 225.2a3.7 3.7 0 1 0 7.4 0a3.7 3.7 0 1 0 -7.4 0M229.3 220.3a3.7 3.7 0 1 0 7.4 0a3.7 3.7 0 1 0 -7.4 0M228.4 201.4a3.7 3.7 0 1 0 7.4 0a3.7 3.7 0 1 0 -7.4 0M222.7 233.4a3.7 3.7 0 1 0 7.4 0a3.7 3.7 0 1 0 -7.4 0M212.9 235.0a3.7 3.7 0 1 0 7.4 0a3.7 3.7 0 1 0 -7.4 0M241.5 180.9a3.7 3.7 0 1 0 7.4 0a3.7 3.7 0 1 0 -7.4 0M157.9 215.3a3.7 3.7 0 1 0 7.4 0a3.7 3.7 0 1 0 -7.4 0M166.1 221.9a3.7 3.7 0 1 0 7.4 0a3.7 3.7 0 1 0 -7.4 0M187.4 228.5a3.7 3.7 0 1 0 7.4 0a3.7 3.7 0 1 0 -7.4 0M182.5 233.4a3.7 3.7 0 1 0 7.4 0a3.7 3.7 0 1 0 -7.4 0M97.9 256.5a3.7 3.7 0 1 0 7.4 0a3.7 3.7 0 1 0 -7.4 0M93.1 266.0a3.7 3.7 0 1 0 7.4 0a3.7 3.7 0 1 0 -7.4 0M100.7 269.8a3.7 3.7 0 1 0 7.4 0a3.7 3.7 0 1 0 -7.4 0M92.2 282.2a3.7 3.7 0 1 0 7.4 0a3.7 3.7 0 1 0 -7.4 0M85.5 289.8a3.7 3.7 0 1 0 7.4 0a3.7 3.7 0 1 0 -7.4 0M89.3 291.7a3.7 3.7 0 1 0 7.4 0a3.7 3.7 0 1 0 -7.4 0M94.1 294.5a3.7 3.7 0 1 0 7.4 0a3.7 3.7 0 1 0 -7.4 0M86.5 301.2a3.7 3.7 0 1 0 7.4 0a3.7 3.7 0 1 0 -7.4 0M100.7 302.1a3.7 3.7 0 1 0 7.4 0a3.7 3.7 0 1 0 -7.4 0M106.5 309.7a3.7 3.7 0 1 0 7.4 0a3.7 3.7 0 1 0 -7.4 0M120.7 314.5a3.7 3.7 0 1 0 7.4 0a3.7 3.7 0 1 0 -7.4 0M131.2 313.5a3.7 3.7 0 1 0 7.4 0a3.7 3.7 0 1 0 -7.4 0M141.6 312.6a3.7 3.7 0 1 0 7.4 0a3.7 3.7 0 1 0 -7.4 0M148.3 313.5a3.7 3.7 0 1 0 7.4 0a3.7 3.7 0 1 0 -7.4 0M152.1 295.5a3.7 3.7 0 1 0 7.4 0a3.7 3.7 0 1 0 -7.4 0M148.3 292.6a3.7 3.7 0 1 0 7.4 0a3.7 3.7 0 1 0 -7.4 0M143.6 254.6a3.7 3.7 0 1 0 7.4 0a3.7 3.7 0 1 0 -7.4 0M154.0 251.7a3.7 3.7 0 1 0 7.4 0a3.7 3.7 0 1 0 -7.4 0M108.4 254.6a3.7 3.7 0 1 0 7.4 0a3.7 3.7 0 1 0 -7.4 0M133.3 277.3a3.7 3.7 0 1 0 7.4 0a3.7 3.7 0 1 0 -7.4 0M168.9 272.5a3.7 3.7 0 1 0 7.4 0a3.7 3.7 0 1 0 -7.4 0M137.5 278.6a3.7 3.7 0 1 0 7.4 0a3.7 3.7 0 1 0 -7.4 0M113.1 274.8a3.7 3.7 0 1 0 7.4 0a3.7 3.7 0 1 0 -7.4 0M146.7 289.0a3.7 3.7 0 1 0 7.4 0a3.7 3.7 0 1 0 -7.4 0M106.3 264.4a3.7 3.7 0 1 0 7.4 0a3.7 3.7 0 1 0 -7.4 0M151.5 251.2a3.7 3.7 0 1 0 7.4 0a3.7 3.7 0 1 0 -7.4 0M148.5 280.1a3.7 3.7 0 1 0 7.4 0a3.7 3.7 0 1 0 -7.4 0M139.0 252.1a3.7 3.7 0 1 0 7.4 0a3.7 3.7 0 1 0 -7.4 0M113.5 261.3a3.7 3.7 0 1 0 7.4 0a3.7 3.7 0 1 0 -7.4 0M101.5 272.4a3.7 3.7 0 1 0 7.4 0a3.7 3.7 0 1 0 -7.4 0M132.4 291.5a3.7 3.7 0 1 0 7.4 0a3.7 3.7 0 1 0 -7.4 0M138.3 281.3a3.7 3.7 0 1 0 7.4 0a3.7 3.7 0 1 0 -7.4 0M136.9 282.4a3.7 3.7 0 1 0 7.4 0a3.7 3.7 0 1 0 -7.4 0M133.7 263.1a3.7 3.7 0 1 0 7.4 0a3.7 3.7 0 1 0 -7.4 0M162.6 284.7a3.7 3.7 0 1 0 7.4 0a3.7 3.7 0 1 0 -7.4 0M123.0 260.7a3.7 3.7 0 1 0 7.4 0a3.7 3.7 0 1 0 -7.4 0M121.0 252.6a3.7 3.7 0 1 0 7.4 0a3.7 3.7 0 1 0 -7.4 0M157.0 269.2a3.7 3.7 0 1 0 7.4 0a3.7 3.7 0 1 0 -7.4 0M163.0 268.5a3.7 3.7 0 1 0 7.4 0a3.7 3.7 0 1 0 -7.4 0M167.8 272.7a3.7 3.7 0 1 0 7.4 0a3.7 3.7 0 1 0 -7.4 0M173.1 269.1a3.7 3.7 0 1 0 7.4 0a3.7 3.7 0 1 0 -7.4 0M104.7 280.8a3.7 3.7 0 1 0 7.4 0a3.7 3.7 0 1 0 -7.4 0M157.9 262.7a3.7 3.7 0 1 0 7.4 0a3.7 3.7 0 1 0 -7.4 0M105.8 265.8a3.7 3.7 0 1 0 7.4 0a3.7 3.7 0 1 0 -7.4 0M108.1 261.5a3.7 3.7 0 1 0 7.4 0a3.7 3.7 0 1 0 -7.4 0M159.3 258.0a3.7 3.7 0 1 0 7.4 0a3.7 3.7 0 1 0 -7.4 0M141.4 271.6a3.7 3.7 0 1 0 7.4 0a3.7 3.7 0 1 0 -7.4 0M113.6 285.9a3.7 3.7 0 1 0 7.4 0a3.7 3.7 0 1 0 -7.4 0M109.1 281.5a3.7 3.7 0 1 0 7.4 0a3.7 3.7 0 1 0 -7.4 0M108.0 270.3a3.7 3.7 0 1 0 7.4 0a3.7 3.7 0 1 0 -7.4 0M115.3 262.7a3.7 3.7 0 1 0 7.4 0a3.7 3.7 0 1 0 -7.4 0M122.1 293.6a3.7 3.7 0 1 0 7.4 0a3.7 3.7 0 1 0 -7.4 0M115.1 268.9a3.7 3.7 0 1 0 7.4 0a3.7 3.7 0 1 0 -7.4 0M163.6 281.4a3.7 3.7 0 1 0 7.4 0a3.7 3.7 0 1 0 -7.4 0M115.3 262.1a3.7 3.7 0 1 0 7.4 0a3.7 3.7 0 1 0 -7.4 0M157.5 265.6a3.7 3.7 0 1 0 7.4 0a3.7 3.7 0 1 0 -7.4 0M121.5 252.8a3.7 3.7 0 1 0 7.4 0a3.7 3.7 0 1 0 -7.4 0M106.0 278.4a3.7 3.7 0 1 0 7.4 0a3.7 3.7 0 1 0 -7.4 0M117.5 279.3a3.7 3.7 0 1 0 7.4 0a3.7 3.7 0 1 0 -7.4 0M127.2 271.9a3.7 3.7 0 1 0 7.4 0a3.7 3.7 0 1 0 -7.4 0M171.5 273.4a3.7 3.7 0 1 0 7.4 0a3.7 3.7 0 1 0 -7.4 0M142.5 292.7a3.7 3.7 0 1 0 7.4 0a3.7 3.7 0 1 0 -7.4 0M113.0 256.9a3.7 3.7 0 1 0 7.4 0a3.7 3.7 0 1 0 -7.4 0M167.7 290.2a3.7 3.7 0 1 0 7.4 0a3.7 3.7 0 1 0 -7.4 0M118.0 258.6a3.7 3.7 0 1 0 7.4 0a3.7 3.7 0 1 0 -7.4 0M165.7 279.5a3.7 3.7 0 1 0 7.4 0a3.7 3.7 0 1 0 -7.4 0M131.0 254.3a3.7 3.7 0 1 0 7.4 0a3.7 3.7 0 1 0 -7.4 0M117.2 284.5a3.7 3.7 0 1 0 7.4 0a3.7 3.7 0 1 0 -7.4 0M118.6 290.5a3.7 3.7 0 1 0 7.4 0a3.7 3.7 0 1 0 -7.4 0M144.2 263.9a3.7 3.7 0 1 0 7.4 0a3.7 3.7 0 1 0 -7.4 0M112.4 285.3a3.7 3.7 0 1 0 7.4 0a3.7 3.7 0 1 0 -7.4 0M141.4 292.0a3.7 3.7 0 1 0 7.4 0a3.7 3.7 0 1 0 -7.4 0M145.5 263.2a3.7 3.7 0 1 0 7.4 0a3.7 3.7 0 1 0 -7.4 0M132.8 252.1a3.7 3.7 0 1 0 7.4 0a3.7 3.7 0 1 0 -7.4 0M112.5 267.6a3.7 3.7 0 1 0 7.4 0a3.7 3.7 0 1 0 -7.4 0M142.3 255.7a3.7 3.7 0 1 0 7.4 0a3.7 3.7 0 1 0 -7.4 0M126.5 293.9a3.7 3.7 0 1 0 7.4 0a3.7 3.7 0 1 0 -7.4 0M151.3 278.5a3.7 3.7 0 1 0 7.4 0a3.7 3.7 0 1 0 -7.4 0M135.6 285.8a3.7 3.7 0 1 0 7.4 0a3.7 3.7 0 1 0 -7.4 0M104.9 276.6a3.7 3.7 0 1 0 7.4 0a3.7 3.7 0 1 0 -7.4 0M154.8 284.5a3.7 3.7 0 1 0 7.4 0a3.7 3.7 0 1 0 -7.4 0M125.7 283.6a3.7 3.7 0 1 0 7.4 0a3.7 3.7 0 1 0 -7.4 0M130.7 288.9a3.7 3.7 0 1 0 7.4 0a3.7 3.7 0 1 0 -7.4 0M164.3 277.9a3.7 3.7 0 1 0 7.4 0a3.7 3.7 0 1 0 -7.4 0M146.3 268.3a3.7 3.7 0 1 0 7.4 0a3.7 3.7 0 1 0 -7.4 0M143.1 279.7a3.7 3.7 0 1 0 7.4 0a3.7 3.7 0 1 0 -7.4 0M105.2 281.3a3.7 3.7 0 1 0 7.4 0a3.7 3.7 0 1 0 -7.4 0M154.1 268.6a3.7 3.7 0 1 0 7.4 0a3.7 3.7 0 1 0 -7.4 0M154.6 278.3a3.7 3.7 0 1 0 7.4 0a3.7 3.7 0 1 0 -7.4 0M132.4 291.3a3.7 3.7 0 1 0 7.4 0a3.7 3.7 0 1 0 -7.4 0M105.5 286.8a3.7 3.7 0 1 0 7.4 0a3.7 3.7 0 1 0 -7.4 0M101.4 279.3a3.7 3.7 0 1 0 7.4 0a3.7 3.7 0 1 0 -7.4 0M135.5 260.7a3.7 3.7 0 1 0 7.4 0a3.7 3.7 0 1 0 -7.4 0M151.9 274.1a3.7 3.7 0 1 0 7.4 0a3.7 3.7 0 1 0 -7.4 0M145.5 295.4a3.7 3.7 0 1 0 7.4 0a3.7 3.7 0 1 0 -7.4 0M121.9 283.2a3.7 3.7 0 1 0 7.4 0a3.7 3.7 0 1 0 -7.4 0M114.5 257.6a3.7 3.7 0 1 0 7.4 0a3.7 3.7 0 1 0 -7.4 0M167.5 282.3a3.7 3.7 0 1 0 7.4 0a3.7 3.7 0 1 0 -7.4 0M132.5 294.0a3.7 3.7 0 1 0 7.4 0a3.7 3.7 0 1 0 -7.4 0M123.9 282.6a3.7 3.7 0 1 0 7.4 0a3.7 3.7 0 1 0 -7.4 0M114.2 270.8a3.7 3.7 0 1 0 7.4 0a3.7 3.7 0 1 0 -7.4 0M165.6 268.4a3.7 3.7 0 1 0 7.4 0a3.7 3.7 0 1 0 -7.4 0M143.2 265.0a3.7 3.7 0 1 0 7.4 0a3.7 3.7 0 1 0 -7.4 0M109.5 274.1a3.7 3.7 0 1 0 7.4 0a3.7 3.7 0 1 0 -7.4 0M162.3 291.8a3.7 3.7 0 1 0 7.4 0a3.7 3.7 0 1 0 -7.4 0M120.1 257.6a3.7 3.7 0 1 0 7.4 0a3.7 3.7 0 1 0 -7.4 0M133.2 262.9a3.7 3.7 0 1 0 7.4 0a3.7 3.7 0 1 0 -7.4 0M115.3 269.9a3.7 3.7 0 1 0 7.4 0a3.7 3.7 0 1 0 -7.4 0M146.4 273.9a3.7 3.7 0 1 0 7.4 0a3.7 3.7 0 1 0 -7.4 0M123.0 291.3a3.7 3.7 0 1 0 7.4 0a3.7 3.7 0 1 0 -7.4 0M173.2 271.9a3.7 3.7 0 1 0 7.4 0a3.7 3.7 0 1 0 -7.4 0M152.6 277.8a3.7 3.7 0 1 0 7.4 0a3.7 3.7 0 1 0 -7.4 0M122.5 288.9a3.7 3.7 0 1 0 7.4 0a3.7 3.7 0 1 0 -7.4 0M161.8 261.0a3.7 3.7 0 1 0 7.4 0a3.7 3.7 0 1 0 -7.4 0M146.6 271.6a3.7 3.7 0 1 0 7.4 0a3.7 3.7 0 1 0 -7.4 0M146.7 282.0a3.7 3.7 0 1 0 7.4 0a3.7 3.7 0 1 0 -7.4 0M150.8 259.1a3.7 3.7 0 1 0 7.4 0a3.7 3.7 0 1 0 -7.4 0M135.0 258.1a3.7 3.7 0 1 0 7.4 0a3.7 3.7 0 1 0 -7.4 0M153.0 258.1a3.7 3.7 0 1 0 7.4 0a3.7 3.7 0 1 0 -7.4 0M119.7 266.5a3.7 3.7 0 1 0 7.4 0a3.7 3.7 0 1 0 -7.4 0M151.8 275.3a3.7 3.7 0 1 0 7.4 0a3.7 3.7 0 1 0 -7.4 0M145.5 287.1a3.7 3.7 0 1 0 7.4 0a3.7 3.7 0 1 0 -7.4 0M128.9 288.9a3.7 3.7 0 1 0 7.4 0a3.7 3.7 0 1 0 -7.4 0M169.5 285.4a3.7 3.7 0 1 0 7.4 0a3.7 3.7 0 1 0 -7.4 0M109.0 271.9a3.7 3.7 0 1 0 7.4 0a3.7 3.7 0 1 0 -7.4 0M146.4 294.9a3.7 3.7 0 1 0 7.4 0a3.7 3.7 0 1 0 -7.4 0M127.6 277.7a3.7 3.7 0 1 0 7.4 0a3.7 3.7 0 1 0 -7.4 0M165.5 289.2a3.7 3.7 0 1 0 7.4 0a3.7 3.7 0 1 0 -7.4 0M170.4 272.4a3.7 3.7 0 1 0 7.4 0a3.7 3.7 0 1 0 -7.4 0M148.3 259.4a3.7 3.7 0 1 0 7.4 0a3.7 3.7 0 1 0 -7.4 0M153.6 290.3a3.7 3.7 0 1 0 7.4 0a3.7 3.7 0 1 0 -7.4 0M147.6 285.2a3.7 3.7 0 1 0 7.4 0a3.7 3.7 0 1 0 -7.4 0M115.3 294.4a3.7 3.7 0 1 0 7.4 0a3.7 3.7 0 1 0 -7.4 0M139.7 288.9a3.7 3.7 0 1 0 7.4 0a3.7 3.7 0 1 0 -7.4 0M123.4 294.9a3.7 3.7 0 1 0 7.4 0a3.7 3.7 0 1 0 -7.4 0M163.7 266.6a3.7 3.7 0 1 0 7.4 0a3.7 3.7 0 1 0 -7.4 0M105.4 271.3a3.7 3.7 0 1 0 7.4 0a3.7 3.7 0 1 0 -7.4 0M140.7 287.7a3.7 3.7 0 1 0 7.4 0a3.7 3.7 0 1 0 -7.4 0M159.5 257.8a3.7 3.7 0 1 0 7.4 0a3.7 3.7 0 1 0 -7.4 0M124.5 288.7a3.7 3.7 0 1 0 7.4 0a3.7 3.7 0 1 0 -7.4 0M109.8 256.6a3.7 3.7 0 1 0 7.4 0a3.7 3.7 0 1 0 -7.4 0M138.1 285.5a3.7 3.7 0 1 0 7.4 0a3.7 3.7 0 1 0 -7.4 0M162.5 283.8a3.7 3.7 0 1 0 7.4 0a3.7 3.7 0 1 0 -7.4 0M170.5 273.9a3.7 3.7 0 1 0 7.4 0a3.7 3.7 0 1 0 -7.4 0M115.9 275.6a3.7 3.7 0 1 0 7.4 0a3.7 3.7 0 1 0 -7.4 0M121.1 285.8a3.7 3.7 0 1 0 7.4 0a3.7 3.7 0 1 0 -7.4 0M147.4 275.4a3.7 3.7 0 1 0 7.4 0a3.7 3.7 0 1 0 -7.4 0M162.8 277.3a3.7 3.7 0 1 0 7.4 0a3.7 3.7 0 1 0 -7.4 0M122.7 268.3a3.7 3.7 0 1 0 7.4 0a3.7 3.7 0 1 0 -7.4 0M114.9 291.9a3.7 3.7 0 1 0 7.4 0a3.7 3.7 0 1 0 -7.4 0M172.2 275.5a3.7 3.7 0 1 0 7.4 0a3.7 3.7 0 1 0 -7.4 0M142.4 259.2a3.7 3.7 0 1 0 7.4 0a3.7 3.7 0 1 0 -7.4 0M139.6 274.4a3.7 3.7 0 1 0 7.4 0a3.7 3.7 0 1 0 -7.4 0M144.8 250.5a3.7 3.7 0 1 0 7.4 0a3.7 3.7 0 1 0 -7.4 0M172.3 275.1a3.7 3.7 0 1 0 7.4 0a3.7 3.7 0 1 0 -7.4 0M129.4 289.4a3.7 3.7 0 1 0 7.4 0a3.7 3.7 0 1 0 -7.4 0M141.6 273.8a3.7 3.7 0 1 0 7.4 0a3.7 3.7 0 1 0 -7.4 0M151.3 252.4a3.7 3.7 0 1 0 7.4 0a3.7 3.7 0 1 0 -7.4 0M139.8 269.9a3.7 3.7 0 1 0 7.4 0a3.7 3.7 0 1 0 -7.4 0M119.5 272.9a3.7 3.7 0 1 0 7.4 0a3.7 3.7 0 1 0 -7.4 0M108.8 270.9a3.7 3.7 0 1 0 7.4 0a3.7 3.7 0 1 0 -7.4 0M135.1 265.1a3.7 3.7 0 1 0 7.4 0a3.7 3.7 0 1 0 -7.4 0M113.6 280.2a3.7 3.7 0 1 0 7.4 0a3.7 3.7 0 1 0 -7.4 0M113.8 260.5a3.7 3.7 0 1 0 7.4 0a3.7 3.7 0 1 0 -7.4 0M151.0 265.3a3.7 3.7 0 1 0 7.4 0a3.7 3.7 0 1 0 -7.4 0M126.0 280.3a3.7 3.7 0 1 0 7.4 0a3.7 3.7 0 1 0 -7.4 0M107.1 285.9a3.7 3.7 0 1 0 7.4 0a3.7 3.7 0 1 0 -7.4 0M108.5 274.8a3.7 3.7 0 1 0 7.4 0a3.7 3.7 0 1 0 -7.4 0M118.1 259.0a3.7 3.7 0 1 0 7.4 0a3.7 3.7 0 1 0 -7.4 0M139.2 271.1a3.7 3.7 0 1 0 7.4 0a3.7 3.7 0 1 0 -7.4 0M127.5 269.9a3.7 3.7 0 1 0 7.4 0a3.7 3.7 0 1 0 -7.4 0M139.1 257.1a3.7 3.7 0 1 0 7.4 0a3.7 3.7 0 1 0 -7.4 0M114.6 280.9a3.7 3.7 0 1 0 7.4 0a3.7 3.7 0 1 0 -7.4 0M147.3 275.7a3.7 3.7 0 1 0 7.4 0a3.7 3.7 0 1 0 -7.4 0M163.4 279.9a3.7 3.7 0 1 0 7.4 0a3.7 3.7 0 1 0 -7.4 0M163.8 260.8a3.7 3.7 0 1 0 7.4 0a3.7 3.7 0 1 0 -7.4 0M155.1 289.9a3.7 3.7 0 1 0 7.4 0a3.7 3.7 0 1 0 -7.4 0M167.3 265.0a3.7 3.7 0 1 0 7.4 0a3.7 3.7 0 1 0 -7.4 0M123.0 295.5a3.7 3.7 0 1 0 7.4 0a3.7 3.7 0 1 0 -7.4 0M117.2 285.6a3.7 3.7 0 1 0 7.4 0a3.7 3.7 0 1 0 -7.4 0M118.8 254.0a3.7 3.7 0 1 0 7.4 0a3.7 3.7 0 1 0 -7.4 0M161.9 270.3a3.7 3.7 0 1 0 7.4 0a3.7 3.7 0 1 0 -7.4 0M158.8 255.4a3.7 3.7 0 1 0 7.4 0a3.7 3.7 0 1 0 -7.4 0M129.6 283.6a3.7 3.7 0 1 0 7.4 0a3.7 3.7 0 1 0 -7.4 0M150.7 294.9a3.7 3.7 0 1 0 7.4 0a3.7 3.7 0 1 0 -7.4 0M137.3 287.2a3.7 3.7 0 1 0 7.4 0a3.7 3.7 0 1 0 -7.4 0M137.1 283.6a3.7 3.7 0 1 0 7.4 0a3.7 3.7 0 1 0 -7.4 0M140.8 275.0a3.7 3.7 0 1 0 7.4 0a3.7 3.7 0 1 0 -7.4 0M142.1 256.5a3.7 3.7 0 1 0 7.4 0a3.7 3.7 0 1 0 -7.4 0M113.1 259.4a3.7 3.7 0 1 0 7.4 0a3.7 3.7 0 1 0 -7.4 0M134.0 287.6a3.7 3.7 0 1 0 7.4 0a3.7 3.7 0 1 0 -7.4 0M123.8 272.6a3.7 3.7 0 1 0 7.4 0a3.7 3.7 0 1 0 -7.4 0M98.0 256.0a3.7 3.7 0 1 0 7.4 0a3.7 3.7 0 1 0 -7.4 0M93.4 265.1a3.7 3.7 0 1 0 7.4 0a3.7 3.7 0 1 0 -7.4 0M100.3 268.6a3.7 3.7 0 1 0 7.4 0a3.7 3.7 0 1 0 -7.4 0M91.2 282.3a3.7 3.7 0 1 0 7.4 0a3.7 3.7 0 1 0 -7.4 0M96.9 282.3a3.7 3.7 0 1 0 7.4 0a3.7 3.7 0 1 0 -7.4 0M85.4 289.1a3.7 3.7 0 1 0 7.4 0a3.7 3.7 0 1 0 -7.4 0M92.3 293.7a3.7 3.7 0 1 0 7.4 0a3.7 3.7 0 1 0 -7.4 0M86.6 300.6a3.7 3.7 0 1 0 7.4 0a3.7 3.7 0 1 0 -7.4 0M100.3 301.7a3.7 3.7 0 1 0 7.4 0a3.7 3.7 0 1 0 -7.4 0M106.0 308.6a3.7 3.7 0 1 0 7.4 0a3.7 3.7 0 1 0 -7.4 0M119.7 313.1a3.7 3.7 0 1 0 7.4 0a3.7 3.7 0 1 0 -7.4 0M125.4 299.4a3.7 3.7 0 1 0 7.4 0a3.7 3.7 0 1 0 -7.4 0M131.2 302.9a3.7 3.7 0 1 0 7.4 0a3.7 3.7 0 1 0 -7.4 0M138.0 306.3a3.7 3.7 0 1 0 7.4 0a3.7 3.7 0 1 0 -7.4 0M144.9 310.9a3.7 3.7 0 1 0 7.4 0a3.7 3.7 0 1 0 -7.4 0M149.4 293.7a3.7 3.7 0 1 0 7.4 0a3.7 3.7 0 1 0 -7.4 0M154.0 294.9a3.7 3.7 0 1 0 7.4 0a3.7 3.7 0 1 0 -7.4 0M160.9 294.9a3.7 3.7 0 1 0 7.4 0a3.7 3.7 0 1 0 -7.4 0M170.0 299.4a3.7 3.7 0 1 0 7.4 0a3.7 3.7 0 1 0 -7.4 0M172.3 286.9a3.7 3.7 0 1 0 7.4 0a3.7 3.7 0 1 0 -7.4 0M181.4 281.1a3.7 3.7 0 1 0 7.4 0a3.7 3.7 0 1 0 -7.4 0M188.3 256.0a3.7 3.7 0 1 0 7.4 0a3.7 3.7 0 1 0 -7.4 0M195.2 249.1a3.7 3.7 0 1 0 7.4 0a3.7 3.7 0 1 0 -7.4 0M190.6 304.0a3.7 3.7 0 1 0 7.4 0a3.7 3.7 0 1 0 -7.4 0M142.6 253.7a3.7 3.7 0 1 0 7.4 0a3.7 3.7 0 1 0 -7.4 0M149.4 244.6a3.7 3.7 0 1 0 7.4 0a3.7 3.7 0 1 0 -7.4 0M160.9 243.4a3.7 3.7 0 1 0 7.4 0a3.7 3.7 0 1 0 -7.4 0M126.6 313.1a3.7 3.7 0 1 0 7.4 0a3.7 3.7 0 1 0 -7.4 0M133.4 313.1a3.7 3.7 0 1 0 7.4 0a3.7 3.7 0 1 0 -7.4 0M159.6 243.6a3.7 3.7 0 1 0 7.4 0a3.7 3.7 0 1 0 -7.4 0M162.8 242.5a3.7 3.7 0 1 0 7.4 0a3.7 3.7 0 1 0 -7.4 0M178.0 241.4a3.7 3.7 0 1 0 7.4 0a3.7 3.7 0 1 0 -7.4 0M174.8 244.7a3.7 3.7 0 1 0 7.4 0a3.7 3.7 0 1 0 -7.4 0M187.8 249.0a3.7 3.7 0 1 0 7.4 0a3.7 3.7 0 1 0 -7.4 0M192.2 248.0a3.7 3.7 0 1 0 7.4 0a3.7 3.7 0 1 0 -7.4 0M195.4 252.3a3.7 3.7 0 1 0 7.4 0a3.7 3.7 0 1 0 -7.4 0M188.9 256.7a3.7 3.7 0 1 0 7.4 0a3.7 3.7 0 1 0 -7.4 0M193.3 264.3a3.7 3.7 0 1 0 7.4 0a3.7 3.7 0 1 0 -7.4 0M205.2 258.8a3.7 3.7 0 1 0 7.4 0a3.7 3.7 0 1 0 -7.4 0M182.4 275.1a3.7 3.7 0 1 0 7.4 0a3.7 3.7 0 1 0 -7.4 0M180.2 280.6a3.7 3.7 0 1 0 7.4 0a3.7 3.7 0 1 0 -7.4 0M172.6 288.2a3.7 3.7 0 1 0 7.4 0a3.7 3.7 0 1 0 -7.4 0M159.6 295.8a3.7 3.7 0 1 0 7.4 0a3.7 3.7 0 1 0 -7.4 0M168.3 299.0a3.7 3.7 0 1 0 7.4 0a3.7 3.7 0 1 0 -7.4 0M170.4 304.5a3.7 3.7 0 1 0 7.4 0a3.7 3.7 0 1 0 -7.4 0M192.2 304.5a3.7 3.7 0 1 0 7.4 0a3.7 3.7 0 1 0 -7.4 0M213.9 237.1a3.7 3.7 0 1 0 7.4 0a3.7 3.7 0 1 0 -7.4 0M222.6 236.0a3.7 3.7 0 1 0 7.4 0a3.7 3.7 0 1 0 -7.4 0M173.7 266.4a3.7 3.7 0 1 0 7.4 0a3.7 3.7 0 1 0 -7.4 0M169.3 263.2a3.7 3.7 0 1 0 7.4 0a3.7 3.7 0 1 0 -7.4 0M165.0 258.8a3.7 3.7 0 1 0 7.4 0a3.7 3.7 0 1 0 -7.4 0M158.5 257.7a3.7 3.7 0 1 0 7.4 0a3.7 3.7 0 1 0 -7.4 0M160.6 264.3a3.7 3.7 0 1 0 7.4 0a3.7 3.7 0 1 0 -7.4 0M165.0 270.8a3.7 3.7 0 1 0 7.4 0a3.7 3.7 0 1 0 -7.4 0M169.3 279.5a3.7 3.7 0 1 0 7.4 0a3.7 3.7 0 1 0 -7.4 0M160.6 281.7a3.7 3.7 0 1 0 7.4 0a3.7 3.7 0 1 0 -7.4 0M156.3 275.1a3.7 3.7 0 1 0 7.4 0a3.7 3.7 0 1 0 -7.4 0M166.1 277.3a3.7 3.7 0 1 0 7.4 0a3.7 3.7 0 1 0 -7.4 0M162.8 283.8a3.7 3.7 0 1 0 7.4 0a3.7 3.7 0 1 0 -7.4 0M135.7 207.7a3.7 3.7 0 1 0 7.4 0a3.7 3.7 0 1 0 -7.4 0M139.2 204.3a3.7 3.7 0 1 0 7.4 0a3.7 3.7 0 1 0 -7.4 0M142.6 203.1a3.7 3.7 0 1 0 7.4 0a3.7 3.7 0 1 0 -7.4 0M146.0 202.0a3.7 3.7 0 1 0 7.4 0a3.7 3.7 0 1 0 -7.4 0M140.3 210.0a3.7 3.7 0 1 0 7.4 0a3.7 3.7 0 1 0 -7.4 0M143.7 208.9a3.7 3.7 0 1 0 7.4 0a3.7 3.7 0 1 0 -7.4 0M147.2 211.1a3.7 3.7 0 1 0 7.4 0a3.7 3.7 0 1 0 -7.4 0M138.0 214.6a3.7 3.7 0 1 0 7.4 0a3.7 3.7 0 1 0 -7.4 0M141.4 214.6a3.7 3.7 0 1 0 7.4 0a3.7 3.7 0 1 0 -7.4 0M146.0 216.9a3.7 3.7 0 1 0 7.4 0a3.7 3.7 0 1 0 -7.4 0M149.4 213.4a3.7 3.7 0 1 0 7.4 0a3.7 3.7 0 1 0 -7.4 0M142.6 227.1a3.7 3.7 0 1 0 7.4 0a3.7 3.7 0 1 0 -7.4 0M107.2 198.6a3.7 3.7 0 1 0 7.4 0a3.7 3.7 0 1 0 -7.4 0M110.6 197.4a3.7 3.7 0 1 0 7.4 0a3.7 3.7 0 1 0 -7.4 0M114.0 198.6a3.7 3.7 0 1 0 7.4 0a3.7 3.7 0 1 0 -7.4 0M106.0 214.6a3.7 3.7 0 1 0 7.4 0a3.7 3.7 0 1 0 -7.4 0M109.4 215.7a3.7 3.7 0 1 0 7.4 0a3.7 3.7 0 1 0 -7.4 0M112.9 218.0a3.7 3.7 0 1 0 7.4 0a3.7 3.7 0 1 0 -7.4 0M144.2 231.1a3.7 3.7 0 1 0 7.4 0a3.7 3.7 0 1 0 -7.4 0M161.2 223.8a3.7 3.7 0 1 0 7.4 0a3.7 3.7 0 1 0 -7.4 0M146.1 234.7a3.7 3.7 0 1 0 7.4 0a3.7 3.7 0 1 0 -7.4 0M167.4 224.9a3.7 3.7 0 1 0 7.4 0a3.7 3.7 0 1 0 -7.4 0M156.5 215.3a3.7 3.7 0 1 0 7.4 0a3.7 3.7 0 1 0 -7.4 0M138.4 220.0a3.7 3.7 0 1 0 7.4 0a3.7 3.7 0 1 0 -7.4 0M159.4 209.4a3.7 3.7 0 1 0 7.4 0a3.7 3.7 0 1 0 -7.4 0M166.9 215.1a3.7 3.7 0 1 0 7.4 0a3.7 3.7 0 1 0 -7.4 0M146.7 208.5a3.7 3.7 0 1 0 7.4 0a3.7 3.7 0 1 0 -7.4 0M139.5 218.5a3.7 3.7 0 1 0 7.4 0a3.7 3.7 0 1 0 -7.4 0M156.2 211.1a3.7 3.7 0 1 0 7.4 0a3.7 3.7 0 1 0 -7.4 0M172.6 219.9a3.7 3.7 0 1 0 7.4 0a3.7 3.7 0 1 0 -7.4 0M158.9 147.2a3.7 3.7 0 1 0 7.4 0a3.7 3.7 0 1 0 -7.4 0M162.9 165.6a3.7 3.7 0 1 0 7.4 0a3.7 3.7 0 1 0 -7.4 0M162.4 153.3a3.7 3.7 0 1 0 7.4 0a3.7 3.7 0 1 0 -7.4 0M165.9 161.1a3.7 3.7 0 1 0 7.4 0a3.7 3.7 0 1 0 -7.4 0M166.9 164.5a3.7 3.7 0 1 0 7.4 0a3.7 3.7 0 1 0 -7.4 0M168.1 155.6a3.7 3.7 0 1 0 7.4 0a3.7 3.7 0 1 0 -7.4 0M154.4 144.0a3.7 3.7 0 1 0 7.4 0a3.7 3.7 0 1 0 -7.4 0M165.8 144.7a3.7 3.7 0 1 0 7.4 0a3.7 3.7 0 1 0 -7.4 0M164.4 162.8a3.7 3.7 0 1 0 7.4 0a3.7 3.7 0 1 0 -7.4 0M168.1 146.6a3.7 3.7 0 1 0 7.4 0a3.7 3.7 0 1 0 -7.4 0M165.8 167.3a3.7 3.7 0 1 0 7.4 0a3.7 3.7 0 1 0 -7.4 0M153.8 164.8a3.7 3.7 0 1 0 7.4 0a3.7 3.7 0 1 0 -7.4 0M152.4 150.7a3.7 3.7 0 1 0 7.4 0a3.7 3.7 0 1 0 -7.4 0M163.7 162.3a3.7 3.7 0 1 0 7.4 0a3.7 3.7 0 1 0 -7.4 0M168.2 150.1a3.7 3.7 0 1 0 7.4 0a3.7 3.7 0 1 0 -7.4 0M154.2 164.7a3.7 3.7 0 1 0 7.4 0a3.7 3.7 0 1 0 -7.4 0M159.4 164.5a3.7 3.7 0 1 0 7.4 0a3.7 3.7 0 1 0 -7.4 0M161.2 153.8a3.7 3.7 0 1 0 7.4 0a3.7 3.7 0 1 0 -7.4 0M160.5 167.1a3.7 3.7 0 1 0 7.4 0a3.7 3.7 0 1 0 -7.4 0M159.8 167.8a3.7 3.7 0 1 0 7.4 0a3.7 3.7 0 1 0 -7.4 0M162.1 173.2a3.7 3.7 0 1 0 7.4 0a3.7 3.7 0 1 0 -7.4 0M164.4 150.9a3.7 3.7 0 1 0 7.4 0a3.7 3.7 0 1 0 -7.4 0M126.1 199.8a3.7 3.7 0 1 0 7.4 0a3.7 3.7 0 1 0 -7.4 0M124.5 206.3a3.7 3.7 0 1 0 7.4 0a3.7 3.7 0 1 0 -7.4 0M118.7 211.2a3.7 3.7 0 1 0 7.4 0a3.7 3.7 0 1 0 -7.4 0M132.6 193.3a3.7 3.7 0 1 0 7.4 0a3.7 3.7 0 1 0 -7.4 0M137.5 196.5a3.7 3.7 0 1 0 7.4 0a3.7 3.7 0 1 0 -7.4 0M142.4 196.5a3.7 3.7 0 1 0 7.4 0a3.7 3.7 0 1 0 -7.4 0M147.3 196.5a3.7 3.7 0 1 0 7.4 0a3.7 3.7 0 1 0 -7.4 0M140.8 203.0a3.7 3.7 0 1 0 7.4 0a3.7 3.7 0 1 0 -7.4 0M144.8 204.7a3.7 3.7 0 1 0 7.4 0a3.7 3.7 0 1 0 -7.4 0M137.5 207.9a3.7 3.7 0 1 0 7.4 0a3.7 3.7 0 1 0 -7.4 0M142.4 209.6a3.7 3.7 0 1 0 7.4 0a3.7 3.7 0 1 0 -7.4 0M148.9 208.8a3.7 3.7 0 1 0 7.4 0a3.7 3.7 0 1 0 -7.4 0M153.8 212.8a3.7 3.7 0 1 0 7.4 0a3.7 3.7 0 1 0 -7.4 0M148.9 216.1a3.7 3.7 0 1 0 7.4 0a3.7 3.7 0 1 0 -7.4 0M144.0 217.7a3.7 3.7 0 1 0 7.4 0a3.7 3.7 0 1 0 -7.4 0M139.1 214.5a3.7 3.7 0 1 0 7.4 0a3.7 3.7 0 1 0 -7.4 0M158.7 196.5a3.7 3.7 0 1 0 7.4 0a3.7 3.7 0 1 0 -7.4 0M163.6 194.9a3.7 3.7 0 1 0 7.4 0a3.7 3.7 0 1 0 -7.4 0M170.1 193.3a3.7 3.7 0 1 0 7.4 0a3.7 3.7 0 1 0 -7.4 0M158.7 206.3a3.7 3.7 0 1 0 7.4 0a3.7 3.7 0 1 0 -7.4 0M165.2 206.3a3.7 3.7 0 1 0 7.4 0a3.7 3.7 0 1 0 -7.4 0M170.1 207.9a3.7 3.7 0 1 0 7.4 0a3.7 3.7 0 1 0 -7.4 0M173.4 214.5a3.7 3.7 0 1 0 7.4 0a3.7 3.7 0 1 0 -7.4 0M165.2 216.1a3.7 3.7 0 1 0 7.4 0a3.7 3.7 0 1 0 -7.4 0M160.3 219.3a3.7 3.7 0 1 0 7.4 0a3.7 3.7 0 1 0 -7.4 0M170.1 224.2a3.7 3.7 0 1 0 7.4 0a3.7 3.7 0 1 0 -7.4 0M175.0 225.9a3.7 3.7 0 1 0 7.4 0a3.7 3.7 0 1 0 -7.4 0M153.8 229.1a3.7 3.7 0 1 0 7.4 0a3.7 3.7 0 1 0 -7.4 0M158.7 230.8a3.7 3.7 0 1 0 7.4 0a3.7 3.7 0 1 0 -7.4 0M165.2 232.4a3.7 3.7 0 1 0 7.4 0a3.7 3.7 0 1 0 -7.4 0M170.1 230.8a3.7 3.7 0 1 0 7.4 0a3.7 3.7 0 1 0 -7.4 0M144.0 238.9a3.7 3.7 0 1 0 7.4 0a3.7 3.7 0 1 0 -7.4 0M148.9 237.3a3.7 3.7 0 1 0 7.4 0a3.7 3.7 0 1 0 -7.4 0M153.8 238.9a3.7 3.7 0 1 0 7.4 0a3.7 3.7 0 1 0 -7.4 0M157.1 243.8a3.7 3.7 0 1 0 7.4 0a3.7 3.7 0 1 0 -7.4 0M148.9 243.8a3.7 3.7 0 1 0 7.4 0a3.7 3.7 0 1 0 -7.4 0M101.6 223.5a3.7 3.7 0 1 0 7.4 0a3.7 3.7 0 1 0 -7.4 0M110.0 229.3a3.7 3.7 0 1 0 7.4 0a3.7 3.7 0 1 0 -7.4 0M113.9 227.9a3.7 3.7 0 1 0 7.4 0a3.7 3.7 0 1 0 -7.4 0M120.7 225.9a3.7 3.7 0 1 0 7.4 0a3.7 3.7 0 1 0 -7.4 0M122.7 228.8a3.7 3.7 0 1 0 7.4 0a3.7 3.7 0 1 0 -7.4 0M118.3 232.8a3.7 3.7 0 1 0 7.4 0a3.7 3.7 0 1 0 -7.4 0M113.9 234.7a3.7 3.7 0 1 0 7.4 0a3.7 3.7 0 1 0 -7.4 0M109.0 231.8a3.7 3.7 0 1 0 7.4 0a3.7 3.7 0 1 0 -7.4 0M130.5 234.7a3.7 3.7 0 1 0 7.4 0a3.7 3.7 0 1 0 -7.4 0M136.4 228.8a3.7 3.7 0 1 0 7.4 0a3.7 3.7 0 1 0 -7.4 0M140.3 231.8a3.7 3.7 0 1 0 7.4 0a3.7 3.7 0 1 0 -7.4 0M109.0 242.5a3.7 3.7 0 1 0 7.4 0a3.7 3.7 0 1 0 -7.4 0M101.1 244.0a3.7 3.7 0 1 0 7.4 0a3.7 3.7 0 1 0 -7.4 0M98.2 247.9a3.7 3.7 0 1 0 7.4 0a3.7 3.7 0 1 0 -7.4 0M125.6 248.4a3.7 3.7 0 1 0 7.4 0a3.7 3.7 0 1 0 -7.4 0M133.4 245.5a3.7 3.7 0 1 0 7.4 0a3.7 3.7 0 1 0 -7.4 0M139.3 241.6a3.7 3.7 0 1 0 7.4 0a3.7 3.7 0 1 0 -7.4 0M142.2 246.5a3.7 3.7 0 1 0 7.4 0a3.7 3.7 0 1 0 -7.4 0M98.2 255.8a3.7 3.7 0 1 0 7.4 0a3.7 3.7 0 1 0 -7.4 0M108.0 254.8a3.7 3.7 0 1 0 7.4 0a3.7 3.7 0 1 0 -7.4 0M117.8 255.3a3.7 3.7 0 1 0 7.4 0a3.7 3.7 0 1 0 -7.4 0M123.7 254.3a3.7 3.7 0 1 0 7.4 0a3.7 3.7 0 1 0 -7.4 0M130.5 253.3a3.7 3.7 0 1 0 7.4 0a3.7 3.7 0 1 0 -7.4 0M135.4 251.4a3.7 3.7 0 1 0 7.4 0a3.7 3.7 0 1 0 -7.4 0M141.3 253.3a3.7 3.7 0 1 0 7.4 0a3.7 3.7 0 1 0 -7.4 0M171.2 144.4a3.7 3.7 0 1 0 7.4 0a3.7 3.7 0 1 0 -7.4 0M171.9 149.4a3.7 3.7 0 1 0 7.4 0a3.7 3.7 0 1 0 -7.4 0M171.4 153.5a3.7 3.7 0 1 0 7.4 0a3.7 3.7 0 1 0 -7.4 0M171.2 157.2a3.7 3.7 0 1 0 7.4 0a3.7 3.7 0 1 0 -7.4 0M170.9 163.3a3.7 3.7 0 1 0 7.4 0a3.7 3.7 0 1 0 -7.4 0M173.0 168.0a3.7 3.7 0 1 0 7.4 0a3.7 3.7 0 1 0 -7.4 0M174.2 171.3a3.7 3.7 0 1 0 7.4 0a3.7 3.7 0 1 0 -7.4 0M180.2 173.1a3.7 3.7 0 1 0 7.4 0a3.7 3.7 0 1 0 -7.4 0M182.0 172.4a3.7 3.7 0 1 0 7.4 0a3.7 3.7 0 1 0 -7.4 0M188.1 173.3a3.7 3.7 0 1 0 7.4 0a3.7 3.7 0 1 0 -7.4 0M191.0 173.3a3.7 3.7 0 1 0 7.4 0a3.7 3.7 0 1 0 -7.4 0M198.1 173.3a3.7 3.7 0 1 0 7.4 0a3.7 3.7 0 1 0 -7.4 0M202.0 172.5a3.7 3.7 0 1 0 7.4 0a3.7 3.7 0 1 0 -7.4 0M205.1 172.2a3.7 3.7 0 1 0 7.4 0a3.7 3.7 0 1 0 -7.4 0M208.1 172.5a3.7 3.7 0 1 0 7.4 0a3.7 3.7 0 1 0 -7.4 0M215.4 172.8a3.7 3.7 0 1 0 7.4 0a3.7 3.7 0 1 0 -7.4 0M220.5 173.5a3.7 3.7 0 1 0 7.4 0a3.7 3.7 0 1 0 -7.4 0M222.3 172.5a3.7 3.7 0 1 0 7.4 0a3.7 3.7 0 1 0 -7.4 0M226.3 173.0a3.7 3.7 0 1 0 7.4 0a3.7 3.7 0 1 0 -7.4 0M232.7 171.8a3.7 3.7 0 1 0 7.4 0a3.7 3.7 0 1 0 -7.4 0M232.9 167.4a3.7 3.7 0 1 0 7.4 0a3.7 3.7 0 1 0 -7.4 0M233.4 164.0a3.7 3.7 0 1 0 7.4 0a3.7 3.7 0 1 0 -7.4 0M233.2 158.4a3.7 3.7 0 1 0 7.4 0a3.7 3.7 0 1 0 -7.4 0M233.7 154.8a3.7 3.7 0 1 0 7.4 0a3.7 3.7 0 1 0 -7.4 0M234.8 149.3a3.7 3.7 0 1 0 7.4 0a3.7 3.7 0 1 0 -7.4 0M235.1 144.6a3.7 3.7 0 1 0 7.4 0a3.7 3.7 0 1 0 -7.4 0M234.0 143.5a3.7 3.7 0 1 0 7.4 0a3.7 3.7 0 1 0 -7.4 0M230.3 138.4a3.7 3.7 0 1 0 7.4 0a3.7 3.7 0 1 0 -7.4 0M228.3 133.6a3.7 3.7 0 1 0 7.4 0a3.7 3.7 0 1 0 -7.4 0M226.1 130.2a3.7 3.7 0 1 0 7.4 0a3.7 3.7 0 1 0 -7.4 0M223.3 126.6a3.7 3.7 0 1 0 7.4 0a3.7 3.7 0 1 0 -7.4 0M219.2 124.8a3.7 3.7 0 1 0 7.4 0a3.7 3.7 0 1 0 -7.4 0M215.1 122.3a3.7 3.7 0 1 0 7.4 0a3.7 3.7 0 1 0 -7.4 0M212.2 122.2a3.7 3.7 0 1 0 7.4 0a3.7 3.7 0 1 0 -7.4 0M208.1 121.5a3.7 3.7 0 1 0 7.4 0a3.7 3.7 0 1 0 -7.4 0M201.9 123.0a3.7 3.7 0 1 0 7.4 0a3.7 3.7 0 1 0 -7.4 0M199.7 124.7a3.7 3.7 0 1 0 7.4 0a3.7 3.7 0 1 0 -7.4 0M195.1 128.4a3.7 3.7 0 1 0 7.4 0a3.7 3.7 0 1 0 -7.4 0M192.1 130.8a3.7 3.7 0 1 0 7.4 0a3.7 3.7 0 1 0 -7.4 0M189.8 134.1a3.7 3.7 0 1 0 7.4 0a3.7 3.7 0 1 0 -7.4 0M186.9 136.5a3.7 3.7 0 1 0 7.4 0a3.7 3.7 0 1 0 -7.4 0M181.7 138.6a3.7 3.7 0 1 0 7.4 0a3.7 3.7 0 1 0 -7.4 0M178.2 139.6a3.7 3.7 0 1 0 7.4 0a3.7 3.7 0 1 0 -7.4 0M173.5 141.9a3.7 3.7 0 1 0 7.4 0a3.7 3.7 0 1 0 -7.4 0M175.6 180.8a3.7 3.7 0 1 0 7.4 0a3.7 3.7 0 1 0 -7.4 0M174.1 186.0a3.7 3.7 0 1 0 7.4 0a3.7 3.7 0 1 0 -7.4 0M172.3 188.3a3.7 3.7 0 1 0 7.4 0a3.7 3.7 0 1 0 -7.4 0M170.5 192.8a3.7 3.7 0 1 0 7.4 0a3.7 3.7 0 1 0 -7.4 0M168.3 196.2a3.7 3.7 0 1 0 7.4 0a3.7 3.7 0 1 0 -7.4 0M167.4 202.4a3.7 3.7 0 1 0 7.4 0a3.7 3.7 0 1 0 -7.4 0M167.6 204.7a3.7 3.7 0 1 0 7.4 0a3.7 3.7 0 1 0 -7.4 0M169.7 209.4a3.7 3.7 0 1 0 7.4 0a3.7 3.7 0 1 0 -7.4 0M173.0 213.6a3.7 3.7 0 1 0 7.4 0a3.7 3.7 0 1 0 -7.4 0M175.5 217.4a3.7 3.7 0 1 0 7.4 0a3.7 3.7 0 1 0 -7.4 0M178.8 218.2a3.7 3.7 0 1 0 7.4 0a3.7 3.7 0 1 0 -7.4 0M183.7 219.9a3.7 3.7 0 1 0 7.4 0a3.7 3.7 0 1 0 -7.4 0M187.7 220.0a3.7 3.7 0 1 0 7.4 0a3.7 3.7 0 1 0 -7.4 0M191.7 221.5a3.7 3.7 0 1 0 7.4 0a3.7 3.7 0 1 0 -7.4 0M195.5 221.2a3.7 3.7 0 1 0 7.4 0a3.7 3.7 0 1 0 -7.4 0M201.3 220.6a3.7 3.7 0 1 0 7.4 0a3.7 3.7 0 1 0 -7.4 0M206.9 218.7a3.7 3.7 0 1 0 7.4 0a3.7 3.7 0 1 0 -7.4 0M211.1 216.3a3.7 3.7 0 1 0 7.4 0a3.7 3.7 0 1 0 -7.4 0M215.2 215.1a3.7 3.7 0 1 0 7.4 0a3.7 3.7 0 1 0 -7.4 0M217.5 212.6a3.7 3.7 0 1 0 7.4 0a3.7 3.7 0 1 0 -7.4 0M221.3 208.2a3.7 3.7 0 1 0 7.4 0a3.7 3.7 0 1 0 -7.4 0M221.6 203.7a3.7 3.7 0 1 0 7.4 0a3.7 3.7 0 1 0 -7.4 0M223.2 200.5a3.7 3.7 0 1 0 7.4 0a3.7 3.7 0 1 0 -7.4 0M221.7 195.3a3.7 3.7 0 1 0 7.4 0a3.7 3.7 0 1 0 -7.4 0M222.0 190.3a3.7 3.7 0 1 0 7.4 0a3.7 3.7 0 1 0 -7.4 0M222.4 188.0a3.7 3.7 0 1 0 7.4 0a3.7 3.7 0 1 0 -7.4 0M225.5 184.0a3.7 3.7 0 1 0 7.4 0a3.7 3.7 0 1 0 -7.4 0M223.8 179.4a3.7 3.7 0 1 0 7.4 0a3.7 3.7 0 1 0 -7.4 0M218.7 179.6a3.7 3.7 0 1 0 7.4 0a3.7 3.7 0 1 0 -7.4 0M214.2 179.2a3.7 3.7 0 1 0 7.4 0a3.7 3.7 0 1 0 -7.4 0M209.3 179.5a3.7 3.7 0 1 0 7.4 0a3.7 3.7 0 1 0 -7.4 0M205.8 178.8a3.7 3.7 0 1 0 7.4 0a3.7 3.7 0 1 0 -7.4 0M200.2 179.5a3.7 3.7 0 1 0 7.4 0a3.7 3.7 0 1 0 -7.4 0M195.4 179.0a3.7 3.7 0 1 0 7.4 0a3.7 3.7 0 1 0 -7.4 0M192.4 179.5a3.7 3.7 0 1 0 7.4 0a3.7 3.7 0 1 0 -7.4 0M187.5 178.5a3.7 3.7 0 1 0 7.4 0a3.7 3.7 0 1 0 -7.4 0M183.6 179.5a3.7 3.7 0 1 0 7.4 0a3.7 3.7 0 1 0 -7.4 0M179.1 178.4a3.7 3.7 0 1 0 7.4 0a3.7 3.7 0 1 0 -7.4 0M159.6 256.0a3.7 3.7 0 1 0 7.4 0a3.7 3.7 0 1 0 -7.4 0M158.8 259.9a3.7 3.7 0 1 0 7.4 0a3.7 3.7 0 1 0 -7.4 0M159.3 265.3a3.7 3.7 0 1 0 7.4 0a3.7 3.7 0 1 0 -7.4 0M158.7 270.1a3.7 3.7 0 1 0 7.4 0a3.7 3.7 0 1 0 -7.4 0M160.1 274.7a3.7 3.7 0 1 0 7.4 0a3.7 3.7 0 1 0 -7.4 0M159.4 279.8a3.7 3.7 0 1 0 7.4 0a3.7 3.7 0 1 0 -7.4 0M160.1 283.3a3.7 3.7 0 1 0 7.4 0a3.7 3.7 0 1 0 -7.4 0M162.2 283.3a3.7 3.7 0 1 0 7.4 0a3.7 3.7 0 1 0 -7.4 0M167.9 280.6a3.7 3.7 0 1 0 7.4 0a3.7 3.7 0 1 0 -7.4 0M171.7 277.8a3.7 3.7 0 1 0 7.4 0a3.7 3.7 0 1 0 -7.4 0M171.3 275.3a3.7 3.7 0 1 0 7.4 0a3.7 3.7 0 1 0 -7.4 0M172.1 269.6a3.7 3.7 0 1 0 7.4 0a3.7 3.7 0 1 0 -7.4 0M170.5 264.6a3.7 3.7 0 1 0 7.4 0a3.7 3.7 0 1 0 -7.4 0M167.8 260.9a3.7 3.7 0 1 0 7.4 0a3.7 3.7 0 1 0 -7.4 0M166.3 258.7a3.7 3.7 0 1 0 7.4 0a3.7 3.7 0 1 0 -7.4 0M163.8 255.8a3.7 3.7 0 1 0 7.4 0a3.7 3.7 0 1 0 -7.4 0"/>
<path fill="#db5520" d="M180.5 48.3a3.75 3.75 0 1 0 7.5 0a3.75 3.75 0 1 0 -7.5 0M179.7 62.2a3.75 3.75 0 1 0 7.5 0a3.75 3.75 0 1 0 -7.5 0M186.6 65.0a3.75 3.75 0 1 0 7.5 0a3.75 3.75 0 1 0 -7.5 0M181.7 71.7a3.75 3.75 0 1 0 7.5 0a3.75 3.75 0 1 0 -7.5 0M189.5 79.4a3.75 3.75 0 1 0 7.5 0a3.75 3.75 0 1 0 -7.5 0M159.5 96.3a3.75 3.75 0 1 0 7.5 0a3.75 3.75 0 1 0 -7.5 0M162.8 99.6a3.75 3.75 0 1 0 7.5 0a3.75 3.75 0 1 0 -7.5 0M203.8 95.8a3.75 3.75 0 1 0 7.5 0a3.75 3.75 0 1 0 -7.5 0M219.4 102.1a3.75 3.75 0 1 0 7.5 0a3.75 3.75 0 1 0 -7.5 0M224.8 100.1a3.75 3.75 0 1 0 7.5 0a3.75 3.75 0 1 0 -7.5 0M167.4 112.7a3.75 3.75 0 1 0 7.5 0a3.75 3.75 0 1 0 -7.5 0M172.6 114.4a3.75 3.75 0 1 0 7.5 0a3.75 3.75 0 1 0 -7.5 0M179.7 119.3a3.75 3.75 0 1 0 7.5 0a3.75 3.75 0 1 0 -7.5 0M203.8 119.8a3.75 3.75 0 1 0 7.5 0a3.75 3.75 0 1 0 -7.5 0M211.2 122.6a3.75 3.75 0 1 0 7.5 0a3.75 3.75 0 1 0 -7.5 0M223.5 119.3a3.75 3.75 0 1 0 7.5 0a3.75 3.75 0 1 0 -7.5 0M239.5 116.8a3.75 3.75 0 1 0 7.5 0a3.75 3.75 0 1 0 -7.5 0M198.1 123.4a3.75 3.75 0 1 0 7.5 0a3.75 3.75 0 1 0 -7.5 0M150.9 129.6a3.75 3.75 0 1 0 7.5 0a3.75 3.75 0 1 0 -7.5 0M179.2 119.3a3.75 3.75 0 1 0 7.5 0a3.75 3.75 0 1 0 -7.5 0M171.8 116.0a3.75 3.75 0 1 0 7.5 0a3.75 3.75 0 1 0 -7.5 0M203.8 120.1a3.75 3.75 0 1 0 7.5 0a3.75 3.75 0 1 0 -7.5 0M211.2 122.6a3.75 3.75 0 1 0 7.5 0a3.75 3.75 0 1 0 -7.5 0M223.5 119.3a3.75 3.75 0 1 0 7.5 0a3.75 3.75 0 1 0 -7.5 0M197.2 125.0a3.75 3.75 0 1 0 7.5 0a3.75 3.75 0 1 0 -7.5 0M208.7 129.9a3.75 3.75 0 1 0 7.5 0a3.75 3.75 0 1 0 -7.5 0M217.7 130.8a3.75 3.75 0 1 0 7.5 0a3.75 3.75 0 1 0 -7.5 0M192.3 132.4a3.75 3.75 0 1 0 7.5 0a3.75 3.75 0 1 0 -7.5 0M198.1 135.7a3.75 3.75 0 1 0 7.5 0a3.75 3.75 0 1 0 -7.5 0M200.5 139.0a3.75 3.75 0 1 0 7.5 0a3.75 3.75 0 1 0 -7.5 0M205.4 139.0a3.75 3.75 0 1 0 7.5 0a3.75 3.75 0 1 0 -7.5 0M210.3 137.3a3.75 3.75 0 1 0 7.5 0a3.75 3.75 0 1 0 -7.5 0M214.4 134.9a3.75 3.75 0 1 0 7.5 0a3.75 3.75 0 1 0 -7.5 0M177.6 140.6a3.75 3.75 0 1 0 7.5 0a3.75 3.75 0 1 0 -7.5 0M184.9 139.0a3.75 3.75 0 1 0 7.5 0a3.75 3.75 0 1 0 -7.5 0M181.7 147.1a3.75 3.75 0 1 0 7.5 0a3.75 3.75 0 1 0 -7.5 0M187.4 147.1a3.75 3.75 0 1 0 7.5 0a3.75 3.75 0 1 0 -7.5 0M198.9 147.1a3.75 3.75 0 1 0 7.5 0a3.75 3.75 0 1 0 -7.5 0M199.7 154.5a3.75 3.75 0 1 0 7.5 0a3.75 3.75 0 1 0 -7.5 0M213.6 144.7a3.75 3.75 0 1 0 7.5 0a3.75 3.75 0 1 0 -7.5 0M215.3 153.7a3.75 3.75 0 1 0 7.5 0a3.75 3.75 0 1 0 -7.5 0M221.0 151.2a3.75 3.75 0 1 0 7.5 0a3.75 3.75 0 1 0 -7.5 0M223.5 149.6a3.75 3.75 0 1 0 7.5 0a3.75 3.75 0 1 0 -7.5 0M228.4 145.5a3.75 3.75 0 1 0 7.5 0a3.75 3.75 0 1 0 -7.5 0M234.9 150.4a3.75 3.75 0 1 0 7.5 0a3.75 3.75 0 1 0 -7.5 0M226.7 155.3a3.75 3.75 0 1 0 7.5 0a3.75 3.75 0 1 0 -7.5 0M179.2 156.2a3.75 3.75 0 1 0 7.5 0a3.75 3.75 0 1 0 -7.5 0M183.3 155.3a3.75 3.75 0 1 0 7.5 0a3.75 3.75 0 1 0 -7.5 0M211.2 162.7a3.75 3.75 0 1 0 7.5 0a3.75 3.75 0 1 0 -7.5 0M203.0 167.6a3.75 3.75 0 1 0 7.5 0a3.75 3.75 0 1 0 -7.5 0M195.6 171.7a3.75 3.75 0 1 0 7.5 0a3.75 3.75 0 1 0 -7.5 0M200.5 170.1a3.75 3.75 0 1 0 7.5 0a3.75 3.75 0 1 0 -7.5 0M209.5 173.4a3.75 3.75 0 1 0 7.5 0a3.75 3.75 0 1 0 -7.5 0M229.2 165.2a3.75 3.75 0 1 0 7.5 0a3.75 3.75 0 1 0 -7.5 0M173.5 172.6a3.75 3.75 0 1 0 7.5 0a3.75 3.75 0 1 0 -7.5 0M240.7 118.5a3.75 3.75 0 1 0 7.5 0a3.75 3.75 0 1 0 -7.5 0M177.7 189.5a3.75 3.75 0 1 0 7.5 0a3.75 3.75 0 1 0 -7.5 0M183.4 211.4a3.75 3.75 0 1 0 7.5 0a3.75 3.75 0 1 0 -7.5 0M176.0 217.1a3.75 3.75 0 1 0 7.5 0a3.75 3.75 0 1 0 -7.5 0M196.4 179.3a3.75 3.75 0 1 0 7.5 0a3.75 3.75 0 1 0 -7.5 0M198.9 184.2a3.75 3.75 0 1 0 7.5 0a3.75 3.75 0 1 0 -7.5 0M205.4 182.6a3.75 3.75 0 1 0 7.5 0a3.75 3.75 0 1 0 -7.5 0M207.9 185.8a3.75 3.75 0 1 0 7.5 0a3.75 3.75 0 1 0 -7.5 0M212.0 177.6a3.75 3.75 0 1 0 7.5 0a3.75 3.75 0 1 0 -7.5 0M218.5 180.9a3.75 3.75 0 1 0 7.5 0a3.75 3.75 0 1 0 -7.5 0M198.1 190.8a3.75 3.75 0 1 0 7.5 0a3.75 3.75 0 1 0 -7.5 0M206.2 194.9a3.75 3.75 0 1 0 7.5 0a3.75 3.75 0 1 0 -7.5 0M210.3 200.6a3.75 3.75 0 1 0 7.5 0a3.75 3.75 0 1 0 -7.5 0M207.1 202.2a3.75 3.75 0 1 0 7.5 0a3.75 3.75 0 1 0 -7.5 0M215.3 200.6a3.75 3.75 0 1 0 7.5 0a3.75 3.75 0 1 0 -7.5 0M221.8 199.0a3.75 3.75 0 1 0 7.5 0a3.75 3.75 0 1 0 -7.5 0M218.5 203.9a3.75 3.75 0 1 0 7.5 0a3.75 3.75 0 1 0 -7.5 0M198.1 204.7a3.75 3.75 0 1 0 7.5 0a3.75 3.75 0 1 0 -7.5 0M215.3 209.6a3.75 3.75 0 1 0 7.5 0a3.75 3.75 0 1 0 -7.5 0M221.0 208.8a3.75 3.75 0 1 0 7.5 0a3.75 3.75 0 1 0 -7.5 0M220.2 216.2a3.75 3.75 0 1 0 7.5 0a3.75 3.75 0 1 0 -7.5 0M183.3 210.4a3.75 3.75 0 1 0 7.5 0a3.75 3.75 0 1 0 -7.5 0M182.5 213.7a3.75 3.75 0 1 0 7.5 0a3.75 3.75 0 1 0 -7.5 0M194.8 215.3a3.75 3.75 0 1 0 7.5 0a3.75 3.75 0 1 0 -7.5 0M202.2 217.0a3.75 3.75 0 1 0 7.5 0a3.75 3.75 0 1 0 -7.5 0M175.9 219.4a3.75 3.75 0 1 0 7.5 0a3.75 3.75 0 1 0 -7.5 0M187.4 221.1a3.75 3.75 0 1 0 7.5 0a3.75 3.75 0 1 0 -7.5 0M183.3 228.5a3.75 3.75 0 1 0 7.5 0a3.75 3.75 0 1 0 -7.5 0M182.5 234.2a3.75 3.75 0 1 0 7.5 0a3.75 3.75 0 1 0 -7.5 0M207.9 235.0a3.75 3.75 0 1 0 7.5 0a3.75 3.75 0 1 0 -7.5 0M234.1 213.7a3.75 3.75 0 1 0 7.5 0a3.75 3.75 0 1 0 -7.5 0M178.4 189.1a3.75 3.75 0 1 0 7.5 0a3.75 3.75 0 1 0 -7.5 0M173.6 241.4a3.75 3.75 0 1 0 7.5 0a3.75 3.75 0 1 0 -7.5 0M183.4 238.2a3.75 3.75 0 1 0 7.5 0a3.75 3.75 0 1 0 -7.5 0M198.6 245.8a3.75 3.75 0 1 0 7.5 0a3.75 3.75 0 1 0 -7.5 0M168.2 251.2a3.75 3.75 0 1 0 7.5 0a3.75 3.75 0 1 0 -7.5 0M174.7 254.5a3.75 3.75 0 1 0 7.5 0a3.75 3.75 0 1 0 -7.5 0M207.3 238.2a3.75 3.75 0 1 0 7.5 0a3.75 3.75 0 1 0 -7.5 0M208.4 241.4a3.75 3.75 0 1 0 7.5 0a3.75 3.75 0 1 0 -7.5 0M213.9 244.7a3.75 3.75 0 1 0 7.5 0a3.75 3.75 0 1 0 -7.5 0M218.2 246.9a3.75 3.75 0 1 0 7.5 0a3.75 3.75 0 1 0 -7.5 0M219.3 251.2a3.75 3.75 0 1 0 7.5 0a3.75 3.75 0 1 0 -7.5 0M207.3 255.6a3.75 3.75 0 1 0 7.5 0a3.75 3.75 0 1 0 -7.5 0M208.4 257.7a3.75 3.75 0 1 0 7.5 0a3.75 3.75 0 1 0 -7.5 0M207.3 262.1a3.75 3.75 0 1 0 7.5 0a3.75 3.75 0 1 0 -7.5 0M214.9 266.4a3.75 3.75 0 1 0 7.5 0a3.75 3.75 0 1 0 -7.5 0M212.8 269.7a3.75 3.75 0 1 0 7.5 0a3.75 3.75 0 1 0 -7.5 0M188.9 268.6a3.75 3.75 0 1 0 7.5 0a3.75 3.75 0 1 0 -7.5 0M187.8 270.8a3.75 3.75 0 1 0 7.5 0a3.75 3.75 0 1 0 -7.5 0M176.9 275.1a3.75 3.75 0 1 0 7.5 0a3.75 3.75 0 1 0 -7.5 0M213.9 278.4a3.75 3.75 0 1 0 7.5 0a3.75 3.75 0 1 0 -7.5 0M217.1 291.4a3.75 3.75 0 1 0 7.5 0a3.75 3.75 0 1 0 -7.5 0M219.3 296.9a3.75 3.75 0 1 0 7.5 0a3.75 3.75 0 1 0 -7.5 0M248.9 230.3a3.75 3.75 0 1 0 7.5 0a3.75 3.75 0 1 0 -7.5 0M197.0 123.1a3.75 3.75 0 1 0 7.5 0a3.75 3.75 0 1 0 -7.5 0M199.7 127.2a3.75 3.75 0 1 0 7.5 0a3.75 3.75 0 1 0 -7.5 0M195.6 132.6a3.75 3.75 0 1 0 7.5 0a3.75 3.75 0 1 0 -7.5 0M202.4 131.2a3.75 3.75 0 1 0 7.5 0a3.75 3.75 0 1 0 -7.5 0M206.5 138.0a3.75 3.75 0 1 0 7.5 0a3.75 3.75 0 1 0 -7.5 0M210.5 140.8a3.75 3.75 0 1 0 7.5 0a3.75 3.75 0 1 0 -7.5 0M214.6 135.3a3.75 3.75 0 1 0 7.5 0a3.75 3.75 0 1 0 -7.5 0M217.3 129.9a3.75 3.75 0 1 0 7.5 0a3.75 3.75 0 1 0 -7.5 0M205.1 120.4a3.75 3.75 0 1 0 7.5 0a3.75 3.75 0 1 0 -7.5 0M222.8 119.0a3.75 3.75 0 1 0 7.5 0a3.75 3.75 0 1 0 -7.5 0M209.2 128.5a3.75 3.75 0 1 0 7.5 0a3.75 3.75 0 1 0 -7.5 0"/>
<path fill="#000" d="M207.3 24.9a3.75 3.75 0 1 0 7.5 0a3.75 3.75 0 1 0 -7.5 0M248.8 33.9a3.75 3.75 0 1 0 7.5 0a3.75 3.75 0 1 0 -7.5 0M294.8 56.8a3.75 3.75 0 1 0 7.5 0a3.75 3.75 0 1 0 -7.5 0M304.6 63.3a3.75 3.75 0 1 0 7.5 0a3.75 3.75 0 1 0 -7.5 0M278.6 82.4a3.75 3.75 0 1 0 7.5 0a3.75 3.75 0 1 0 -7.5 0M289.8 79.9a3.75 3.75 0 1 0 7.5 0a3.75 3.75 0 1 0 -7.5 0M256.1 109.0a3.75 3.75 0 1 0 7.5 0a3.75 3.75 0 1 0 -7.5 0M275.6 111.2a3.75 3.75 0 1 0 7.5 0a3.75 3.75 0 1 0 -7.5 0M294.1 114.0a3.75 3.75 0 1 0 7.5 0a3.75 3.75 0 1 0 -7.5 0M311.4 97.0a3.75 3.75 0 1 0 7.5 0a3.75 3.75 0 1 0 -7.5 0M322.4 98.8a3.75 3.75 0 1 0 7.5 0a3.75 3.75 0 1 0 -7.5 0M331.4 104.3a3.75 3.75 0 1 0 7.5 0a3.75 3.75 0 1 0 -7.5 0M342.6 112.4a3.75 3.75 0 1 0 7.5 0a3.75 3.75 0 1 0 -7.5 0M313.8 111.3a3.75 3.75 0 1 0 7.5 0a3.75 3.75 0 1 0 -7.5 0M311.4 115.0a3.75 3.75 0 1 0 7.5 0a3.75 3.75 0 1 0 -7.5 0M317.2 118.2a3.75 3.75 0 1 0 7.5 0a3.75 3.75 0 1 0 -7.5 0M321.9 115.7a3.75 3.75 0 1 0 7.5 0a3.75 3.75 0 1 0 -7.5 0M305.4 122.3a3.75 3.75 0 1 0 7.5 0a3.75 3.75 0 1 0 -7.5 0M304.9 134.3a3.75 3.75 0 1 0 7.5 0a3.75 3.75 0 1 0 -7.5 0M322.2 133.0a3.75 3.75 0 1 0 7.5 0a3.75 3.75 0 1 0 -7.5 0M341.6 133.3a3.75 3.75 0 1 0 7.5 0a3.75 3.75 0 1 0 -7.5 0M350.9 129.5a3.75 3.75 0 1 0 7.5 0a3.75 3.75 0 1 0 -7.5 0M338.6 139.6a3.75 3.75 0 1 0 7.5 0a3.75 3.75 0 1 0 -7.5 0M321.4 144.7a3.75 3.75 0 1 0 7.5 0a3.75 3.75 0 1 0 -7.5 0M324.2 147.3a3.75 3.75 0 1 0 7.5 0a3.75 3.75 0 1 0 -7.5 0M365.2 98.2a3.75 3.75 0 1 0 7.5 0a3.75 3.75 0 1 0 -7.5 0M373.4 91.3a3.75 3.75 0 1 0 7.5 0a3.75 3.75 0 1 0 -7.5 0M378.4 90.4a3.75 3.75 0 1 0 7.5 0a3.75 3.75 0 1 0 -7.5 0M251.2 142.5a3.75 3.75 0 1 0 7.5 0a3.75 3.75 0 1 0 -7.5 0M260.6 144.0a3.75 3.75 0 1 0 7.5 0a3.75 3.75 0 1 0 -7.5 0M271.4 144.0a3.75 3.75 0 1 0 7.5 0a3.75 3.75 0 1 0 -7.5 0M255.9 156.1a3.75 3.75 0 1 0 7.5 0a3.75 3.75 0 1 0 -7.5 0M279.6 148.4a3.75 3.75 0 1 0 7.5 0a3.75 3.75 0 1 0 -7.5 0M285.1 153.0a3.75 3.75 0 1 0 7.5 0a3.75 3.75 0 1 0 -7.5 0M292.1 151.7a3.75 3.75 0 1 0 7.5 0a3.75 3.75 0 1 0 -7.5 0M273.9 160.8a3.75 3.75 0 1 0 7.5 0a3.75 3.75 0 1 0 -7.5 0M280.4 162.0a3.75 3.75 0 1 0 7.5 0a3.75 3.75 0 1 0 -7.5 0M243.8 187.9a3.75 3.75 0 1 0 7.5 0a3.75 3.75 0 1 0 -7.5 0"/>
</g>
<rect x="74.5" y="6.5" width="436.0" height="309.0" fill="none" stroke="#8a8a8a" stroke-width="1"/>
<text x="69" y="18.1" font-size="20" text-anchor="end" font-family="Liberation Sans, sans-serif">10<tspan font-size="12.5" dy="-9.2">0</tspan></text><text x="69" y="75.1" font-size="20" text-anchor="end" font-family="Liberation Sans, sans-serif">10<tspan font-size="12.5" dy="-9.2">−1</tspan></text><text x="69" y="136.9" font-size="20" text-anchor="end" font-family="Liberation Sans, sans-serif">10<tspan font-size="12.5" dy="-9.2">−2</tspan></text><text x="69" y="198.7" font-size="20" text-anchor="end" font-family="Liberation Sans, sans-serif">10<tspan font-size="12.5" dy="-9.2">−3</tspan></text><text x="69" y="260.5" font-size="20" text-anchor="end" font-family="Liberation Sans, sans-serif">10<tspan font-size="12.5" dy="-9.2">−4</tspan></text><text x="69" y="315.9" font-size="20" text-anchor="end" font-family="Liberation Sans, sans-serif">10<tspan font-size="12.5" dy="-9.2">−5</tspan></text><text x="75.5" y="341.3" font-size="20" text-anchor="middle" font-family="Liberation Sans, sans-serif">10<tspan font-size="12.5" dy="-9.2">−2</tspan></text><text x="184.0" y="341.3" font-size="20" text-anchor="middle" font-family="Liberation Sans, sans-serif">10<tspan font-size="12.5" dy="-9.2">0</tspan></text><text x="292.5" y="341.3" font-size="20" text-anchor="middle" font-family="Liberation Sans, sans-serif">10<tspan font-size="12.5" dy="-9.2">2</tspan></text><text x="401.0" y="341.3" font-size="20" text-anchor="middle" font-family="Liberation Sans, sans-serif">10<tspan font-size="12.5" dy="-9.2">4</tspan></text><text x="509.5" y="341.3" font-size="20" text-anchor="middle" font-family="Liberation Sans, sans-serif">10<tspan font-size="12.5" dy="-9.2">6</tspan></text><text x="292.9" y="363" font-size="20.6" text-anchor="middle" font-family="Liberation Sans, sans-serif">Separation (AU)</text><text transform="translate(15.6,161) rotate(-90)" font-size="20.7" text-anchor="middle" font-family="Liberation Sans, sans-serif">Mass ratio (M<tspan font-size="12" dy="4">2</tspan><tspan dy="-4">/M</tspan><tspan font-size="12" dy="4">1</tspan><tspan dy="-4">)</tspan></text><circle cx="419" cy="251.8" r="5.9" fill="#000"/><text x="427.8" y="255.8" font-size="10.2" font-family="Liberation Sans, sans-serif">Direct Imaging</text><circle cx="419" cy="270.5" r="5.9" fill="#3f4fd6"/><text x="428.6" y="274.5" font-size="10.2" font-family="Liberation Sans, sans-serif">Radial Velocity</text><circle cx="419" cy="288.2" r="5.9" fill="#2c5b14"/><text x="429.5" y="292.2" font-size="10.2" font-family="Liberation Sans, sans-serif">Transit</text><circle cx="419" cy="305.7" r="5.9" fill="#c8601a"/><text x="430.1" y="309.7" font-size="10.2" font-family="Liberation Sans, sans-serif">Microlensing</text>
<text x="263.4" y="104.8" font-size="7.2" font-weight="normal" font-family="Liberation Sans, sans-serif">1207 b</text><line x1="272.5" y1="106.8" x2="277.3" y2="110.1" stroke="#000" stroke-width="0.9"/><text x="336.4" y="101.1" font-size="6.5" font-weight="normal" font-family="Liberation Sans, sans-serif">HN Peg b</text><line x1="345.7" y1="103.6" x2="345.7" y2="106.7" stroke="#000" stroke-width="0.9"/><text x="314.2" y="128.1" font-size="6.4" font-weight="normal" font-family="Liberation Sans, sans-serif">HIP 78530 b</text><line x1="339" y1="128.2" x2="342.9" y2="131.4" stroke="#000" stroke-width="0.9"/><text x="350.3" y="143.1" font-size="6.4" font-weight="normal" font-family="Liberation Sans, sans-serif">Ross 458 c</text><line x1="355.2" y1="134.3" x2="355.2" y2="137.5" stroke="#000" stroke-width="0.9"/><text x="332.8" y="154.6" font-size="6.5" font-weight="normal" font-family="Liberation Sans, sans-serif">HD 106906 b</text><line x1="342.8" y1="144.6" x2="342.8" y2="147.4" stroke="#000" stroke-width="0.9"/><text x="245" y="134.4" font-size="7.5" font-weight="normal" font-family="Liberation Sans, sans-serif">HR 8799 cde</text><line x1="259.2" y1="136" x2="255.8" y2="139.4" stroke="#000" stroke-width="0.9"/><line x1="264.3" y1="136" x2="264.3" y2="139.2" stroke="#000" stroke-width="0.9"/><line x1="270" y1="136" x2="272.6" y2="139.4" stroke="#000" stroke-width="0.9"/><text x="291.3" y="171.1" font-size="7.5" font-weight="normal" font-family="Liberation Sans, sans-serif">HR 8799 b</text><line x1="292" y1="157.4" x2="295.8" y2="161.3" stroke="#000" stroke-width="0.9"/><text x="302.8" y="207.7" font-size="7.5" font-weight="normal" font-family="Liberation Sans, sans-serif">HD 97048 b</text><line x1="305.6" y1="194.8" x2="309.2" y2="198.2" stroke="#000" stroke-width="0.9"/><text x="374" y="175.6" font-size="7.5" font-weight="normal" font-family="Liberation Sans, sans-serif">WD 0806 b</text><line x1="375.5" y1="162" x2="378.9" y2="165.1" stroke="#000" stroke-width="0.9"/><text x="433.3" y="110.6" font-size="7.5" font-weight="normal" font-family="Liberation Sans, sans-serif">Eta Cancri B</text><line x1="421.4" y1="108.3" x2="429" y2="108.3" stroke="#000" stroke-width="0.9"/><text x="410.5" y="119.8" font-size="7.5" font-weight="normal" font-family="Liberation Sans, sans-serif">COCONUTS-2b</text><line x1="400.5" y1="117.3" x2="408.7" y2="117.3" stroke="#000" stroke-width="0.9"/><text x="378" y="136.6" font-size="10" font-weight="bold" font-family="Liberation Sans, sans-serif">BD+60 1417B</text><line x1="370.9" y1="124.2" x2="376.2" y2="129.1" stroke="#000" stroke-width="1.35"/><path d="M364.40 111.60L366.57 117.41L372.77 117.68L367.92 121.54L369.57 127.52L364.40 124.10L359.23 127.52L360.88 121.54L356.03 117.68L362.23 117.41Z" fill="#000"/><circle cx="238.1" cy="16.1" r="4.4" fill="#fff" opacity="0.8"/><circle cx="238.1" cy="16.1" r="3.1" fill="#777" stroke="#000" stroke-width="1.1"/><circle cx="257.6" cy="146.2" r="3.5" fill="#170583"/><circle cx="416.7" cy="108.3" r="1.85" fill="#686868"/><circle cx="396.7" cy="117.3" r="1.85" fill="#686868"/><circle cx="374.1" cy="159.4" r="1.85" fill="#686868"/><circle cx="304.1" cy="191.7" r="1.85" fill="#686868"/>
</svg></body></html>
